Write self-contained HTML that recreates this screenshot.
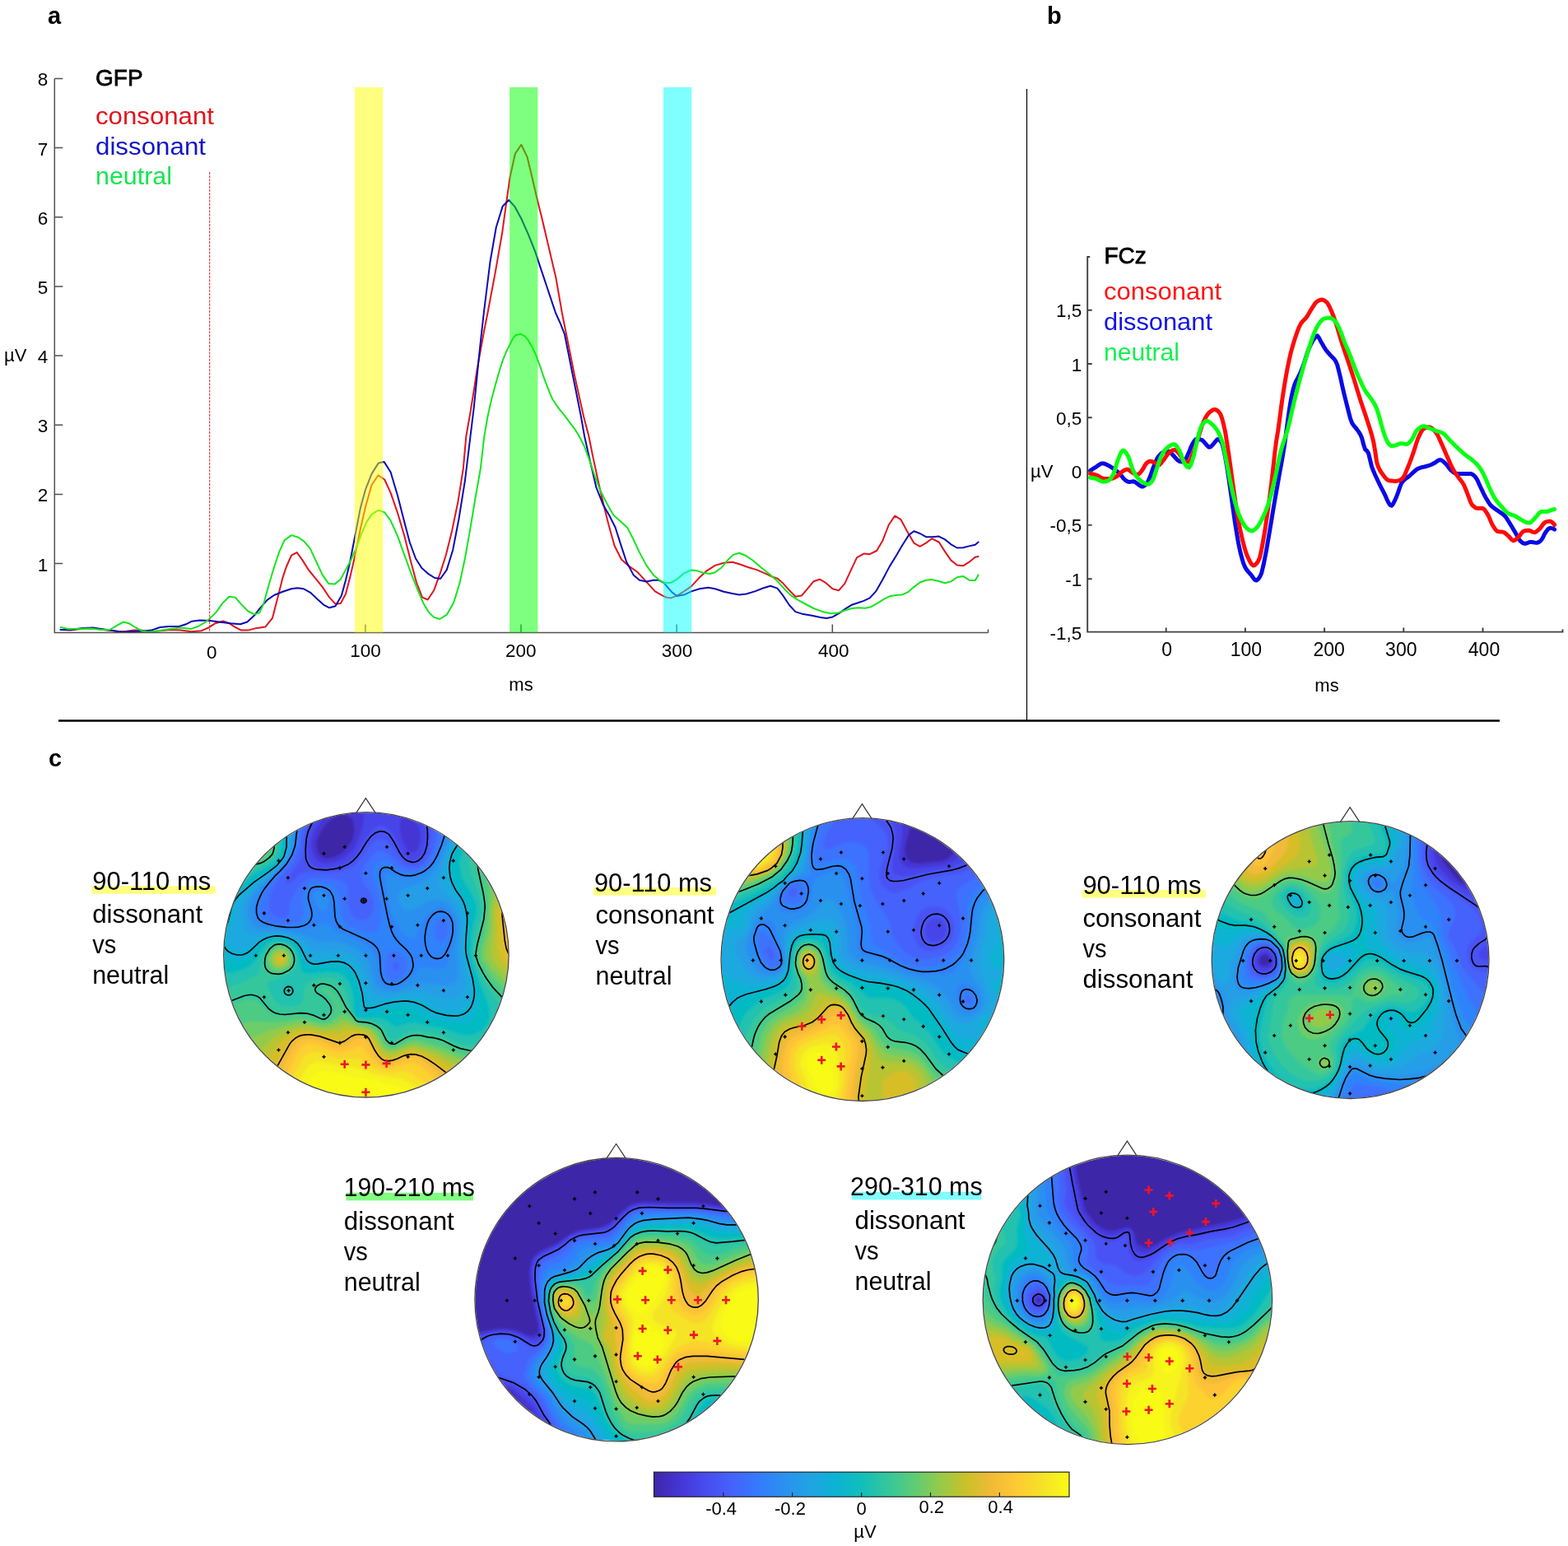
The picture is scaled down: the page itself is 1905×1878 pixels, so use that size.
<!DOCTYPE html>
<html lang="en"><head><meta charset="utf-8"><title>GFP, FCz and topographic difference maps</title>
<style>
html,body{margin:0;padding:0;background:#fff;width:1905px;height:1878px;overflow:hidden}
svg{display:block}
text{font-family:'Liberation Sans', sans-serif}
.ax{stroke:#505050;stroke-width:1.5;fill:none}
.tk{font-size:22px}
.ln{fill:none;stroke-linejoin:round;stroke-linecap:round}
</style></head><body>
<svg width="1905" height="1878" viewBox="0 0 1905 1878" role="img" aria-label="GFP and FCz waveforms with topographic difference maps">
<rect width="1905" height="1878" fill="#fff"/>
<text x="58" y="29" font-size="29" font-weight="bold">a</text>
<text x="1272" y="29" font-size="29" font-weight="bold">b</text>
<text x="59" y="931" font-size="29" font-weight="bold">c</text>
<g id="chart-a">
<path class="ln" stroke="#e0141c" stroke-width="2" d="M73.6,765.0 L85.2,765.6 L102.0,763.5 L114.6,763.5 L129.3,765.6 L144.0,767.1 L152.4,767.1 L162.9,765.6 L171.3,765.6 L181.8,767.7 L194.4,766.2 L207.0,765.0 L219.6,765.6 L232.2,767.3 L244.8,766.2 L253.2,762.5 L261.6,757.2 L271.0,754.5 L278.4,757.2 L285.7,761.8 L293.1,765.6 L301.5,765.6 L312.0,762.9 L322.5,761.4 L330.9,750.9 L337.2,726.8 L343.5,701.6 L347.7,689.0 L354.0,674.7 L360.7,671.1 L367.6,680.6 L375.0,692.5 L383.4,702.6 L391.8,713.1 L400.2,725.7 L407.5,733.7 L413.8,733.1 L420.0,721.5 L425.2,701.6 L431.5,674.3 L437.8,642.8 L444.1,615.5 L451.5,589.2 L459.5,577.3 L467.2,582.5 L474.6,598.7 L483.0,622.8 L491.4,651.2 L498.7,680.6 L506.1,707.9 L513.0,725.7 L519.7,728.5 L527.1,717.3 L534.4,697.4 L541.8,674.3 L549.1,644.9 L556.5,609.2 L562.8,569.3 L566.3,530.0 L571.5,500.7 L575.7,474.5 L579.9,447.2 L584.1,424.1 L588.3,401.0 L592.5,380.0 L601.8,330.6 L610.2,282.3 L615.4,244.5 L619.6,215.1 L625.9,186.7 L633.3,175.8 L640.6,190.9 L645.9,213.0 L652.2,240.3 L658.5,265.5 L666.9,301.2 L675.3,336.9 L682.8,380.0 L687.0,401.0 L692.3,427.2 L697.5,453.5 L702.8,477.6 L709.1,506.0 L715.4,530.0 L720.3,554.6 L726.6,584.0 L732.9,611.3 L739.2,636.5 L746.5,662.7 L754.9,679.5 L764.4,687.9 L774.9,695.3 L785.4,706.8 L795.9,718.4 L806.4,724.3 L810.0,725.7 L815.2,726.4 L822.6,723.6 L831.0,718.4 L840.0,712.1 L848.8,702.6 L858.3,693.6 L868.8,686.9 L879.3,683.7 L889.8,682.7 L898.2,685.2 L908.7,689.0 L919.2,692.1 L929.7,696.7 L938.1,700.5 L944.4,702.6 L950.7,707.9 L959.1,717.3 L966.4,724.7 L973.8,723.6 L981.1,715.2 L988.5,706.2 L995.8,703.7 L1003.2,707.9 L1011.6,715.2 L1018.9,717.3 L1026.3,708.9 L1033.6,693.2 L1041.0,677.4 L1049.4,672.6 L1056.7,673.2 L1065.1,669.0 L1072.5,656.4 L1079.8,637.5 L1087.2,626.6 L1094.5,631.2 L1101.9,644.9 L1110.3,659.6 L1117.6,663.8 L1125.0,659.6 L1132.3,654.3 L1140.7,658.5 L1148.1,670.1 L1155.4,680.6 L1162.8,686.5 L1170.1,687.3 L1177.5,682.7 L1184.8,676.8 L1188.6,676.0"/>
<path class="ln" stroke="#0a0ab4" stroke-width="2" d="M73.6,765.0 L87.3,765.0 L99.9,762.9 L112.5,762.5 L123.0,764.1 L133.5,765.6 L148.2,767.7 L160.8,767.1 L173.4,766.7 L183.9,765.6 L194.4,762.0 L204.9,761.0 L217.5,761.0 L225.9,758.3 L233.2,754.7 L242.7,753.6 L255.3,754.1 L267.9,755.7 L280.5,757.2 L292.0,758.3 L300.4,755.5 L308.8,747.8 L316.2,738.3 L324.6,728.9 L333.0,723.0 L343.5,718.8 L354.0,715.2 L361.3,714.2 L368.7,715.2 L377.1,719.8 L385.5,727.8 L393.9,735.2 L400.2,738.3 L407.5,736.2 L414.9,723.6 L420.0,704.7 L425.2,682.7 L431.5,650.1 L437.8,617.6 L444.1,594.5 L451.5,575.6 L459.9,562.4 L466.6,560.9 L474.6,573.5 L483.0,601.8 L490.3,630.2 L497.7,658.5 L505.0,678.5 L512.4,690.0 L520.8,697.4 L528.1,702.0 L535.1,703.0 L542.8,692.1 L550.2,668.0 L557.5,630.2 L564.9,584.0 L571.5,530.0 L575.7,495.5 L578.9,464.0 L582.0,432.5 L585.2,403.1 L587.8,380.0 L595.5,318.0 L602.8,276.0 L610.6,250.8 L618.2,243.0 L625.3,250.8 L633.3,265.5 L641.7,284.4 L650.1,305.4 L658.5,330.6 L664.8,349.5 L671.1,368.4 L675.0,380.0 L680.7,392.6 L686.0,406.2 L690.2,427.2 L695.4,453.5 L700.7,479.7 L705.9,506.0 L710.1,530.0 L716.1,556.7 L724.5,592.4 L732.9,613.4 L740.2,626.0 L747.6,640.7 L753.9,660.6 L761.2,682.7 L769.6,698.4 L777.0,704.7 L785.4,706.4 L793.8,704.7 L800.1,704.7 L806.4,707.9 L810.0,712.1 L816.3,719.4 L822.6,724.0 L831.0,722.6 L840.0,718.4 L849.9,715.2 L860.4,713.8 L868.8,715.2 L879.3,718.8 L889.8,721.1 L898.2,722.6 L906.6,721.5 L917.1,718.4 L927.6,714.2 L936.0,711.7 L944.4,714.6 L950.7,722.6 L959.1,735.2 L966.4,743.1 L975.9,746.1 L986.4,747.8 L996.9,749.9 L1004.2,750.9 L1011.6,749.4 L1020.0,744.6 L1027.3,739.4 L1034.7,734.8 L1043.1,732.0 L1049.4,729.9 L1056.7,726.4 L1064.1,718.4 L1072.5,703.7 L1080.9,687.9 L1089.3,674.3 L1096.6,661.7 L1104.0,650.1 L1110.3,645.3 L1117.6,648.0 L1125.0,652.2 L1133.4,652.2 L1140.7,651.6 L1148.1,655.4 L1155.4,661.3 L1162.8,665.5 L1170.1,665.2 L1177.5,663.4 L1184.8,661.7 L1188.6,658.5"/>
<path class="ln" stroke="#14e61e" stroke-width="2" d="M73.6,762.0 L83.1,764.1 L97.8,763.7 L110.4,763.5 L123.0,765.0 L133.5,765.0 L142.9,759.3 L149.9,755.5 L156.6,757.2 L165.0,762.5 L173.4,766.7 L181.8,767.7 L192.3,766.2 L207.0,764.1 L219.6,762.5 L232.2,763.9 L240.6,761.0 L249.0,756.2 L255.3,750.9 L262.6,743.6 L270.0,733.1 L278.4,724.7 L285.7,725.7 L293.1,734.1 L301.5,742.5 L308.8,746.1 L315.1,744.6 L320.4,733.1 L326.7,710.0 L333.0,689.0 L339.3,670.1 L345.6,656.4 L354.0,650.1 L362.4,652.7 L369.7,657.9 L377.1,666.9 L384.4,682.7 L391.8,698.4 L399.1,708.9 L406.5,709.6 L413.8,703.7 L420.0,692.1 L426.3,680.6 L432.6,665.9 L438.9,649.1 L445.2,634.4 L451.5,624.9 L459.9,619.7 L467.2,622.4 L474.6,632.3 L483.0,651.2 L491.4,674.3 L499.8,697.4 L508.2,718.4 L514.5,733.1 L520.8,743.6 L527.1,749.9 L534.4,752.0 L542.8,746.7 L551.2,732.0 L558.6,707.9 L564.9,678.5 L571.2,642.8 L577.5,605.0 L583.8,569.3 L588.3,530.0 L592.5,506.0 L596.7,487.1 L602.0,467.1 L606.2,452.4 L610.4,438.8 L614.6,428.3 L618.8,419.9 L623.0,411.5 L626.1,407.3 L632.4,405.7 L637.7,408.3 L641.9,413.6 L646.1,420.9 L650.3,429.3 L653.4,437.7 L656.6,446.1 L659.7,455.6 L663.9,467.1 L668.1,477.6 L671.3,485.0 L675.5,491.3 L679.7,497.1 L686.0,504.9 L692.3,513.3 L698.6,521.7 L703.8,530.0 L709.8,542.0 L716.1,558.8 L722.4,577.7 L728.7,594.5 L737.1,611.3 L745.5,626.0 L753.9,633.3 L762.3,641.1 L768.6,653.3 L777.0,671.1 L785.4,686.9 L793.8,698.4 L802.2,705.4 L808.5,708.5 L810.0,707.9 L815.2,707.9 L822.6,703.7 L831.0,696.3 L840.0,692.5 L847.8,693.6 L856.2,696.3 L862.5,697.0 L868.8,695.3 L877.2,689.0 L883.5,681.0 L890.8,673.9 L898.2,671.8 L905.5,674.7 L915.0,681.0 L925.5,690.0 L936.0,698.4 L944.4,705.8 L952.8,715.2 L961.2,723.6 L969.6,728.9 L978.0,733.5 L988.5,739.0 L999.0,742.9 L1009.5,745.2 L1017.9,744.6 L1026.3,741.5 L1034.7,739.0 L1043.1,738.3 L1051.5,738.7 L1057.8,737.3 L1066.2,732.7 L1074.6,727.4 L1080.9,724.3 L1088.2,723.0 L1095.6,722.6 L1102.9,719.4 L1110.3,713.1 L1117.6,707.5 L1125.0,704.7 L1132.3,704.1 L1139.7,705.8 L1148.1,708.3 L1155.4,706.4 L1162.8,701.2 L1170.1,699.9 L1177.5,704.7 L1184.8,705.1 L1188.6,698.4"/>
<path d="M254.7,209V768" stroke="#e0141c" stroke-width="1" stroke-dasharray="3 1.2" fill="none"/>
<path class="ax" d="M66.3,95.5V768.4H1200.5M66.3,684.6h10M66.3,600.4h10M66.3,516.2h10M66.3,432.1h10M66.3,348.0h10M66.3,263.8h10M66.3,179.6h10M66.3,95.5h10M443.9,768.4v-10M633.0,768.4v-10M822.1,768.4v-10M1011.3,768.4v-10M1200.5,768.4v-4"/>
<rect x="431.0" y="106" width="34.3" height="662.4" fill="#ffff00" fill-opacity="0.5"/>
<rect x="619.1" y="106" width="34.3" height="662.4" fill="#00ff00" fill-opacity="0.5"/>
<rect x="805.9" y="106" width="34.3" height="662.4" fill="#00ffff" fill-opacity="0.5"/>
<text x="58.3" y="693.5" font-size="22.5" text-anchor="end">1</text>
<text x="58.3" y="609.3" font-size="22.5" text-anchor="end">2</text>
<text x="58.3" y="525.1" font-size="22.5" text-anchor="end">3</text>
<text x="58.3" y="441.0" font-size="22.5" text-anchor="end">4</text>
<text x="58.3" y="356.9" font-size="22.5" text-anchor="end">5</text>
<text x="58.3" y="272.7" font-size="22.5" text-anchor="end">6</text>
<text x="58.3" y="188.5" font-size="22.5" text-anchor="end">7</text>
<text x="58.3" y="104.4" font-size="22.5" text-anchor="end">8</text>
<text x="257.2" y="800.3" font-size="22.5" text-anchor="middle">0</text>
<text x="443.9" y="797.8" font-size="22.5" text-anchor="middle">100</text>
<text x="632.7" y="797.8" font-size="22.5" text-anchor="middle">200</text>
<text x="822.6" y="797.8" font-size="22.5" text-anchor="middle">300</text>
<text x="1012.8" y="797.8" font-size="22.5" text-anchor="middle">400</text>
<text x="5" y="439" font-size="22">µV</text>
<text x="633" y="839" font-size="22" text-anchor="middle">ms</text>
<text x="116" y="104" font-size="28" stroke="#000" stroke-width="0.8">GFP</text>
<text x="116" y="150.5" font-size="30" fill="#e0141c" textLength="144" lengthAdjust="spacingAndGlyphs">consonant</text>
<text x="116" y="187.5" font-size="30" fill="#1414c8" textLength="134" lengthAdjust="spacingAndGlyphs">dissonant</text>
<text x="116" y="224" font-size="30" fill="#14e650" textLength="93" lengthAdjust="spacingAndGlyphs">neutral</text>
</g>
<path d="M1247.5,108V875" stroke="#000" stroke-width="1.2" fill="none"/>
<path d="M71,875.5H1822" stroke="#000" stroke-width="2.6" fill="none"/>
<g id="chart-b">
<path class="ln" stroke="#0a0ae6" stroke-width="5" d="M1324.6,571.6 L1326.6,570.3 L1328.6,569.0 L1330.6,567.8 L1332.6,566.6 L1334.6,565.1 L1336.6,563.7 L1338.6,562.9 L1340.6,562.9 L1342.6,563.6 L1344.6,564.4 L1346.6,565.4 L1348.6,566.5 L1350.6,567.8 L1352.6,569.3 L1354.6,570.7 L1356.6,572.2 L1358.6,573.8 L1360.6,575.7 L1362.6,578.1 L1364.6,580.7 L1366.6,582.7 L1368.6,584.2 L1370.6,585.2 L1372.6,585.4 L1374.6,585.1 L1376.6,584.8 L1378.6,585.3 L1380.6,586.7 L1382.6,588.1 L1384.6,589.7 L1386.6,590.9 L1388.6,591.0 L1390.6,589.9 L1392.6,588.2 L1394.6,585.2 L1396.6,580.6 L1398.6,575.4 L1400.6,569.4 L1402.6,564.2 L1404.6,559.6 L1406.6,555.7 L1408.6,553.1 L1410.6,551.0 L1412.6,549.6 L1414.6,549.0 L1416.6,548.7 L1418.6,548.5 L1420.6,548.6 L1422.6,549.9 L1424.6,552.3 L1426.6,554.5 L1428.6,556.7 L1430.6,558.9 L1432.6,560.2 L1434.6,560.7 L1436.6,561.0 L1438.6,560.9 L1440.6,558.0 L1442.6,553.6 L1444.6,549.1 L1446.6,543.8 L1448.6,539.5 L1450.6,536.2 L1452.6,533.8 L1454.6,533.4 L1456.6,533.6 L1458.6,534.0 L1460.6,534.7 L1462.6,536.6 L1464.6,539.0 L1466.6,541.2 L1468.6,543.2 L1470.6,543.1 L1472.6,541.1 L1474.6,538.8 L1476.6,536.4 L1478.6,534.0 L1480.6,533.5 L1482.6,535.3 L1484.6,538.4 L1486.6,545.7 L1488.6,555.5 L1490.6,566.9 L1492.6,579.7 L1494.6,593.4 L1496.6,607.7 L1498.6,622.1 L1500.6,636.0 L1502.6,648.4 L1504.6,660.0 L1506.6,669.3 L1508.6,677.3 L1510.6,684.1 L1512.6,688.9 L1514.6,692.1 L1516.6,694.6 L1518.6,696.8 L1520.6,699.1 L1522.6,702.0 L1524.6,704.4 L1526.6,705.1 L1528.6,703.6 L1530.6,700.7 L1532.6,696.3 L1534.6,688.2 L1536.6,678.6 L1538.6,668.3 L1540.6,656.7 L1542.6,644.9 L1544.6,632.9 L1546.6,620.7 L1548.6,608.9 L1550.6,597.5 L1552.6,586.2 L1554.6,574.9 L1556.6,564.0 L1558.6,552.9 L1560.6,540.6 L1562.6,525.6 L1564.6,510.4 L1566.6,496.4 L1568.6,484.3 L1570.6,475.0 L1572.6,467.8 L1574.6,463.0 L1576.6,459.4 L1578.6,455.4 L1580.6,450.9 L1582.6,445.9 L1584.6,440.4 L1586.6,434.0 L1588.6,427.8 L1590.6,422.8 L1592.6,418.3 L1594.6,414.5 L1596.6,411.4 L1598.6,408.7 L1600.6,407.8 L1602.6,410.7 L1604.6,414.7 L1606.6,418.1 L1608.6,421.6 L1610.6,424.7 L1612.6,427.3 L1614.6,429.5 L1616.6,431.8 L1618.6,433.9 L1620.6,435.8 L1622.6,438.4 L1624.6,442.9 L1626.6,450.6 L1628.6,458.9 L1630.6,468.2 L1632.6,476.9 L1634.6,485.0 L1636.6,492.8 L1638.6,500.8 L1640.6,508.6 L1642.6,513.8 L1644.6,516.8 L1646.6,519.1 L1648.6,521.6 L1650.6,524.4 L1652.6,527.6 L1654.6,532.2 L1656.6,539.9 L1658.6,546.1 L1660.6,547.6 L1662.6,550.7 L1664.6,558.9 L1666.6,566.9 L1668.6,572.1 L1670.6,576.7 L1672.6,581.0 L1674.6,585.2 L1676.6,589.3 L1678.6,593.3 L1680.6,597.1 L1682.6,601.1 L1684.6,605.7 L1686.6,610.0 L1688.6,613.2 L1690.6,614.2 L1692.6,612.0 L1694.6,607.9 L1696.6,603.5 L1698.6,598.1 L1700.6,592.1 L1702.6,587.1 L1704.6,584.4 L1706.6,582.5 L1708.6,580.9 L1710.6,579.5 L1712.6,577.8 L1714.6,576.0 L1716.6,574.1 L1718.6,572.3 L1720.6,570.7 L1722.6,569.4 L1724.6,568.6 L1726.6,567.9 L1728.6,567.4 L1730.6,567.0 L1732.6,566.5 L1734.6,565.9 L1736.6,565.3 L1738.6,564.5 L1740.6,563.6 L1742.6,562.6 L1744.6,561.2 L1746.6,559.7 L1748.6,558.7 L1750.6,558.8 L1752.6,559.9 L1754.6,561.6 L1756.6,563.5 L1758.6,565.9 L1760.6,568.7 L1762.6,571.0 L1764.6,572.7 L1766.6,574.3 L1768.6,575.3 L1770.6,575.4 L1772.6,575.4 L1774.6,575.4 L1776.6,575.4 L1778.6,575.4 L1780.6,575.4 L1782.6,575.4 L1784.6,575.4 L1786.6,575.4 L1788.6,576.1 L1790.6,577.6 L1792.6,579.6 L1794.6,582.6 L1796.6,587.0 L1798.6,591.5 L1800.6,595.6 L1802.6,599.8 L1804.6,603.7 L1806.6,607.1 L1808.6,610.4 L1810.6,613.2 L1812.6,615.3 L1814.6,616.9 L1816.6,618.2 L1818.6,619.6 L1820.6,621.0 L1822.6,622.4 L1824.6,623.7 L1826.6,625.2 L1828.6,627.1 L1830.6,629.8 L1832.6,633.0 L1834.6,636.3 L1836.6,639.5 L1838.6,642.9 L1840.6,646.2 L1842.6,649.8 L1844.6,653.6 L1846.6,656.6 L1848.6,658.5 L1850.6,659.9 L1852.6,660.4 L1854.6,660.0 L1856.6,659.2 L1858.6,658.5 L1860.6,658.4 L1862.6,658.7 L1864.6,659.1 L1866.6,659.4 L1868.6,659.0 L1870.6,657.8 L1872.6,656.0 L1874.6,652.7 L1876.6,648.5 L1878.6,645.5 L1880.6,642.9 L1882.6,641.6 L1884.6,641.6 L1886.6,641.9 L1888.6,643.1"/>
<path class="ln" stroke="#ff0a0a" stroke-width="5" d="M1324.6,575.4 L1326.6,575.7 L1328.6,576.1 L1330.6,576.7 L1332.6,577.3 L1334.6,578.4 L1336.6,579.7 L1338.6,580.8 L1340.6,581.3 L1342.6,581.4 L1344.6,581.6 L1346.6,581.6 L1348.6,581.7 L1350.6,581.5 L1352.6,580.8 L1354.6,579.9 L1356.6,578.8 L1358.6,577.4 L1360.6,575.4 L1362.6,573.5 L1364.6,572.2 L1366.6,571.0 L1368.6,570.3 L1370.6,570.3 L1372.6,571.6 L1374.6,573.4 L1376.6,574.6 L1378.6,575.5 L1380.6,576.2 L1382.6,576.4 L1384.6,575.0 L1386.6,572.5 L1388.6,569.7 L1390.6,566.0 L1392.6,563.0 L1394.6,561.3 L1396.6,560.3 L1398.6,560.5 L1400.6,561.1 L1402.6,561.9 L1404.6,563.3 L1406.6,564.7 L1408.6,564.6 L1410.6,562.7 L1412.6,560.1 L1414.6,557.6 L1416.6,554.7 L1418.6,551.8 L1420.6,549.8 L1422.6,548.1 L1424.6,546.9 L1426.6,546.4 L1428.6,547.2 L1430.6,549.0 L1432.6,551.1 L1434.6,554.1 L1436.6,558.0 L1438.6,560.5 L1440.6,560.9 L1442.6,561.1 L1444.6,561.0 L1446.6,558.0 L1448.6,552.6 L1450.6,547.4 L1452.6,541.4 L1454.6,535.1 L1456.6,528.9 L1458.6,522.4 L1460.6,516.2 L1462.6,511.4 L1464.6,507.4 L1466.6,504.1 L1468.6,501.7 L1470.6,499.9 L1472.6,498.4 L1474.6,497.4 L1476.6,497.4 L1478.6,498.4 L1480.6,500.2 L1482.6,502.7 L1484.6,508.0 L1486.6,515.7 L1488.6,524.8 L1490.6,537.0 L1492.6,550.3 L1494.6,564.3 L1496.6,579.1 L1498.6,593.4 L1500.6,607.6 L1502.6,620.8 L1504.6,632.3 L1506.6,642.7 L1508.6,651.9 L1510.6,660.0 L1512.6,667.4 L1514.6,673.6 L1516.6,678.1 L1518.6,682.2 L1520.6,685.4 L1522.6,687.0 L1524.6,686.6 L1526.6,684.6 L1528.6,681.6 L1530.6,676.9 L1532.6,667.8 L1534.6,657.1 L1536.6,645.5 L1538.6,632.2 L1540.6,618.2 L1542.6,603.4 L1544.6,587.6 L1546.6,570.3 L1548.6,551.6 L1550.6,535.7 L1552.6,523.9 L1554.6,509.6 L1556.6,494.1 L1558.6,480.2 L1560.6,467.3 L1562.6,455.7 L1564.6,444.9 L1566.6,435.5 L1568.6,427.2 L1570.6,419.9 L1572.6,413.3 L1574.6,407.2 L1576.6,401.5 L1578.6,396.6 L1580.6,392.9 L1582.6,390.4 L1584.6,388.3 L1586.6,386.3 L1588.6,383.5 L1590.6,380.1 L1592.6,376.6 L1594.6,373.4 L1596.6,370.3 L1598.6,367.5 L1600.6,365.9 L1602.6,364.9 L1604.6,364.2 L1606.6,364.0 L1608.6,364.8 L1610.6,366.2 L1612.6,368.0 L1614.6,371.4 L1616.6,375.7 L1618.6,380.3 L1620.6,385.5 L1622.6,391.3 L1624.6,397.4 L1626.6,404.2 L1628.6,411.1 L1630.6,417.5 L1632.6,423.5 L1634.6,429.4 L1636.6,435.3 L1638.6,441.3 L1640.6,447.2 L1642.6,453.2 L1644.6,459.4 L1646.6,465.8 L1648.6,472.4 L1650.6,479.0 L1652.6,485.4 L1654.6,491.5 L1656.6,497.4 L1658.6,503.2 L1660.6,509.3 L1662.6,515.6 L1664.6,521.8 L1666.6,528.4 L1668.6,536.3 L1670.6,547.4 L1672.6,561.4 L1674.6,567.4 L1676.6,571.5 L1678.6,574.5 L1680.6,577.2 L1682.6,579.9 L1684.6,582.1 L1686.6,583.5 L1688.6,583.9 L1690.6,584.1 L1692.6,584.3 L1694.6,584.4 L1696.6,584.4 L1698.6,584.0 L1700.6,583.2 L1702.6,582.2 L1704.6,580.5 L1706.6,576.9 L1708.6,572.2 L1710.6,567.3 L1712.6,562.4 L1714.6,557.0 L1716.6,551.4 L1718.6,545.4 L1720.6,538.8 L1722.6,533.0 L1724.6,528.6 L1726.6,524.6 L1728.6,521.6 L1730.6,520.3 L1732.6,519.4 L1734.6,518.8 L1736.6,518.7 L1738.6,519.6 L1740.6,521.1 L1742.6,523.1 L1744.6,525.3 L1746.6,528.5 L1748.6,532.7 L1750.6,537.3 L1752.6,541.7 L1754.6,546.3 L1756.6,550.9 L1758.6,555.5 L1760.6,560.1 L1762.6,564.6 L1764.6,568.8 L1766.6,572.3 L1768.6,575.3 L1770.6,578.1 L1772.6,580.9 L1774.6,583.3 L1776.6,585.9 L1778.6,589.3 L1780.6,594.0 L1782.6,599.2 L1784.6,604.4 L1786.6,609.9 L1788.6,613.4 L1790.6,615.3 L1792.6,616.8 L1794.6,617.4 L1796.6,617.4 L1798.6,617.4 L1800.6,617.4 L1802.6,618.1 L1804.6,620.5 L1806.6,623.6 L1808.6,627.1 L1810.6,631.9 L1812.6,636.5 L1814.6,639.9 L1816.6,642.9 L1818.6,645.1 L1820.6,645.8 L1822.6,646.0 L1824.6,646.1 L1826.6,646.4 L1828.6,647.5 L1830.6,649.3 L1832.6,651.0 L1834.6,653.2 L1836.6,655.6 L1838.6,656.8 L1840.6,656.2 L1842.6,654.5 L1844.6,652.5 L1846.6,650.3 L1848.6,647.6 L1850.6,645.5 L1852.6,644.8 L1854.6,644.5 L1856.6,644.3 L1858.6,644.4 L1860.6,645.4 L1862.6,646.4 L1864.6,646.7 L1866.6,645.7 L1868.6,644.1 L1870.6,642.3 L1872.6,639.9 L1874.6,637.0 L1876.6,634.8 L1878.6,633.9 L1880.6,633.4 L1882.6,633.1 L1884.6,633.6 L1886.6,635.2 L1888.6,637.5"/>
<path class="ln" stroke="#0aff14" stroke-width="5" d="M1324.6,580.2 L1326.6,580.5 L1328.6,580.9 L1330.6,581.3 L1332.6,581.9 L1334.6,582.9 L1336.6,584.0 L1338.6,584.9 L1340.6,585.2 L1342.6,585.0 L1344.6,584.5 L1346.6,583.8 L1348.6,582.3 L1350.6,579.6 L1352.6,576.0 L1354.6,570.8 L1356.6,563.5 L1358.6,557.6 L1360.6,552.7 L1362.6,548.6 L1364.6,547.0 L1366.6,548.2 L1368.6,550.7 L1370.6,554.1 L1372.6,559.1 L1374.6,566.1 L1376.6,571.3 L1378.6,575.2 L1380.6,578.4 L1382.6,580.9 L1384.6,582.9 L1386.6,584.6 L1388.6,585.9 L1390.6,587.0 L1392.6,587.9 L1394.6,588.4 L1396.6,587.8 L1398.6,585.8 L1400.6,583.1 L1402.6,578.1 L1404.6,571.6 L1406.6,565.7 L1408.6,559.6 L1410.6,554.6 L1412.6,550.9 L1414.6,547.7 L1416.6,545.2 L1418.6,543.5 L1420.6,542.0 L1422.6,540.8 L1424.6,540.0 L1426.6,539.7 L1428.6,540.9 L1430.6,543.6 L1432.6,546.8 L1434.6,551.3 L1436.6,557.2 L1438.6,562.1 L1440.6,565.0 L1442.6,567.3 L1444.6,568.0 L1446.6,564.9 L1448.6,559.3 L1450.6,552.7 L1452.6,543.3 L1454.6,534.1 L1456.6,526.4 L1458.6,519.6 L1460.6,515.8 L1462.6,513.5 L1464.6,511.8 L1466.6,511.4 L1468.6,512.1 L1470.6,513.7 L1472.6,515.5 L1474.6,517.4 L1476.6,519.6 L1478.6,522.4 L1480.6,525.8 L1482.6,530.2 L1484.6,535.6 L1486.6,542.9 L1488.6,552.9 L1490.6,563.4 L1492.6,574.0 L1494.6,584.6 L1496.6,594.0 L1498.6,602.6 L1500.6,610.4 L1502.6,617.1 L1504.6,623.1 L1506.6,628.3 L1508.6,632.6 L1510.6,636.2 L1512.6,639.3 L1514.6,641.5 L1516.6,643.1 L1518.6,644.4 L1520.6,645.1 L1522.6,644.6 L1524.6,643.1 L1526.6,641.1 L1528.6,638.8 L1530.6,635.7 L1532.6,631.9 L1534.6,627.8 L1536.6,623.4 L1538.6,618.5 L1540.6,613.0 L1542.6,606.8 L1544.6,599.4 L1546.6,591.1 L1548.6,582.5 L1550.6,573.6 L1552.6,564.0 L1554.6,554.4 L1556.6,546.1 L1558.6,539.4 L1560.6,533.6 L1562.6,527.8 L1564.6,521.2 L1566.6,513.0 L1568.6,504.0 L1570.6,495.1 L1572.6,486.8 L1574.6,478.8 L1576.6,471.0 L1578.6,463.4 L1580.6,456.0 L1582.6,448.8 L1584.6,441.8 L1586.6,435.0 L1588.6,428.5 L1590.6,422.1 L1592.6,415.7 L1594.6,409.7 L1596.6,404.6 L1598.6,400.0 L1600.6,396.1 L1602.6,393.0 L1604.6,390.4 L1606.6,388.3 L1608.6,387.1 L1610.6,386.6 L1612.6,386.2 L1614.6,386.0 L1616.6,386.3 L1618.6,387.3 L1620.6,388.7 L1622.6,390.6 L1624.6,393.9 L1626.6,397.8 L1628.6,402.2 L1630.6,407.6 L1632.6,413.3 L1634.6,418.4 L1636.6,423.0 L1638.6,427.6 L1640.6,432.4 L1642.6,437.8 L1644.6,443.2 L1646.6,448.4 L1648.6,453.3 L1650.6,458.0 L1652.6,462.4 L1654.6,466.8 L1656.6,470.9 L1658.6,474.6 L1660.6,477.6 L1662.6,480.1 L1664.6,482.7 L1666.6,485.6 L1668.6,488.6 L1670.6,492.1 L1672.6,496.6 L1674.6,502.6 L1676.6,509.5 L1678.6,517.1 L1680.6,523.9 L1682.6,529.9 L1684.6,534.9 L1686.6,538.1 L1688.6,540.6 L1690.6,541.8 L1692.6,541.6 L1694.6,541.1 L1696.6,540.6 L1698.6,539.7 L1700.6,538.9 L1702.6,538.6 L1704.6,538.9 L1706.6,539.4 L1708.6,539.7 L1710.6,539.0 L1712.6,537.1 L1714.6,534.8 L1716.6,531.7 L1718.6,527.4 L1720.6,523.6 L1722.6,521.6 L1724.6,519.9 L1726.6,518.5 L1728.6,517.7 L1730.6,517.7 L1732.6,518.3 L1734.6,519.2 L1736.6,520.2 L1738.6,521.0 L1740.6,521.8 L1742.6,522.5 L1744.6,523.3 L1746.6,524.0 L1748.6,524.6 L1750.6,525.2 L1752.6,526.0 L1754.6,527.3 L1756.6,529.3 L1758.6,531.6 L1760.6,533.9 L1762.6,535.9 L1764.6,538.0 L1766.6,540.0 L1768.6,542.0 L1770.6,543.9 L1772.6,545.8 L1774.6,547.6 L1776.6,549.4 L1778.6,551.1 L1780.6,552.7 L1782.6,554.2 L1784.6,555.7 L1786.6,557.1 L1788.6,558.7 L1790.6,560.5 L1792.6,562.3 L1794.6,564.4 L1796.6,566.7 L1798.6,569.5 L1800.6,572.8 L1802.6,576.5 L1804.6,580.7 L1806.6,585.5 L1808.6,590.3 L1810.6,594.7 L1812.6,599.0 L1814.6,602.9 L1816.6,606.1 L1818.6,608.9 L1820.6,611.3 L1822.6,613.6 L1824.6,615.8 L1826.6,618.1 L1828.6,620.4 L1830.6,622.3 L1832.6,623.7 L1834.6,624.6 L1836.6,625.3 L1838.6,625.9 L1840.6,626.7 L1842.6,627.8 L1844.6,629.1 L1846.6,630.5 L1848.6,631.7 L1850.6,632.7 L1852.6,633.7 L1854.6,634.6 L1856.6,635.1 L1858.6,635.1 L1860.6,633.8 L1862.6,631.8 L1864.6,629.5 L1866.6,627.4 L1868.6,624.8 L1870.6,622.5 L1872.6,621.6 L1874.6,621.6 L1876.6,621.6 L1878.6,621.6 L1880.6,621.2 L1882.6,620.4 L1884.6,619.6 L1886.6,619.0 L1888.6,618.6"/>
<path class="ax" style="stroke:#404040;stroke-width:1.9" d="M1324.2,312H1321.2V767.6H1898.5v-3M1321.2,376.7h5.5M1321.2,442.0h5.5M1321.2,507.3h5.5M1321.2,572.6h5.5M1321.2,637.9h5.5M1321.2,703.2h5.5M1416.7,767.6v-5M1512.9,767.6v-5M1609.1,767.6v-5M1705.3,767.6v-5M1801.5,767.6v-5"/>
<text x="1314.3" y="385.2" font-size="22.5" text-anchor="end">1,5</text>
<text x="1314.3" y="450.5" font-size="22.5" text-anchor="end">1</text>
<text x="1314.3" y="515.8" font-size="22.5" text-anchor="end">0,5</text>
<text x="1314.3" y="581.1" font-size="22.5" text-anchor="end">0</text>
<text x="1314.3" y="646.4" font-size="22.5" text-anchor="end">-0,5</text>
<text x="1314.3" y="711.7" font-size="22.5" text-anchor="end">-1</text>
<text x="1314.3" y="777.0" font-size="22.5" text-anchor="end">-1,5</text>
<text x="1417.7" y="797" font-size="23" text-anchor="middle">0</text>
<text x="1513.9" y="797" font-size="23" text-anchor="middle">100</text>
<text x="1614.6" y="797" font-size="23" text-anchor="middle">200</text>
<text x="1702.3" y="797" font-size="23" text-anchor="middle">300</text>
<text x="1803.0" y="797" font-size="23" text-anchor="middle">400</text>
<text x="1252" y="580" font-size="22">µV</text>
<text x="1612" y="840" font-size="22" text-anchor="middle">ms</text>
<text x="1341.5" y="320" font-size="28" stroke="#000" stroke-width="0.8">FCz</text>
<text x="1341" y="364" font-size="30" fill="#ff1414" textLength="143" lengthAdjust="spacingAndGlyphs">consonant</text>
<text x="1341" y="401" font-size="30" fill="#1414e6" textLength="132" lengthAdjust="spacingAndGlyphs">dissonant</text>
<text x="1341" y="438" font-size="30" fill="#14f050" textLength="92" lengthAdjust="spacingAndGlyphs">neutral</text>
</g>
<defs><filter id="bl" x="-5%" y="-5%" width="110%" height="110%"><feGaussianBlur stdDeviation="1.6"/></filter></defs>
<g id="map1">
<clipPath id="cp0"><circle cx="444.9" cy="1159.8" r="172.6"/></clipPath>
<path d="M432.4,987.8L444.4,969.6L456.4,987.8" fill="#fff" stroke="#333" stroke-width="1.2"/>
<g clip-path="url(#cp0)"><g filter="url(#bl)">
<circle cx="444.9" cy="1159.8" r="175.2" fill="#3e26a8"/>
<path fill="#4536d5" fill-rule="evenodd" d="M258,973 632,973 632,1347 258,1347ZM413,990 406,993 398,999 391,1008 387,1016 384,1023 385,1031 387,1037 390,1040 393,1042 396,1043 402,1042 407,1041 413,1038 418,1034 421,1031 425,1025 428,1020 430,1014 431,1008 430,1003 429,997 426,993 422,991 419,989Z"/>
<path fill="#4744e9" fill-rule="evenodd" d="M258,973 632,973 632,1347 258,1347ZM422,974 417,976 411,978 406,981 400,985 394,991 391,996 382,1010 380,1016 379,1021 378,1027 379,1033 381,1038 383,1042 385,1045 389,1047 394,1049 400,1048 407,1047 415,1044 421,1040 427,1034 431,1029 435,1021 438,1012 441,1003 442,991 442,988 442,984 439,980 435,976 430,975ZM490,992 487,995 486,1001 486,1010 488,1020 492,1027 495,1033 499,1035 503,1035 505,1035 507,1033 508,1030 510,1025 511,1016 510,1008 507,1001 505,999 501,995 495,992 492,992Z"/>
<path fill="#4853f5" fill-rule="evenodd" d="M258,973 401,973 393,982 383,997 378,1006 376,1012 374,1023 373,1031 374,1038 375,1042 378,1048 379,1050 383,1053 389,1054 394,1054 402,1054 411,1052 419,1049 424,1046 429,1042 434,1036 445,1017 451,1010 456,1005 462,1003 465,1003 469,1005 475,1010 479,1016 487,1033 490,1038 494,1042 497,1044 501,1045 505,1044 508,1042 512,1038 515,1031 517,1021 517,1010 515,999 512,990 508,982 502,973 632,973 632,1347 258,1347Z"/>
<path fill="#4562fc" fill-rule="evenodd" d="M258,973 391,973 381,988 373,1006 370,1015 368,1034 366,1042 362,1049 348,1068 347,1072 348,1074 350,1074 353,1072 364,1062 370,1060 374,1059 391,1060 404,1060 417,1058 424,1055 430,1052 434,1048 451,1025 456,1021 462,1019 467,1020 471,1022 475,1027 486,1042 492,1048 495,1049 501,1051 507,1050 510,1048 515,1044 519,1038 521,1031 523,1021 524,1010 522,993 520,982 517,973 632,973 632,1347 258,1347ZM439,1094 439,1094 439,1096 439,1097 441,1096 442,1094 441,1094Z"/>
<path fill="#3c72ff" fill-rule="evenodd" d="M258,973 383,973 376,987 368,1005 366,1012 364,1029 360,1040 353,1051 338,1068 335,1074 331,1081 329,1087 327,1095 327,1102 327,1106 330,1109 335,1113 338,1114 342,1115 348,1114 351,1111 352,1109 352,1106 352,1098 353,1094 362,1079 368,1072 374,1068 379,1067 389,1066 402,1067 413,1069 417,1071 421,1074 422,1076 423,1079 423,1098 425,1107 428,1112 431,1115 436,1117 439,1118 445,1117 449,1114 452,1109 454,1102 454,1094 451,1087 449,1082 441,1072 439,1066 439,1063 440,1059 442,1053 445,1048 451,1041 454,1037 458,1034 464,1034 467,1035 471,1037 486,1050 490,1053 494,1054 499,1055 505,1055 510,1053 516,1049 520,1044 525,1036 527,1029 530,1020 531,1008 531,995 530,984 528,973 632,973 632,1347 258,1347ZM480,1169 479,1170 477,1171 477,1175 477,1177 478,1179 480,1179 482,1179 484,1177 485,1175 486,1173 484,1170 482,1169Z"/>
<path fill="#2f82fa" fill-rule="evenodd" d="M258,973 376,973 370,987 365,1003 363,1010 361,1027 357,1038 350,1049 335,1066 329,1074 323,1083 319,1091 317,1100 316,1106 317,1111 320,1115 323,1117 330,1121 336,1122 346,1123 351,1123 357,1122 362,1121 366,1117 369,1111 369,1107 368,1096 368,1091 369,1085 371,1079 375,1076 379,1073 385,1072 393,1073 398,1074 403,1076 406,1078 409,1082 412,1089 414,1107 415,1113 418,1119 421,1122 426,1126 434,1129 443,1132 451,1133 456,1132 460,1128 462,1122 463,1115 463,1104 462,1092 460,1085 453,1064 453,1059 455,1053 458,1049 460,1048 464,1046 467,1046 473,1048 484,1056 488,1058 494,1060 499,1060 505,1059 510,1058 515,1055 520,1051 525,1046 529,1038 533,1027 536,1016 538,1006 538,995 539,984 538,973 632,973 632,1347 258,1347ZM473,1156 471,1157 470,1160 468,1165 467,1173 467,1181 469,1186 472,1190 475,1191 480,1191 484,1190 487,1188 492,1182 495,1177 495,1173 495,1169 492,1163 486,1158 482,1156 479,1155 475,1155ZM533,1117 531,1119 529,1122 527,1128 527,1132 528,1137 530,1141 533,1144 535,1145 538,1144 542,1140 545,1134 545,1126 544,1121 541,1117 538,1115 537,1115Z"/>
<path fill="#2c90f0" fill-rule="evenodd" d="M258,973 370,973 364,988 361,1001 359,1008 358,1025 354,1038 347,1049 326,1072 319,1079 316,1085 311,1094 309,1102 309,1109 310,1115 312,1118 314,1120 320,1123 332,1126 350,1128 363,1129 374,1128 381,1126 391,1121 394,1121 396,1122 405,1128 412,1132 437,1143 445,1148 450,1152 454,1157 456,1162 458,1167 460,1184 463,1192 465,1195 467,1197 471,1198 475,1199 480,1198 484,1197 492,1193 499,1188 508,1178 512,1175 518,1175 533,1177 537,1176 540,1175 542,1173 544,1170 546,1163 552,1137 553,1126 552,1121 551,1117 548,1111 546,1108 542,1105 538,1104 535,1103 531,1103 525,1106 519,1111 515,1117 507,1132 503,1138 501,1139 499,1140 497,1139 494,1137 488,1132 482,1124 479,1118 475,1109 471,1094 469,1081 468,1070 469,1064 471,1062 473,1062 484,1065 490,1067 495,1067 501,1066 508,1064 514,1062 520,1058 525,1053 529,1047 533,1040 539,1025 543,1014 544,1005 546,993 547,973 632,973 632,1347 258,1347ZM383,1083 387,1082 391,1082 395,1085 397,1089 399,1094 398,1100 396,1105 394,1107 393,1107 391,1107 389,1105 385,1100 382,1094 381,1091 381,1087 381,1085Z"/>
<path fill="#259de7" fill-rule="evenodd" d="M258,973 364,973 360,986 357,999 356,1008 355,1027 351,1038 348,1044 344,1049 338,1056 325,1068 316,1077 310,1085 305,1092 302,1100 301,1106 302,1113 305,1120 308,1125 310,1126 314,1128 320,1129 340,1130 355,1133 366,1135 383,1143 389,1144 402,1143 409,1144 419,1146 428,1150 434,1153 439,1157 443,1161 446,1165 449,1173 454,1191 458,1198 461,1201 464,1202 467,1204 473,1204 479,1204 485,1203 505,1196 512,1194 520,1194 538,1197 546,1196 549,1195 552,1194 554,1192 556,1188 556,1184 557,1179 555,1154 557,1134 557,1124 557,1119 555,1113 553,1109 550,1104 546,1099 540,1095 535,1093 529,1093 523,1094 518,1096 503,1105 499,1106 495,1106 492,1105 488,1101 485,1096 484,1091 485,1085 488,1081 492,1079 508,1074 516,1070 523,1064 530,1055 535,1046 546,1020 549,1012 553,993 555,973 632,973 632,1347 258,1347Z"/>
<path fill="#1da9e0" fill-rule="evenodd" d="M258,973 359,973 355,988 354,999 352,1029 350,1036 347,1042 344,1047 338,1053 317,1072 309,1079 299,1091 295,1098 294,1104 294,1111 299,1130 301,1134 303,1135 307,1135 331,1133 338,1133 348,1134 357,1137 364,1141 370,1145 378,1154 379,1155 383,1157 389,1157 402,1155 409,1154 417,1156 424,1158 432,1163 437,1169 442,1179 448,1195 451,1201 454,1206 460,1209 465,1210 473,1209 482,1208 499,1205 508,1205 518,1206 538,1212 546,1213 553,1212 559,1209 563,1204 565,1197 566,1192 565,1184 561,1160 560,1154 561,1128 561,1121 560,1111 558,1106 555,1100 550,1093 535,1079 533,1076 533,1070 536,1059 542,1038 552,1018 557,1006 561,990 563,973 632,973 632,1347 258,1347Z"/>
<path fill="#0cb3d3" fill-rule="evenodd" d="M258,973 354,973 351,986 350,999 349,1029 346,1040 344,1044 338,1051 309,1074 293,1089 288,1094 287,1098 285,1104 283,1121 278,1132 277,1137 277,1141 278,1145 280,1149 281,1150 284,1152 288,1154 292,1155 295,1154 301,1152 316,1141 325,1137 331,1136 338,1136 350,1138 357,1141 363,1145 367,1150 374,1163 376,1165 379,1167 385,1168 402,1165 411,1164 419,1166 422,1168 426,1170 431,1175 435,1180 438,1188 446,1212 448,1216 451,1218 456,1218 482,1214 492,1213 501,1213 507,1214 512,1216 527,1223 533,1226 540,1228 548,1228 553,1228 559,1227 563,1225 566,1222 569,1218 572,1212 573,1207 573,1203 572,1190 564,1156 564,1147 566,1122 565,1111 561,1098 558,1092 549,1079 545,1072 544,1066 543,1061 543,1053 544,1048 546,1040 548,1034 558,1018 563,1006 568,991 571,973 632,973 632,1347 258,1347Z"/>
<path fill="#03bbc2" fill-rule="evenodd" d="M258,973 349,973 346,999 346,1029 343,1040 338,1047 335,1051 325,1058 309,1068 290,1083 284,1089 279,1094 276,1102 265,1126 261,1137 261,1145 262,1151 264,1156 268,1162 274,1165 280,1167 288,1168 295,1166 301,1164 305,1161 318,1147 325,1141 331,1139 336,1139 340,1139 346,1140 354,1143 357,1145 361,1149 364,1154 370,1169 372,1172 376,1174 379,1175 383,1176 400,1173 409,1173 417,1175 421,1177 424,1180 427,1184 430,1190 433,1195 435,1203 436,1212 435,1227 435,1231 436,1233 437,1234 441,1233 447,1231 462,1228 479,1223 486,1222 492,1222 497,1223 503,1225 520,1234 525,1237 548,1242 559,1243 565,1243 568,1242 572,1240 576,1236 578,1233 580,1227 581,1222 582,1214 581,1207 577,1190 572,1171 568,1156 569,1134 571,1115 570,1104 569,1098 567,1092 557,1077 552,1066 551,1059 550,1053 550,1048 551,1042 554,1036 564,1020 570,1008 575,991 580,973 632,973 632,1347 258,1347Z"/>
<path fill="#22c1b0" fill-rule="evenodd" d="M258,973 344,973 342,997 342,1029 341,1036 340,1040 335,1046 331,1049 323,1054 314,1059 308,1062 287,1077 280,1083 274,1089 270,1094 258,1112ZM588,973 632,973 632,1347 258,1347 258,1177 262,1179 267,1181 277,1182 286,1181 297,1177 304,1173 308,1169 312,1164 318,1154 322,1149 327,1145 333,1142 338,1142 346,1143 351,1145 357,1150 360,1154 362,1160 366,1178 368,1181 370,1182 374,1183 378,1183 394,1181 404,1181 412,1182 415,1184 419,1187 424,1193 427,1201 429,1210 430,1227 432,1233 434,1236 437,1237 451,1236 462,1237 470,1240 479,1247 480,1247 484,1247 495,1243 501,1242 507,1243 520,1246 537,1249 557,1256 566,1258 574,1257 580,1255 585,1252 589,1248 593,1242 595,1236 595,1231 594,1223 591,1214 583,1195 580,1186 574,1169 572,1158 572,1152 573,1134 578,1113 579,1107 579,1102 577,1094 574,1088 562,1068 560,1059 558,1049 559,1044 560,1040 572,1020 579,1005 584,990Z"/>
<path fill="#34c79c" fill-rule="evenodd" d="M258,973 339,973 338,991 338,1023 337,1034 334,1040 331,1044 323,1049 310,1055 279,1076 268,1085 258,1095ZM597,973 632,973 632,1347 258,1347 258,1199 263,1200 269,1200 280,1198 295,1193 312,1185 314,1182 315,1180 319,1164 322,1156 324,1152 328,1149 331,1147 335,1145 338,1145 342,1145 348,1147 351,1149 355,1152 358,1156 360,1162 360,1165 360,1171 359,1175 357,1179 355,1181 346,1186 329,1191 327,1192 325,1193 325,1195 325,1199 331,1210 336,1218 342,1222 346,1223 351,1223 359,1222 365,1220 367,1218 368,1216 369,1203 370,1199 373,1195 378,1192 385,1189 393,1188 400,1188 406,1189 409,1191 413,1194 417,1199 421,1207 426,1225 432,1237 434,1239 436,1239 445,1240 450,1240 456,1242 461,1244 466,1248 468,1251 473,1261 475,1263 477,1263 480,1263 492,1256 497,1253 503,1252 508,1252 533,1256 540,1259 553,1265 561,1268 566,1269 574,1269 581,1268 589,1265 595,1262 600,1257 604,1251 607,1244 609,1236 608,1229 607,1223 605,1218 593,1201 587,1191 579,1173 576,1162 575,1154 578,1138 579,1132 584,1115 585,1102 584,1094 581,1085 572,1061 571,1055 570,1049 571,1044 572,1038 588,1003 593,988Z"/>
<path fill="#4bcb84" fill-rule="evenodd" d="M258,973 333,973 334,1012 334,1021 332,1033 330,1036 328,1040 320,1046 310,1049 306,1051 278,1069 268,1076 258,1084ZM605,975 606,973 632,973 632,1347 258,1347 258,1224 265,1224 275,1222 282,1220 297,1215 303,1214 306,1214 312,1216 325,1228 329,1231 334,1233 344,1234 363,1232 372,1233 379,1234 391,1239 394,1239 397,1238 399,1236 403,1233 405,1229 406,1223 405,1218 401,1212 396,1207 390,1203 390,1201 391,1200 393,1199 394,1199 400,1201 406,1206 418,1223 430,1236 432,1239 436,1242 449,1243 452,1245 458,1248 461,1250 464,1253 469,1265 471,1267 475,1269 479,1269 480,1269 492,1262 497,1260 503,1259 508,1259 535,1264 552,1272 561,1276 570,1277 578,1278 587,1277 596,1274 604,1270 610,1265 613,1261 616,1255 619,1246 620,1240 620,1235 618,1223 616,1218 613,1212 600,1199 589,1183 582,1171 580,1164 579,1160 580,1150 588,1119 590,1102 588,1085 583,1055 582,1048 583,1042 586,1031 598,997ZM334,1149 336,1148 340,1147 344,1148 348,1150 351,1152 353,1155 355,1158 357,1162 357,1165 357,1169 354,1175 350,1179 342,1182 335,1182 329,1181 325,1178 323,1173 323,1165 324,1160 329,1152Z"/>
<path fill="#6dcd67" fill-rule="evenodd" d="M258,973 328,973 330,1012 329,1021 327,1033 325,1036 321,1040 316,1044 306,1047 301,1049 273,1065 258,1074ZM615,975 615,973 632,973 632,1347 258,1347 258,1250 273,1248 295,1243 303,1241 310,1241 336,1242 364,1238 374,1239 389,1243 394,1244 400,1242 404,1240 411,1234 415,1232 417,1232 421,1233 424,1235 428,1238 432,1242 434,1243 447,1246 455,1250 458,1252 460,1255 465,1265 467,1268 471,1271 475,1273 479,1273 482,1272 492,1267 497,1265 503,1264 507,1264 512,1265 520,1268 529,1270 535,1271 553,1279 565,1283 576,1285 585,1286 595,1285 604,1282 613,1278 619,1272 623,1268 626,1263 628,1257 630,1251 631,1246 631,1238 630,1231 628,1225 625,1216 620,1208 615,1203 602,1191 591,1177 585,1167 584,1160 585,1152 591,1129 592,1119 594,1092 592,1053 593,1040 597,1025ZM339,1150 344,1151 350,1154 351,1157 353,1160 354,1165 353,1171 350,1175 344,1178 338,1179 333,1178 329,1175 327,1171 326,1165 327,1160 331,1155 335,1152Z"/>
<path fill="#94ca4a" fill-rule="evenodd" d="M258,973 322,973 325,1012 325,1021 323,1031 320,1036 318,1039 314,1041 303,1044 294,1048 273,1058 258,1066ZM624,975 625,973 632,973 632,1212 628,1207 623,1201 605,1184 596,1175 592,1167 590,1164 590,1160 590,1152 594,1137 596,1128 596,1121 596,1107 599,1087 601,1053 602,1040 607,1021ZM336,1154 340,1153 344,1154 346,1155 349,1158 351,1162 351,1165 350,1169 348,1173 344,1175 340,1176 335,1175 332,1173 330,1169 329,1165 331,1160 333,1157ZM414,1240 419,1239 422,1239 432,1245 436,1246 445,1248 451,1250 454,1253 457,1257 462,1266 465,1271 469,1274 472,1276 475,1276 479,1276 482,1275 497,1269 503,1268 507,1269 533,1276 552,1284 568,1290 581,1293 589,1294 596,1294 604,1293 611,1291 617,1288 623,1284 628,1280 632,1275 632,1347 258,1347 258,1275 271,1273 284,1270 295,1266 325,1253 335,1250 353,1245 363,1243 370,1243 378,1244 391,1247 396,1247 404,1245Z"/>
<path fill="#b8c431" fill-rule="evenodd" d="M258,973 316,973 319,1003 320,1016 320,1023 319,1029 318,1033 316,1035 312,1037 299,1040 289,1044 258,1057ZM631,982 632,981 632,1200 626,1193 610,1179 604,1173 600,1168 598,1164 597,1160 597,1156 600,1128 599,1107 604,1085 610,1046 613,1034 616,1023ZM336,1158 338,1157 342,1156 345,1158 347,1160 348,1162 349,1165 348,1168 345,1171 342,1173 338,1173 335,1171 333,1169 332,1167 332,1164 334,1160ZM417,1246 421,1245 424,1246 432,1248 443,1250 449,1253 452,1255 454,1258 461,1270 464,1274 467,1278 471,1279 475,1280 479,1279 497,1273 503,1272 507,1273 512,1274 529,1280 548,1289 572,1299 581,1301 591,1303 602,1303 613,1301 623,1297 632,1292 632,1347 258,1347 258,1297 269,1295 280,1293 292,1289 300,1285 307,1281 314,1277 335,1259 344,1254 355,1250 363,1248 370,1247 378,1248 393,1251 400,1251 406,1250Z"/>
<path fill="#d7be28" fill-rule="evenodd" d="M258,973 310,973 313,1001 314,1014 313,1025 312,1029 311,1031 306,1033 280,1041 258,1049ZM632,1006 632,1006 632,1189 613,1171 609,1165 606,1160 605,1152 605,1128 603,1109 604,1105 610,1083 619,1042 624,1026ZM339,1160 342,1160 344,1161 346,1164 346,1165 345,1167 342,1170 340,1170 338,1169 336,1167 336,1165 337,1162ZM360,1253 366,1252 374,1252 396,1256 406,1256 411,1256 424,1252 432,1252 441,1253 447,1255 450,1257 453,1261 458,1272 462,1277 465,1281 469,1283 473,1284 479,1283 492,1278 497,1276 503,1276 508,1277 516,1279 525,1283 546,1295 566,1305 580,1309 591,1312 602,1313 613,1312 623,1309 632,1306 632,1347 258,1347 258,1317 273,1314 288,1309 303,1303 314,1296 320,1292 325,1287 339,1268 344,1263 352,1257Z"/>
<path fill="#f1ba37" fill-rule="evenodd" d="M258,973 302,973 306,997 307,1010 307,1016 306,1020 304,1023 302,1025 299,1027 294,1029 258,1041ZM632,1033 632,1031 632,1178 620,1165 616,1160 614,1154 612,1145 609,1111 609,1107 610,1102 626,1049ZM364,1257 372,1256 379,1256 391,1259 411,1265 413,1265 417,1264 426,1258 430,1256 436,1256 441,1256 445,1257 447,1259 450,1263 455,1274 460,1281 464,1285 467,1287 471,1288 475,1288 480,1286 488,1283 494,1281 499,1280 505,1280 512,1282 522,1287 542,1301 550,1306 566,1314 580,1319 593,1322 606,1323 619,1322 632,1318 632,1347 258,1347 258,1335 278,1329 297,1321 314,1312 327,1303 335,1294 350,1268 353,1265 357,1261Z"/>
<path fill="#fec239" fill-rule="evenodd" d="M258,973 294,973 296,991 297,1003 297,1008 295,1013 293,1016 290,1019 282,1023 258,1031ZM631,1059 632,1057 632,1165 625,1156 621,1146 617,1130 615,1113 616,1107 617,1100ZM436,1261 441,1261 445,1264 456,1283 460,1288 464,1291 469,1292 475,1292 480,1291 490,1286 494,1285 501,1284 507,1285 511,1287 517,1291 537,1307 544,1312 561,1321 576,1327 591,1331 604,1333 619,1333 632,1331 632,1347 273,1347 290,1340 305,1332 320,1322 331,1313 336,1307 342,1300 358,1270 361,1266 366,1263 374,1261 383,1262 392,1265 406,1271 409,1272 413,1272 417,1271 421,1270 431,1263Z"/>
<path fill="#fbd22f" fill-rule="evenodd" d="M258,973 283,973 285,990 285,995 284,1001 282,1005 280,1008 277,1011 272,1014 258,1020ZM632,1081 632,1081 632,1148 628,1139 626,1132 624,1122 623,1113 624,1107 625,1100ZM374,1268 379,1268 385,1269 404,1277 409,1278 413,1278 417,1278 422,1277 436,1271 439,1271 443,1275 450,1285 453,1289 457,1293 462,1295 467,1297 475,1297 482,1295 494,1292 499,1291 503,1292 507,1293 512,1296 529,1311 539,1319 553,1327 568,1334 585,1340 600,1344 617,1345 632,1343 632,1347 303,1347 314,1340 323,1333 331,1326 338,1319 344,1312 349,1304 360,1281 363,1276 368,1271Z"/>
<path fill="#f5e327" fill-rule="evenodd" d="M258,973 270,973 270,976 269,986 267,993 263,999 258,1004ZM374,1280 378,1278 383,1278 389,1279 404,1284 413,1286 434,1285 439,1287 449,1294 454,1298 464,1301 473,1303 492,1301 497,1302 501,1304 508,1310 540,1331 557,1340 572,1347 323,1347 336,1335 348,1321 355,1309 368,1285 370,1282Z"/>
<path fill="#f7f31d" fill-rule="evenodd" d="M381,1291 385,1290 391,1290 411,1294 430,1296 437,1298 452,1304 460,1306 469,1308 484,1310 490,1311 497,1315 533,1338 548,1347 339,1347 348,1337 355,1327 372,1298 376,1294Z"/>
<path fill="#f9fb15" fill-rule="evenodd" d="M391,1302 398,1302 406,1303 462,1314 480,1319 486,1321 494,1325 527,1347 353,1347 361,1336 374,1317 379,1309 385,1304Z"/>
</g>
<path d="M396.6,972.7 388.8,982.7 381.3,995.4 374.2,1010.2 372.1,1019.5 371.2,1032.6 371.5,1042.0 372.4,1045.7 375.3,1051.3 377.2,1053.2 380.5,1055.0 385.0,1056.2 396.3,1056.8 405.6,1055.7 415.0,1053.6 423.9,1049.4 428.9,1045.7 434.2,1040.1 438.3,1034.5 444.9,1023.5 450.5,1016.2 456.1,1011.6 461.7,1009.7 467.3,1010.4 471.1,1012.4 473.0,1014.2 478.6,1022.6 485.9,1036.3 488.6,1040.1 492.1,1043.8 495.4,1045.9 501.0,1047.4 504.8,1047.0 508.5,1045.2 512.3,1042.0 516.0,1036.3 518.7,1027.0 519.5,1017.6 519.3,1008.3 516.8,991.4 513.7,982.1 509.1,972.7M372.3,972.7 366.7,987.7 362.6,1000.8 360.7,1009.5 358.6,1027.0 354.9,1038.2 348.2,1049.4 340.1,1058.4 334.5,1063.6 327.4,1071.9 321.5,1079.4 317.9,1085.0 313.7,1094.3 311.6,1101.8 311.6,1109.3 313.4,1114.9 315.8,1117.9 320.0,1120.5 324.9,1122.4 334.5,1124.8 347.6,1126.4 357.0,1126.5 362.6,1126.1 369.5,1124.3 373.0,1122.4 375.7,1120.0 377.8,1116.8 378.8,1113.0 378.9,1109.3 378.4,1105.6 375.0,1094.3 374.4,1090.6 374.9,1085.0 376.4,1081.2 377.8,1079.4 379.4,1078.3 385.0,1076.9 390.7,1077.1 396.3,1079.1 399.6,1081.2 401.5,1083.1 404.5,1088.7 406.0,1096.2 406.9,1113.0 408.3,1118.6 410.1,1122.4 413.2,1126.1 416.8,1128.7 444.0,1141.1 452.4,1146.0 456.1,1149.2 458.6,1152.3 460.9,1157.9 461.5,1161.7 462.5,1180.4 463.7,1186.0 465.1,1189.7 467.3,1193.0 469.2,1194.6 473.0,1196.0 476.7,1196.3 482.3,1195.5 486.1,1193.8 489.8,1191.3 495.9,1186.0 498.8,1182.2 500.7,1178.5 501.8,1174.8 502.0,1171.0 500.6,1163.5 498.7,1159.8 493.5,1153.3 486.2,1146.7 481.2,1141.1 478.6,1137.3 475.9,1131.7 473.5,1124.3 471.1,1114.3 463.0,1073.8 461.4,1064.4 461.7,1058.8 463.6,1055.5 465.5,1054.2 467.3,1053.6 471.1,1053.6 474.5,1055.0 480.4,1059.2 486.1,1062.1 491.7,1063.7 499.1,1063.9 504.8,1062.8 512.2,1060.1 516.0,1057.9 521.9,1053.2 526.5,1047.6 530.9,1039.9 536.3,1027.0 539.9,1015.8 541.7,1006.4 542.9,995.2 543.4,984.0 543.1,972.7M532.8,1107.3 529.1,1108.8 525.8,1111.2 521.4,1116.8 519.7,1120.5 517.6,1128.0 516.2,1137.4 516.3,1143.0 517.1,1148.6 518.6,1154.2 520.4,1157.9 523.5,1161.7 525.3,1162.9 527.2,1163.8 530.9,1164.7 534.7,1164.2 536.6,1163.3 540.3,1159.5 542.2,1156.4 545.9,1148.4 547.8,1143.0 549.7,1135.5 550.3,1129.9 549.8,1120.5 547.8,1115.4 545.9,1112.5 544.0,1110.4 540.3,1108.1 536.6,1107.2 532.8,1107.3M351.7,972.7 349.5,986.3 348.2,998.9 348.1,1028.9 345.1,1040.1 342.7,1043.8 336.4,1051.3 327.1,1058.6 308.3,1071.9 290.9,1086.8 286.0,1092.5 283.9,1096.2 281.6,1101.8 277.3,1118.6 272.6,1129.9 270.9,1135.5 270.3,1141.1 270.6,1144.8 271.8,1148.6 273.9,1152.3 277.7,1156.1 282.2,1158.5 287.8,1160.0 293.4,1160.0 297.1,1159.1 300.9,1157.2 304.6,1154.4 314.6,1144.8 319.6,1141.5 324.3,1139.2 330.8,1137.5 336.4,1136.9 342.0,1137.3 349.5,1139.0 357.0,1142.5 362.1,1146.7 365.9,1152.3 372.2,1165.4 373.8,1167.5 377.6,1170.1 381.3,1171.1 385.0,1171.2 401.9,1168.2 411.2,1167.9 418.7,1169.7 422.5,1171.7 426.2,1174.7 429.5,1178.5 431.8,1182.0 436.0,1191.6 440.1,1206.6 442.1,1221.5 443.0,1223.8 444.9,1224.6 450.5,1224.4 456.1,1223.3 467.0,1219.7 478.6,1217.2 489.8,1216.0 495.4,1216.2 502.9,1217.4 509.6,1219.7 514.1,1221.8 523.5,1227.5 530.9,1230.7 542.2,1233.3 551.5,1234.2 557.1,1233.8 560.9,1232.8 564.6,1231.2 568.4,1228.3 572.1,1223.4 573.8,1219.7 575.4,1214.0 576.3,1208.4 576.3,1202.8 574.4,1189.7 566.9,1161.7 565.9,1156.1 565.7,1150.4 566.3,1137.4 567.6,1120.5 567.6,1114.9 566.9,1109.3 564.7,1099.9 562.7,1094.8 560.3,1090.6 553.6,1081.2 549.0,1071.9 546.8,1064.4 545.9,1055.0 546.4,1047.6 548.8,1038.2 550.7,1034.5 560.1,1019.5 563.7,1012.0 567.4,1002.7 571.7,987.7 574.7,972.7M334.5,972.7 334.8,1017.6 332.6,1032.6 331.5,1036.3 330.5,1038.2 327.1,1041.8 321.4,1046.2 317.7,1048.1 312.1,1049.6 308.0,1051.3 275.7,1071.9 267.2,1078.0 257.8,1085.8M332.5,1148.6 334.5,1147.6 338.3,1146.9 342.0,1147.1 345.8,1148.3 349.5,1150.3 352.0,1152.3 354.9,1156.1 356.6,1159.8 357.5,1163.5 357.6,1167.3 356.8,1171.0 355.1,1174.7 351.4,1178.4 343.9,1182.3 338.3,1183.3 330.8,1182.7 327.1,1181.0 325.2,1179.4 323.3,1177.0 322.3,1174.8 321.6,1171.0 321.7,1167.3 322.2,1163.5 323.3,1159.8 328.0,1152.3 332.5,1148.6M257.8,1218.8 265.3,1218.8 274.7,1217.5 282.2,1215.3 297.1,1209.5 302.7,1208.5 306.5,1208.5 312.1,1210.0 315.7,1212.2 326.3,1225.3 331.2,1229.0 335.4,1230.9 340.1,1232.0 345.8,1232.5 364.5,1230.7 373.8,1231.2 381.3,1233.4 390.7,1237.7 392.5,1238.2 394.4,1238.0 398.1,1235.7 401.7,1230.9 402.5,1227.1 402.1,1223.4 400.0,1219.4 395.8,1214.0 391.6,1210.3 385.4,1206.6 383.7,1204.7 382.8,1202.8 382.8,1201.0 385.0,1197.8 388.8,1195.5 390.7,1195.1 394.4,1195.2 401.9,1197.4 405.6,1199.9 409.4,1203.5 413.1,1209.1 420.3,1223.4 429.9,1235.8 431.8,1238.8 433.7,1240.3 435.5,1241.1 444.9,1241.8 450.5,1243.1 458.0,1246.6 461.7,1249.5 463.6,1251.8 469.2,1263.3 472.2,1266.4 474.8,1267.9 478.6,1268.5 480.4,1268.0 491.7,1261.3 495.4,1259.5 501.0,1257.9 506.6,1257.5 512.2,1258.1 519.7,1259.9 527.2,1260.7 532.8,1262.1 538.4,1264.0 550.8,1270.2 559.0,1273.6 570.2,1276.0 577.7,1276.3 587.1,1275.0 595.9,1272.0 602.3,1268.3 606.8,1264.6 610.1,1260.8 613.3,1256.0 615.4,1251.5 617.1,1245.8 617.9,1240.2 617.9,1234.6 616.9,1227.1 614.6,1219.7 610.7,1212.2 598.3,1198.8 590.8,1188.3 587.1,1182.1 581.3,1171.0 578.3,1161.7 578.1,1157.9 580.0,1146.7 587.8,1116.8 589.2,1101.8 588.8,1096.2 587.1,1084.7 580.9,1056.9 580.1,1049.4 580.5,1042.0 582.9,1032.6 596.5,997.1 604.1,972.7M300.9,972.7 304.1,995.2 305.0,1006.4 304.5,1015.8 302.3,1021.4 299.0,1024.5 293.9,1027.0 257.8,1038.8M632.0,1175.4 625.6,1169.2 620.9,1163.5 617.5,1157.9 615.2,1152.3 613.3,1142.9 610.0,1111.2 610.3,1107.4 611.4,1101.8 627.0,1051.3 632.0,1036.6M257.8,1338.4 274.7,1333.2 291.5,1326.6 308.3,1318.1 321.4,1309.7 330.8,1302.1 336.2,1296.4 351.9,1268.3 354.8,1264.6 358.9,1261.1 362.6,1258.9 366.3,1257.6 371.9,1256.8 377.6,1256.9 388.4,1258.9 411.2,1266.6 415.0,1266.1 418.7,1264.6 426.9,1258.9 431.1,1257.1 435.5,1256.5 441.6,1257.1 445.7,1258.9 448.6,1262.4 455.3,1275.8 459.9,1282.7 463.6,1286.4 467.3,1288.3 471.1,1288.8 476.7,1288.1 482.3,1286.2 489.8,1282.7 493.5,1281.6 499.1,1280.6 504.8,1280.9 512.2,1283.0 519.8,1287.0 528.3,1292.6 542.2,1303.1 549.7,1307.4 566.5,1315.6 579.6,1320.5 592.7,1323.6 605.8,1324.8 618.9,1324.0 626.3,1322.6 632.0,1320.9M445.2,1094.0 444.8,1095.2 444.0,1096.1 442.8,1096.7 441.6,1096.8 440.3,1096.5 439.3,1095.7 438.7,1094.6 438.7,1093.4 439.3,1092.3 440.3,1091.5 441.6,1091.2 442.8,1091.3 444.0,1091.9 444.8,1092.8 445.2,1094.0ZM355.9,1203.7 355.4,1205.8 354.2,1207.6 352.2,1208.7 350.1,1208.9 348.0,1208.3 346.3,1206.8 345.4,1204.8 345.4,1202.6 346.3,1200.6 348.0,1199.1 350.1,1198.4 352.2,1198.6 354.2,1199.7 355.4,1201.5 355.9,1203.7Z" fill="none" stroke="#000" stroke-width="1.7" stroke-linejoin="round"/>
</g>
<circle cx="444.9" cy="1159.8" r="173.2" fill="none" stroke="#444" stroke-width="1.3"/>
<path d="M417.2,1028.7h3M418.7,1027.2v3M468.6,1028.7h3M470.1,1027.2v3M392.0,1036.8h3M393.5,1035.3v3M494.1,1036.8h3M495.6,1035.3v3M337.0,1045.6h3M338.5,1044.1v3M549.3,1045.6h3M550.8,1044.1v3M411.4,1054.4h3M412.9,1052.9v3M474.4,1054.4h3M475.9,1052.9v3M442.9,1060.7h3M444.4,1059.2v3M348.4,1066.3h3M349.9,1064.8v3M537.4,1066.3h3M538.9,1064.8v3M368.5,1079.1h3M370.0,1077.6v3M517.8,1079.1h3M519.3,1077.6v3M392.0,1087.7h3M393.5,1086.2v3M494.1,1087.7h3M495.6,1086.2v3M417.2,1091.7h3M418.7,1090.2v3M468.1,1091.7h3M469.6,1090.2v3M440.4,1094.0h3M441.9,1092.5v3M319.4,1109.4h3M320.9,1107.9v3M566.4,1109.4h3M567.9,1107.9v3M348.4,1118.2h3M349.9,1116.7v3M537.4,1118.2h3M538.9,1116.7v3M379.9,1123.7h3M381.4,1122.2v3M505.9,1123.7h3M507.4,1122.2v3M411.4,1125.8h3M412.9,1124.3v3M474.4,1125.8h3M475.9,1124.3v3M309.3,1160.8h3M310.8,1159.3v3M343.3,1160.8h3M344.8,1159.3v3M375.6,1160.8h3M377.1,1159.3v3M409.4,1160.8h3M410.9,1159.3v3M442.9,1160.8h3M444.4,1159.3v3M476.9,1160.8h3M478.4,1159.3v3M510.2,1160.8h3M511.7,1159.3v3M542.5,1160.8h3M544.0,1159.3v3M576.5,1160.8h3M578.0,1159.3v3M411.4,1195.1h3M412.9,1193.6v3M474.4,1195.1h3M475.9,1193.6v3M442.9,1194.3h3M444.4,1192.8v3M379.9,1196.9h3M381.4,1195.4v3M505.9,1196.9h3M507.4,1195.4v3M349.1,1203.2h3M350.6,1201.7v3M537.4,1203.2h3M538.9,1201.7v3M319.4,1211.2h3M320.9,1209.7v3M566.4,1211.2h3M567.9,1209.7v3M442.9,1227.1h3M444.4,1225.6v3M417.2,1228.9h3M418.7,1227.4v3M468.6,1228.9h3M470.1,1227.4v3M392.0,1232.9h3M393.5,1231.4v3M494.1,1232.9h3M495.6,1231.4v3M368.5,1241.7h3M370.0,1240.2v3M517.8,1241.7h3M519.3,1240.2v3M348.4,1254.3h3M349.9,1252.8v3M537.4,1254.3h3M538.9,1252.8v3M442.9,1259.9h3M444.4,1258.4v3M411.4,1266.9h3M412.9,1265.4v3M474.4,1266.9h3M475.9,1265.4v3M337.0,1275.5h3M338.5,1274.0v3M549.3,1275.5h3M550.8,1274.0v3M392.0,1283.8h3M393.5,1282.3v3M494.1,1283.8h3M495.6,1282.3v3" stroke="#000" stroke-width="1.6" stroke-linecap="round" fill="none"/>
<path d="M413.7,1292.7h10M418.7,1287.7v10M439.4,1293.4h10M444.4,1288.4v10M464.6,1291.9h10M469.6,1286.9v10M439.4,1326.7h10M444.4,1321.7v10" stroke="#f01428" stroke-width="2.6" fill="none"/>
</g>
<g id="map2">
<clipPath id="cp1"><circle cx="1047.9" cy="1165.6" r="171.3"/></clipPath>
<path d="M1035.4,994.9L1047.4,976.7L1059.4,994.9" fill="#fff" stroke="#333" stroke-width="1.2"/>
<g clip-path="url(#cp1)"><g filter="url(#bl)">
<circle cx="1047.9" cy="1165.6" r="173.9" fill="#3e26a8"/>
<path fill="#4536d5" fill-rule="evenodd" d="M862,980 1111,980 1106,1004 1100,1026 1099,1036 1101,1041 1104,1045 1106,1047 1109,1048 1115,1049 1144,1046 1150,1044 1154,1041 1167,1028 1177,1017 1188,1000 1198,980 1234,980 1234,1351 862,1351Z"/>
<path fill="#4744e9" fill-rule="evenodd" d="M862,980 1095,980 1096,1006 1096,1015 1093,1034 1093,1043 1096,1049 1099,1052 1104,1054 1111,1055 1144,1051 1150,1049 1156,1047 1173,1036 1186,1025 1203,1006 1224,980 1234,980 1234,1351 862,1351Z"/>
<path fill="#4853f5" fill-rule="evenodd" d="M862,980 1077,980 1080,989 1086,1002 1088,1012 1088,1021 1085,1047 1084,1056 1086,1060 1088,1062 1092,1063 1096,1064 1107,1063 1150,1055 1159,1053 1172,1047 1183,1041 1195,1032 1234,997 1234,1351 862,1351ZM1135,1115 1131,1117 1127,1121 1124,1127 1124,1132 1125,1138 1127,1141 1131,1144 1135,1144 1141,1143 1144,1141 1146,1139 1149,1134 1150,1128 1149,1125 1148,1122 1144,1117 1141,1116Z"/>
<path fill="#4562fc" fill-rule="evenodd" d="M862,980 1054,980 1054,986 1057,991 1062,997 1073,1008 1076,1012 1077,1015 1078,1023 1078,1030 1076,1036 1069,1054 1068,1060 1068,1065 1070,1073 1074,1078 1079,1082 1085,1084 1091,1084 1098,1082 1115,1073 1130,1067 1139,1065 1161,1062 1169,1060 1176,1057 1183,1053 1193,1047 1234,1017 1234,1351 862,1351ZM1128,1102 1124,1103 1120,1106 1117,1110 1114,1114 1111,1123 1110,1128 1109,1134 1110,1140 1112,1143 1114,1147 1117,1150 1120,1153 1124,1154 1131,1155 1137,1154 1143,1152 1148,1149 1152,1145 1156,1141 1158,1136 1159,1130 1159,1125 1158,1119 1156,1113 1152,1108 1148,1104 1144,1102 1139,1101 1133,1101Z"/>
<path fill="#3c72ff" fill-rule="evenodd" d="M862,980 1027,980 1011,1002 1005,1011 1001,1023 1000,1026 1001,1030 1003,1031 1007,1031 1026,1024 1035,1023 1044,1024 1048,1026 1052,1029 1054,1032 1055,1038 1055,1060 1056,1071 1058,1080 1061,1088 1066,1098 1078,1114 1080,1119 1084,1136 1087,1141 1091,1147 1097,1154 1104,1160 1111,1163 1118,1165 1124,1165 1130,1165 1141,1162 1146,1160 1152,1157 1159,1151 1161,1147 1164,1141 1166,1136 1167,1128 1167,1115 1162,1089 1162,1086 1163,1082 1166,1078 1171,1075 1187,1064 1217,1043 1234,1033 1234,1351 862,1351ZM931,1150 930,1153 930,1154 931,1158 933,1162 937,1166 938,1166 940,1166 941,1162 940,1158 938,1154 937,1152 935,1150 933,1150ZM964,1078 963,1079 961,1080 958,1084 958,1086 959,1088 961,1090 963,1090 966,1089 968,1087 969,1084 969,1082 968,1080 966,1078Z"/>
<path fill="#2f82fa" fill-rule="evenodd" d="M862,980 1012,980 1001,995 998,1002 996,1008 990,1028 989,1038 990,1041 991,1045 992,1046 994,1048 998,1048 1016,1044 1024,1043 1030,1045 1035,1049 1039,1054 1041,1060 1046,1091 1049,1101 1056,1123 1057,1128 1058,1141 1059,1145 1063,1149 1078,1157 1096,1169 1105,1173 1113,1174 1118,1175 1126,1175 1133,1174 1141,1172 1146,1170 1154,1166 1159,1162 1163,1159 1167,1154 1169,1151 1173,1140 1175,1127 1176,1108 1176,1101 1178,1093 1181,1088 1189,1078 1201,1067 1217,1056 1234,1047 1234,1351 862,1351ZM925,1132 924,1132 922,1135 921,1140 922,1153 924,1160 928,1167 933,1173 937,1175 940,1175 942,1175 946,1172 947,1169 947,1164 946,1156 942,1149 937,1141 929,1133 927,1132ZM964,1073 961,1074 959,1076 953,1082 951,1088 952,1091 953,1095 957,1098 963,1099 968,1098 973,1095 975,1093 976,1089 977,1084 977,1078 974,1075 972,1073 970,1072ZM1176,1208 1174,1209 1172,1211 1172,1214 1172,1216 1172,1218 1174,1220 1178,1221 1180,1221 1181,1219 1182,1218 1183,1214 1182,1211 1180,1209 1178,1208Z"/>
<path fill="#2c90f0" fill-rule="evenodd" d="M862,980 1002,980 996,991 992,1000 987,1023 984,1039 985,1060 984,1063 981,1065 968,1068 961,1071 958,1073 951,1080 948,1086 946,1093 945,1099 947,1104 948,1106 951,1108 959,1109 968,1108 975,1104 980,1101 984,1095 986,1086 988,1073 988,1071 990,1068 999,1063 1007,1060 1013,1059 1018,1060 1021,1062 1024,1065 1026,1068 1027,1073 1033,1097 1041,1125 1041,1132 1041,1149 1041,1153 1044,1156 1046,1159 1050,1161 1072,1166 1096,1177 1105,1180 1115,1183 1131,1184 1146,1184 1154,1183 1157,1182 1159,1180 1163,1176 1170,1165 1174,1158 1177,1151 1179,1143 1181,1134 1185,1106 1187,1099 1190,1093 1198,1084 1208,1075 1219,1068 1234,1060 1234,1351 862,1351ZM925,1119 922,1121 920,1123 918,1126 914,1140 913,1143 914,1147 918,1160 921,1167 924,1173 928,1177 931,1179 937,1180 940,1180 946,1177 950,1173 951,1167 950,1156 943,1138 940,1124 939,1121 937,1119 935,1118 929,1118ZM1167,1195 1165,1196 1163,1199 1162,1205 1163,1216 1165,1221 1169,1225 1171,1227 1174,1228 1180,1228 1183,1227 1187,1223 1189,1218 1189,1212 1187,1207 1183,1202 1178,1198 1172,1195 1169,1195Z"/>
<path fill="#259de7" fill-rule="evenodd" d="M862,980 995,980 990,991 987,1002 983,1024 979,1049 978,1054 976,1058 972,1062 959,1070 950,1078 946,1084 938,1096 935,1101 920,1114 916,1120 913,1130 907,1141 906,1147 906,1153 908,1160 912,1167 915,1173 919,1179 924,1182 929,1184 937,1185 942,1184 948,1180 952,1175 953,1171 953,1164 953,1156 951,1145 951,1140 952,1134 955,1128 961,1123 964,1121 979,1114 985,1110 990,1106 1001,1095 1005,1093 1009,1093 1013,1095 1016,1099 1022,1108 1026,1117 1028,1125 1029,1130 1030,1149 1030,1154 1033,1160 1036,1164 1040,1166 1046,1169 1074,1175 1099,1184 1124,1192 1131,1195 1141,1201 1146,1206 1150,1211 1158,1225 1163,1231 1167,1233 1170,1235 1174,1235 1180,1234 1185,1231 1190,1227 1193,1223 1195,1218 1195,1212 1194,1206 1190,1199 1181,1184 1179,1179 1179,1175 1180,1166 1188,1138 1191,1115 1193,1108 1195,1102 1198,1097 1202,1093 1207,1088 1219,1080 1234,1073 1234,1351 862,1351Z"/>
<path fill="#1da9e0" fill-rule="evenodd" d="M862,980 989,980 986,989 983,999 978,1038 975,1048 973,1054 969,1060 959,1067 947,1078 933,1094 920,1104 916,1108 913,1112 912,1115 911,1127 910,1128 907,1132 897,1141 895,1143 893,1147 893,1153 894,1158 898,1166 903,1175 908,1180 912,1184 916,1187 922,1189 931,1190 938,1189 942,1188 946,1186 950,1183 951,1180 954,1175 955,1169 955,1147 956,1141 959,1136 963,1131 968,1128 974,1125 998,1117 1001,1116 1005,1116 1009,1118 1013,1120 1016,1124 1018,1128 1020,1132 1021,1138 1021,1154 1022,1160 1025,1166 1029,1169 1036,1173 1044,1176 1070,1181 1081,1184 1103,1192 1118,1198 1130,1205 1138,1212 1143,1218 1153,1232 1159,1239 1163,1241 1167,1243 1172,1244 1176,1243 1182,1240 1196,1229 1199,1225 1202,1219 1202,1216 1201,1210 1191,1179 1189,1169 1190,1160 1196,1140 1199,1117 1201,1110 1203,1106 1206,1102 1213,1095 1222,1090 1234,1086 1234,1351 862,1351Z"/>
<path fill="#0cb3d3" fill-rule="evenodd" d="M862,980 984,980 981,990 979,1000 977,1025 975,1038 971,1049 967,1056 965,1060 957,1066 953,1071 948,1075 935,1086 929,1090 913,1101 907,1106 904,1112 903,1115 904,1123 903,1125 899,1127 888,1127 883,1130 877,1135 872,1143 870,1151 870,1160 871,1167 874,1175 878,1180 883,1185 891,1190 899,1193 911,1196 924,1197 931,1196 937,1195 942,1193 946,1191 951,1186 955,1179 957,1167 958,1154 959,1147 961,1141 964,1137 970,1133 975,1132 998,1128 1003,1129 1007,1130 1009,1132 1012,1136 1014,1143 1014,1156 1015,1164 1018,1170 1024,1175 1031,1179 1042,1183 1052,1185 1070,1188 1079,1190 1092,1194 1105,1199 1118,1206 1130,1216 1136,1223 1147,1238 1154,1247 1159,1253 1165,1258 1170,1261 1176,1262 1182,1262 1194,1260 1196,1258 1195,1258 1193,1257 1192,1255 1191,1253 1190,1249 1191,1244 1192,1240 1195,1238 1206,1234 1209,1232 1212,1229 1215,1223 1215,1218 1214,1214 1213,1210 1208,1203 1206,1199 1207,1195 1208,1192 1209,1189 1211,1187 1213,1186 1217,1187 1219,1187 1223,1184 1230,1174 1232,1171 1233,1167 1233,1164 1232,1160 1229,1156 1226,1154 1224,1155 1222,1156 1220,1160 1219,1162 1220,1169 1219,1173 1218,1175 1215,1178 1213,1178 1211,1178 1209,1176 1206,1173 1202,1166 1201,1164 1202,1160 1211,1147 1212,1143 1213,1141 1212,1138 1210,1121 1211,1114 1211,1112 1213,1110 1219,1106 1226,1104 1234,1104 1234,1351 862,1351ZM1206,1248 1204,1250 1200,1256 1198,1258 1202,1260 1206,1260 1209,1259 1212,1257 1213,1253 1211,1249 1208,1248ZM1219,1138 1218,1140 1219,1141 1220,1140Z"/>
<path fill="#03bbc2" fill-rule="evenodd" d="M862,980 979,980 975,999 974,1025 972,1036 967,1049 962,1058 957,1063 951,1069 931,1083 918,1091 893,1102 883,1108 873,1117 862,1129ZM972,1138 977,1136 988,1136 1000,1137 1003,1139 1005,1142 1007,1145 1009,1161 1012,1171 1016,1177 1020,1180 1026,1183 1037,1188 1052,1194 1057,1195 1078,1197 1091,1201 1100,1204 1106,1208 1118,1218 1127,1227 1141,1247 1153,1268 1158,1273 1162,1277 1170,1281 1200,1293 1215,1298 1234,1304 1234,1351 862,1351 862,1261 872,1251 892,1222 899,1216 905,1212 911,1210 935,1202 942,1199 948,1196 953,1192 955,1188 958,1180 961,1158 963,1149 966,1142 969,1140Z"/>
<path fill="#22c1b0" fill-rule="evenodd" d="M862,980 975,980 972,997 970,1025 968,1036 962,1049 958,1056 951,1064 949,1067 940,1073 924,1082 909,1089 889,1097 879,1102 872,1106 862,1114ZM975,1141 981,1140 987,1141 994,1143 998,1145 1000,1147 1002,1151 1008,1171 1010,1177 1013,1180 1016,1184 1020,1187 1035,1195 1040,1199 1053,1211 1055,1212 1059,1213 1076,1212 1081,1213 1089,1215 1094,1218 1100,1223 1111,1238 1120,1245 1128,1253 1133,1260 1143,1275 1148,1281 1153,1284 1163,1290 1183,1304 1234,1337 1234,1351 862,1351 862,1297 875,1285 885,1273 890,1263 901,1240 905,1232 911,1226 916,1221 923,1216 929,1213 950,1204 955,1200 959,1196 960,1193 961,1190 962,1180 962,1171 963,1160 964,1154 966,1149 968,1146 971,1143Z"/>
<path fill="#34c79c" fill-rule="evenodd" d="M862,980 970,980 968,999 966,1025 965,1034 963,1039 959,1047 950,1060 940,1068 922,1078 905,1085 879,1095 871,1099 862,1104ZM976,1145 981,1144 987,1144 992,1147 996,1150 998,1153 1000,1156 1006,1177 1009,1183 1014,1189 1030,1199 1036,1205 1040,1210 1046,1223 1050,1228 1055,1232 1068,1234 1075,1236 1080,1240 1089,1248 1092,1251 1109,1257 1118,1262 1126,1269 1137,1286 1142,1292 1159,1303 1171,1312 1191,1331 1212,1351 862,1351 862,1326 883,1301 898,1281 903,1270 910,1249 916,1238 922,1231 929,1224 935,1221 957,1209 963,1205 967,1201 968,1197 968,1193 964,1173 965,1162 966,1156 969,1151 972,1148Z"/>
<path fill="#4bcb84" fill-rule="evenodd" d="M862,980 966,980 963,1015 963,1025 962,1034 957,1045 949,1056 938,1065 922,1074 903,1081 877,1090 862,1097ZM975,1149 979,1147 985,1147 990,1150 994,1153 997,1156 999,1162 1003,1180 1005,1186 1008,1190 1012,1193 1026,1202 1032,1208 1036,1214 1043,1229 1048,1234 1053,1238 1063,1242 1068,1245 1072,1250 1078,1259 1081,1262 1089,1265 1100,1266 1107,1268 1113,1271 1118,1275 1124,1281 1137,1298 1156,1316 1167,1327 1176,1338 1186,1351 867,1351 892,1312 909,1283 913,1273 916,1260 918,1255 921,1247 924,1242 929,1236 935,1231 961,1216 970,1208 973,1205 974,1201 974,1193 967,1175 967,1169 967,1162 969,1156 972,1152Z"/>
<path fill="#6dcd67" fill-rule="evenodd" d="M862,980 962,980 960,1025 959,1032 958,1038 955,1043 948,1054 937,1063 922,1070 901,1078 875,1086 862,1091ZM978,1151 981,1150 985,1150 988,1152 992,1155 995,1158 997,1164 998,1169 1000,1184 1001,1188 1003,1192 1009,1197 1024,1207 1029,1211 1034,1218 1041,1231 1044,1236 1050,1241 1061,1249 1064,1253 1070,1263 1074,1268 1078,1271 1083,1273 1100,1276 1107,1278 1115,1282 1122,1289 1128,1296 1150,1325 1158,1338 1165,1351 887,1351 917,1284 921,1275 925,1258 927,1253 930,1247 935,1241 940,1236 946,1232 963,1223 968,1219 974,1214 977,1208 978,1203 978,1193 977,1190 971,1179 969,1173 969,1169 969,1164 971,1158 974,1154Z"/>
<path fill="#94ca4a" fill-rule="evenodd" d="M862,980 958,980 958,1025 957,1032 954,1041 947,1052 944,1055 937,1061 922,1068 862,1085ZM977,1154 981,1153 985,1153 988,1155 992,1158 994,1162 995,1167 996,1173 995,1186 996,1190 998,1193 1000,1197 1005,1201 1022,1210 1028,1216 1033,1222 1042,1238 1046,1243 1057,1253 1059,1257 1065,1267 1071,1275 1075,1279 1080,1281 1085,1282 1100,1284 1107,1286 1111,1288 1117,1292 1124,1299 1128,1305 1139,1327 1143,1338 1148,1351 903,1351 914,1316 926,1283 931,1260 935,1253 940,1245 946,1240 953,1236 968,1229 973,1225 978,1219 981,1214 982,1206 983,1195 982,1192 980,1188 973,1179 971,1173 971,1169 971,1164 972,1160 975,1156Z"/>
<path fill="#b8c431" fill-rule="evenodd" d="M862,980 955,980 955,1023 955,1030 953,1039 950,1045 946,1051 942,1054 935,1060 924,1064 916,1067 862,1080ZM978,1156 981,1155 983,1155 987,1156 990,1160 992,1164 993,1169 992,1177 990,1181 988,1184 987,1185 983,1184 979,1182 975,1178 973,1173 972,1169 973,1164 975,1159ZM994,1206 998,1207 1016,1212 1022,1215 1027,1220 1031,1225 1041,1242 1044,1246 1052,1255 1055,1258 1065,1280 1067,1284 1070,1288 1074,1290 1078,1291 1094,1291 1102,1292 1110,1296 1117,1301 1120,1305 1122,1309 1126,1322 1129,1336 1130,1351 917,1351 925,1309 933,1283 937,1264 941,1255 946,1248 951,1243 959,1240 974,1234 977,1232 981,1229 986,1223 992,1208Z"/>
<path fill="#d7be28" fill-rule="evenodd" d="M862,980 951,980 953,1023 952,1030 952,1036 950,1039 947,1047 944,1050 935,1058 922,1063 862,1075ZM980,1158 983,1158 987,1159 989,1162 991,1166 991,1171 989,1175 987,1178 985,1179 983,1180 979,1178 976,1175 975,1171 974,1167 975,1164 977,1160ZM1004,1218 1011,1216 1016,1217 1022,1220 1026,1223 1031,1230 1039,1245 1043,1251 1050,1258 1052,1262 1056,1273 1057,1283 1056,1294 1052,1323 1051,1331 1053,1336 1055,1342 1059,1346 1065,1350 1068,1351 1070,1351 1072,1350 1074,1348 1074,1344 1074,1338 1072,1322 1072,1318 1072,1314 1074,1312 1077,1309 1083,1305 1091,1302 1094,1301 1098,1301 1104,1303 1109,1308 1112,1312 1113,1320 1113,1329 1111,1337 1107,1345 1103,1351 930,1351 932,1325 934,1305 940,1283 943,1266 946,1257 951,1251 957,1247 963,1245 976,1242 985,1238 991,1232 1000,1221Z"/>
<path fill="#f1ba37" fill-rule="evenodd" d="M862,980 947,980 950,1023 950,1030 949,1038 946,1044 943,1049 933,1057 920,1061 862,1070ZM979,1162 981,1160 983,1160 985,1161 988,1164 989,1167 988,1170 987,1173 985,1175 983,1176 981,1176 979,1175 977,1172 976,1167 977,1164ZM1013,1223 1016,1223 1020,1224 1022,1225 1026,1229 1029,1234 1033,1242 1037,1249 1040,1255 1047,1262 1049,1268 1050,1273 1050,1279 1044,1302 1040,1331 1040,1338 1041,1351 943,1351 942,1336 943,1303 949,1268 952,1260 955,1256 961,1252 979,1248 989,1244 996,1238 1007,1226 1011,1224Z"/>
<path fill="#fec239" fill-rule="evenodd" d="M862,980 942,980 947,1028 946,1038 944,1043 941,1047 937,1050 932,1054 927,1056 920,1059 862,1065ZM981,1164 983,1163 985,1164 986,1167 986,1169 985,1171 983,1172 981,1172 980,1171 979,1169 979,1166ZM1013,1232 1016,1232 1018,1232 1022,1234 1024,1235 1032,1251 1041,1264 1043,1270 1043,1277 1038,1301 1031,1351 956,1351 954,1338 951,1299 953,1279 955,1271 957,1266 960,1262 965,1258 985,1252 994,1247 1000,1244 1009,1235Z"/>
<path fill="#fbd22f" fill-rule="evenodd" d="M862,980 938,980 944,1021 944,1028 944,1034 943,1038 939,1045 935,1049 930,1052 924,1056 918,1057 862,1061ZM1012,1245 1016,1245 1019,1245 1022,1248 1032,1262 1035,1268 1035,1271 1036,1279 1032,1297 1029,1323 1027,1336 1023,1348 1021,1351 969,1351 966,1340 963,1318 960,1305 959,1297 958,1292 959,1284 960,1279 962,1273 966,1268 970,1264 975,1261 994,1254Z"/>
<path fill="#f5e327" fill-rule="evenodd" d="M862,980 934,980 940,1017 941,1026 941,1032 940,1036 938,1039 936,1043 930,1049 924,1052 918,1055 881,1055 862,1056ZM1003,1258 1011,1257 1014,1258 1017,1258 1020,1261 1023,1264 1026,1271 1027,1277 1027,1283 1025,1316 1024,1323 1022,1332 1018,1340 1014,1346 1009,1351 986,1351 983,1349 979,1344 975,1335 972,1314 967,1303 966,1297 965,1290 966,1284 967,1279 969,1275 972,1271 975,1269 985,1264Z"/>
<path fill="#f7f31d" fill-rule="evenodd" d="M862,980 929,980 936,1017 937,1028 936,1034 934,1038 924,1049 920,1052 916,1052 885,1051 862,1051ZM991,1270 998,1268 1003,1268 1007,1268 1010,1270 1013,1271 1016,1275 1018,1283 1020,1314 1020,1320 1018,1325 1015,1333 1011,1337 1007,1340 1001,1342 996,1342 992,1340 988,1337 986,1333 983,1327 979,1312 974,1299 972,1294 973,1286 974,1283 976,1279 979,1275 982,1273Z"/>
<path fill="#f9fb15" fill-rule="evenodd" d="M862,980 924,980 931,1013 932,1021 932,1026 931,1031 929,1035 920,1047 916,1049 912,1049 883,1046 862,1045ZM991,1279 998,1279 1003,1281 1006,1284 1009,1290 1013,1312 1013,1320 1012,1323 1011,1326 1009,1328 1005,1330 1001,1330 1000,1330 996,1328 994,1325 991,1320 987,1310 981,1296 980,1290 981,1286 982,1284 985,1281Z"/>
</g>
<path d="M1068.6,979.9 1070.3,985.5 1073.0,991.1 1080.6,1002.2 1082.6,1005.9 1084.6,1013.4 1085.1,1018.9 1084.0,1030.1 1077.8,1054.2 1076.8,1061.6 1077.3,1065.3 1078.2,1067.2 1081.3,1069.6 1085.0,1070.5 1090.6,1070.5 1098.0,1069.5 1127.7,1062.0 1155.6,1057.2 1164.9,1054.6 1174.1,1051.1 1183.4,1045.9 1194.6,1037.9 1233.6,1005.5M1131.4,1111.2 1127.7,1113.4 1125.9,1115.0 1122.5,1119.2 1120.3,1124.8 1119.2,1130.3 1119.1,1134.0 1119.8,1137.8 1121.2,1141.5 1123.9,1145.2 1127.7,1147.7 1133.3,1148.6 1137.0,1148.1 1140.7,1147.0 1144.4,1145.2 1148.2,1142.3 1150.4,1139.6 1152.4,1135.9 1153.4,1132.2 1153.7,1128.5 1152.9,1122.9 1151.5,1119.2 1148.9,1115.5 1146.3,1113.0 1142.6,1111.0 1138.9,1110.2 1135.2,1110.3 1131.4,1111.2M1005.4,979.9 997.8,993.3 994.1,1001.4 988.3,1022.6 987.2,1028.2 985.9,1039.4 986.6,1049.3 987.6,1052.4 988.5,1054.1 990.3,1055.7 992.2,1056.4 999.6,1055.7 1010.8,1052.5 1018.2,1051.7 1021.9,1052.3 1023.8,1053.2 1027.6,1056.1 1031.2,1061.4 1033.3,1067.2 1037.9,1095.1 1046.9,1126.6 1047.3,1132.2 1046.1,1147.0 1046.7,1150.7 1047.4,1152.6 1048.9,1154.5 1052.0,1156.3 1072.0,1161.6 1077.6,1164.1 1094.1,1173.0 1103.6,1176.9 1112.9,1179.2 1120.3,1180.3 1127.7,1180.4 1137.0,1179.7 1144.4,1178.1 1150.0,1176.1 1157.4,1172.0 1161.1,1169.0 1166.7,1163.2 1170.3,1158.2 1175.2,1147.0 1177.3,1139.6 1178.7,1132.2 1180.8,1109.9 1181.7,1104.3 1184.1,1096.9 1186.9,1091.3 1194.1,1082.1 1205.7,1071.6 1218.7,1062.8 1233.6,1054.9M964.4,1070.6 960.6,1072.1 958.8,1073.4 951.4,1081.7 949.4,1085.8 948.1,1091.3 948.2,1095.1 948.7,1096.9 949.7,1098.8 951.4,1100.5 956.9,1103.1 960.6,1104.1 964.4,1104.1 969.9,1102.9 973.6,1101.2 976.7,1098.8 978.3,1096.9 980.3,1093.2 982.2,1083.9 982.2,1080.2 981.4,1076.5 979.8,1072.8 978.1,1070.9 975.5,1069.8 971.8,1069.4 964.4,1070.6M921.7,1124.4 919.8,1126.8 916.0,1137.8 915.8,1139.6 916.4,1145.2 920.5,1160.0 924.6,1169.3 929.4,1174.9 932.8,1177.1 936.5,1178.3 940.2,1178.2 942.1,1177.7 945.8,1175.6 947.6,1173.8 949.2,1171.2 949.6,1169.3 949.5,1163.7 948.6,1158.2 947.6,1154.5 935.9,1130.3 933.3,1126.6 929.1,1123.6 927.2,1123.0 923.5,1123.3 921.7,1124.4M1170.4,1202.6 1168.5,1204.6 1167.0,1208.3 1166.4,1213.9 1166.9,1217.6 1167.6,1219.4 1170.4,1223.0 1174.1,1225.2 1177.9,1225.7 1181.6,1225.0 1183.4,1223.9 1185.3,1221.8 1186.9,1217.6 1187.0,1213.9 1185.3,1208.7 1181.6,1204.3 1177.9,1202.3 1174.1,1201.6 1170.4,1202.6M980.0,979.9 977.5,991.1 976.0,1000.4 974.3,1024.5 972.7,1035.6 968.1,1048.6 962.6,1057.9 956.9,1063.5 951.4,1070.0 945.8,1073.7 940.2,1078.4 930.9,1084.6 884.2,1109.9 871.5,1122.1 862.2,1133.8M862.2,1250.4 869.7,1242.5 889.8,1217.6 895.7,1212.6 900.4,1210.2 906.8,1207.8 930.9,1201.5 940.2,1198.4 945.8,1195.8 951.4,1191.5 953.2,1189.4 955.1,1186.3 957.8,1178.6 960.0,1158.2 961.9,1148.9 964.4,1143.3 968.1,1139.0 971.8,1136.9 977.4,1135.5 986.6,1134.9 999.6,1135.4 1003.3,1136.6 1006.1,1139.6 1008.1,1145.2 1009.8,1160.0 1012.4,1169.3 1016.1,1174.9 1020.4,1178.6 1025.6,1181.8 1031.2,1184.5 1047.9,1190.8 1055.3,1192.7 1070.2,1194.4 1083.2,1196.8 1091.2,1199.0 1101.7,1203.5 1109.2,1208.3 1116.5,1213.9 1122.2,1218.8 1128.1,1225.0 1142.3,1245.4 1155.6,1266.2 1159.7,1271.4 1163.8,1275.1 1172.4,1278.8 1202.0,1289.1 1216.8,1293.0 1233.6,1296.2M966.4,979.9 963.4,1015.2 963.1,1024.5 961.6,1033.8 960.4,1037.5 956.8,1044.9 949.0,1056.1 938.4,1064.9 921.7,1073.7 903.1,1081.3 877.1,1090.2 862.2,1097.0M867.2,1351.3 892.0,1311.5 908.7,1283.1 913.1,1273.3 915.9,1260.3 917.7,1254.7 921.0,1247.3 924.5,1241.7 929.2,1236.1 934.7,1231.4 960.8,1215.7 969.9,1208.4 972.9,1204.6 974.2,1200.9 974.0,1195.3 972.8,1189.7 969.5,1182.3 966.8,1173.0 966.5,1169.3 967.3,1161.9 969.1,1156.3 973.0,1150.7 977.4,1148.0 982.9,1147.2 986.6,1147.8 990.3,1149.7 993.9,1152.6 995.4,1154.5 997.4,1158.2 999.4,1163.7 1003.1,1180.5 1005.3,1186.0 1008.1,1189.7 1012.0,1193.4 1025.6,1202.4 1032.2,1208.3 1036.1,1213.9 1043.4,1228.7 1046.0,1232.2 1051.6,1237.0 1062.8,1241.9 1068.2,1245.4 1072.0,1249.5 1077.6,1259.1 1081.3,1262.4 1085.0,1264.2 1088.7,1265.2 1099.9,1266.3 1107.3,1268.2 1112.9,1270.7 1118.4,1274.8 1124.0,1280.8 1137.0,1298.5 1156.2,1316.0 1166.7,1327.1 1175.8,1338.3 1185.6,1351.3M948.2,979.9 951.0,1022.6 950.9,1030.1 949.5,1038.2 943.9,1048.7 937.6,1054.2 932.8,1057.4 919.8,1061.9 862.2,1072.0M979.7,1160.0 982.9,1159.1 984.8,1159.6 987.5,1161.9 989.3,1165.6 989.5,1169.3 988.5,1173.0 986.6,1175.5 984.8,1176.7 982.9,1177.3 980.3,1176.7 977.9,1174.9 976.7,1173.0 975.6,1169.3 975.9,1165.6 976.6,1163.7 977.7,1161.9 979.7,1160.0M937.6,1351.3 938.4,1317.8 939.4,1303.0 943.9,1282.7 946.7,1265.9 949.5,1258.3 953.2,1253.5 958.8,1250.2 964.4,1248.3 977.4,1245.5 986.7,1241.7 994.1,1236.1 1005.7,1223.2 1008.9,1221.2 1012.6,1220.3 1016.3,1220.6 1020.1,1221.6 1022.8,1223.2 1025.6,1225.9 1030.2,1232.4 1034.3,1241.7 1038.6,1249.1 1049.6,1262.1 1051.5,1267.7 1052.6,1275.1 1052.2,1280.7 1046.2,1308.6 1042.9,1332.7 1043.8,1340.1 1046.6,1351.3" fill="none" stroke="#000" stroke-width="1.7" stroke-linejoin="round"/>
</g>
<circle cx="1047.9" cy="1165.6" r="171.9" fill="none" stroke="#444" stroke-width="1.3"/>
<path d="M1020.4,1035.5h3M1021.9,1034.0v3M1071.4,1035.5h3M1072.9,1034.0v3M995.4,1043.5h3M996.9,1042.0v3M1096.7,1043.5h3M1098.2,1042.0v3M940.8,1052.3h3M942.3,1050.8v3M1151.5,1052.3h3M1153.0,1050.8v3M1014.6,1061.0h3M1016.1,1059.5v3M1077.2,1061.0h3M1078.7,1059.5v3M1045.9,1067.3h3M1047.4,1065.8v3M952.1,1072.8h3M953.6,1071.3v3M1139.7,1072.8h3M1141.2,1071.3v3M972.1,1085.5h3M973.6,1084.0v3M1120.2,1085.5h3M1121.7,1084.0v3M995.4,1094.0h3M996.9,1092.5v3M1096.7,1094.0h3M1098.2,1092.5v3M1020.4,1098.0h3M1021.9,1096.5v3M1070.9,1098.0h3M1072.4,1096.5v3M1043.4,1100.3h3M1044.9,1098.8v3M923.3,1115.6h3M924.8,1114.1v3M1168.5,1115.6h3M1170.0,1114.1v3M952.1,1124.3h3M953.6,1122.8v3M1139.7,1124.3h3M1141.2,1122.8v3M983.3,1129.8h3M984.8,1128.3v3M1108.5,1129.8h3M1110.0,1128.3v3M1014.6,1131.8h3M1016.1,1130.3v3M1077.2,1131.8h3M1078.7,1130.3v3M913.3,1166.6h3M914.8,1165.1v3M947.1,1166.6h3M948.6,1165.1v3M979.1,1166.6h3M980.6,1165.1v3M1012.6,1166.6h3M1014.1,1165.1v3M1045.9,1166.6h3M1047.4,1165.1v3M1079.7,1166.6h3M1081.2,1165.1v3M1112.7,1166.6h3M1114.2,1165.1v3M1144.7,1166.6h3M1146.2,1165.1v3M1178.5,1166.6h3M1180.0,1165.1v3M1014.6,1200.6h3M1016.1,1199.1v3M1077.2,1200.6h3M1078.7,1199.1v3M1045.9,1199.9h3M1047.4,1198.4v3M983.3,1202.4h3M984.8,1200.9v3M1108.5,1202.4h3M1110.0,1200.9v3M952.8,1208.6h3M954.3,1207.1v3M1139.7,1208.6h3M1141.2,1207.1v3M923.3,1216.6h3M924.8,1215.1v3M1168.5,1216.6h3M1170.0,1215.1v3M1045.9,1232.4h3M1047.4,1230.9v3M1071.4,1234.2h3M1072.9,1232.7v3M1096.7,1238.2h3M1098.2,1236.7v3M1120.2,1246.9h3M1121.7,1245.4v3M952.1,1259.4h3M953.6,1257.9v3M1139.7,1259.4h3M1141.2,1257.9v3M1045.9,1264.9h3M1047.4,1263.4v3M1077.2,1271.9h3M1078.7,1270.4v3M940.8,1280.5h3M942.3,1279.0v3M1151.5,1280.5h3M1153.0,1279.0v3M1096.7,1288.7h3M1098.2,1287.2v3M1045.9,1298.2h3M1047.4,1296.7v3M1070.9,1296.7h3M1072.4,1295.2v3M1045.9,1331.2h3M1047.4,1329.7v3" stroke="#000" stroke-width="1.6" stroke-linecap="round" fill="none"/>
<path d="M969.3,1246.8h10M974.3,1241.8v10M993.2,1238.4h10M998.2,1233.4v10M1016.7,1233.4h10M1021.7,1228.4v10M1010.9,1271.5h10M1015.9,1266.5v10M993.2,1287.8h10M998.2,1282.8v10M1016.7,1295.4h10M1021.7,1290.4v10" stroke="#f01428" stroke-width="2.6" fill="none"/>
</g>
<g id="map3">
<clipPath id="cp2"><circle cx="1640.6" cy="1166.1" r="167.8"/></clipPath>
<path d="M1628.1,998.9L1640.1,980.7L1652.1,998.9" fill="#fff" stroke="#333" stroke-width="1.2"/>
<g clip-path="url(#cp2)"><g filter="url(#bl)">
<circle cx="1640.6" cy="1166.1" r="170.4" fill="#3e26a8"/>
<path fill="#4536d5" fill-rule="evenodd" d="M1459,984 1758,984 1752,1017 1750,1030 1750,1039 1752,1043 1754,1048 1765,1062 1770,1068 1773,1071 1779,1073 1806,1082 1815,1086 1822,1090 1822,1348 1459,1348ZM1535,1160 1533,1161 1531,1163 1530,1166 1530,1168 1532,1172 1535,1173 1537,1173 1539,1173 1541,1172 1542,1170 1543,1166 1542,1164 1541,1161 1539,1160Z"/>
<path fill="#4744e9" fill-rule="evenodd" d="M1459,984 1750,984 1743,1024 1742,1033 1743,1042 1746,1050 1750,1055 1756,1062 1764,1070 1770,1074 1777,1078 1796,1086 1806,1091 1816,1097 1822,1103 1822,1348 1459,1348ZM1533,1157 1530,1159 1528,1162 1527,1166 1527,1170 1529,1173 1531,1176 1535,1177 1539,1177 1543,1175 1546,1172 1546,1168 1546,1164 1544,1160 1541,1157 1537,1156Z"/>
<path fill="#4853f5" fill-rule="evenodd" d="M1459,984 1743,984 1736,1035 1737,1044 1739,1052 1743,1057 1747,1062 1761,1074 1773,1082 1797,1095 1804,1101 1810,1106 1815,1113 1819,1121 1820,1126 1821,1132 1820,1135 1819,1139 1817,1142 1813,1146 1802,1151 1799,1153 1797,1157 1796,1161 1797,1162 1798,1164 1801,1166 1815,1167 1822,1169 1822,1348 1459,1348ZM1533,1153 1530,1155 1528,1157 1525,1161 1524,1166 1524,1172 1526,1176 1530,1179 1533,1181 1539,1181 1544,1178 1548,1174 1549,1170 1549,1164 1547,1159 1542,1154 1539,1153Z"/>
<path fill="#4562fc" fill-rule="evenodd" d="M1459,984 1736,984 1734,1006 1731,1035 1731,1044 1733,1052 1739,1062 1746,1070 1752,1075 1768,1086 1782,1097 1790,1104 1795,1110 1798,1115 1800,1121 1800,1126 1800,1130 1799,1133 1797,1135 1788,1143 1784,1148 1783,1152 1782,1157 1783,1162 1784,1168 1787,1173 1790,1176 1795,1179 1804,1181 1808,1182 1815,1187 1822,1194 1822,1341 1811,1348 1685,1348 1675,1346 1670,1347 1666,1348 1474,1348 1470,1337 1466,1324 1459,1292ZM1535,1150 1529,1152 1527,1153 1524,1156 1521,1162 1520,1170 1521,1175 1525,1181 1530,1184 1535,1185 1541,1184 1544,1182 1546,1181 1551,1175 1552,1170 1551,1162 1550,1159 1548,1156 1542,1151 1539,1150Z"/>
<path fill="#3c72ff" fill-rule="evenodd" d="M1459,984 1729,984 1728,1008 1726,1037 1727,1046 1728,1053 1734,1066 1739,1073 1744,1079 1757,1090 1762,1095 1766,1101 1768,1106 1769,1110 1768,1115 1760,1132 1759,1135 1760,1139 1768,1152 1775,1172 1779,1179 1808,1212 1817,1222 1822,1230 1822,1313 1819,1317 1813,1323 1807,1328 1801,1332 1793,1336 1785,1339 1777,1341 1768,1343 1759,1345 1741,1345 1722,1343 1706,1340 1679,1331 1673,1330 1666,1330 1659,1331 1655,1332 1653,1333 1648,1339 1643,1348 1489,1348 1483,1335 1479,1323 1476,1310 1469,1273 1462,1248 1459,1237ZM1531,1148 1526,1150 1522,1153 1521,1156 1518,1164 1517,1173 1519,1180 1522,1185 1528,1188 1535,1188 1541,1187 1544,1186 1547,1184 1550,1182 1551,1179 1553,1175 1553,1164 1552,1159 1550,1155 1544,1149 1542,1148 1539,1147 1535,1147Z"/>
<path fill="#2f82fa" fill-rule="evenodd" d="M1459,984 1722,984 1722,1008 1722,1035 1722,1046 1723,1055 1728,1072 1733,1082 1745,1099 1748,1106 1750,1112 1751,1117 1752,1139 1761,1157 1770,1182 1774,1192 1781,1206 1784,1213 1790,1221 1803,1237 1808,1244 1812,1252 1815,1261 1816,1266 1816,1273 1814,1284 1812,1290 1810,1295 1806,1301 1802,1306 1797,1311 1791,1315 1784,1319 1777,1323 1770,1325 1761,1328 1742,1330 1728,1331 1713,1329 1701,1327 1679,1321 1653,1317 1648,1316 1644,1318 1642,1321 1641,1325 1636,1339 1632,1348 1503,1348 1495,1333 1490,1317 1487,1304 1482,1275 1475,1248 1470,1228 1468,1222 1466,1219 1463,1215 1459,1212ZM1528,1146 1524,1147 1521,1150 1517,1156 1515,1161 1514,1168 1513,1173 1513,1179 1514,1182 1515,1186 1519,1190 1524,1192 1531,1192 1542,1190 1548,1187 1551,1184 1553,1181 1555,1175 1555,1165 1553,1158 1551,1154 1543,1146 1541,1145 1537,1144 1531,1145ZM1672,1071 1671,1073 1672,1075 1673,1076 1676,1075 1677,1073 1676,1072 1675,1070 1673,1070Z"/>
<path fill="#2c90f0" fill-rule="evenodd" d="M1459,984 1715,984 1717,1017 1717,1053 1715,1081 1716,1092 1721,1104 1724,1112 1728,1116 1739,1123 1742,1127 1744,1130 1747,1141 1755,1161 1766,1203 1772,1219 1779,1235 1782,1241 1790,1252 1794,1259 1795,1262 1796,1268 1795,1277 1791,1286 1785,1293 1781,1298 1774,1303 1768,1306 1761,1309 1752,1313 1742,1315 1724,1318 1715,1318 1702,1317 1677,1314 1664,1311 1648,1304 1644,1304 1641,1307 1637,1313 1634,1321 1630,1335 1626,1342 1622,1348 1518,1348 1512,1341 1508,1333 1504,1324 1500,1315 1497,1301 1493,1272 1491,1264 1483,1244 1482,1237 1481,1224 1479,1217 1476,1212 1473,1208 1459,1198ZM1530,1142 1524,1144 1519,1147 1515,1152 1512,1159 1508,1175 1507,1181 1507,1186 1508,1190 1510,1192 1511,1194 1515,1196 1521,1197 1528,1196 1535,1195 1544,1192 1550,1189 1553,1186 1557,1177 1557,1173 1556,1162 1553,1154 1552,1152 1544,1144 1542,1143 1537,1142ZM1670,1066 1667,1068 1666,1070 1666,1073 1668,1077 1670,1079 1673,1081 1677,1080 1679,1079 1680,1077 1681,1075 1681,1073 1680,1070 1679,1068 1675,1066 1672,1065Z"/>
<path fill="#259de7" fill-rule="evenodd" d="M1459,984 1707,984 1711,1012 1711,1026 1709,1035 1706,1050 1704,1055 1699,1066 1695,1071 1693,1073 1692,1073 1690,1072 1685,1066 1681,1063 1675,1061 1670,1060 1666,1062 1662,1064 1660,1068 1660,1072 1661,1075 1665,1081 1668,1083 1672,1085 1675,1086 1679,1085 1690,1082 1692,1083 1696,1093 1699,1106 1699,1113 1697,1126 1697,1132 1699,1137 1702,1141 1708,1144 1712,1145 1715,1145 1721,1143 1732,1139 1735,1138 1737,1139 1739,1140 1741,1143 1744,1151 1755,1188 1758,1201 1767,1244 1773,1262 1773,1268 1772,1272 1769,1277 1765,1282 1761,1286 1755,1290 1741,1297 1719,1304 1701,1308 1688,1308 1673,1306 1663,1303 1650,1295 1646,1295 1644,1295 1641,1297 1635,1306 1629,1319 1625,1330 1622,1335 1617,1343 1612,1348 1534,1348 1530,1344 1523,1337 1517,1328 1513,1319 1509,1310 1506,1295 1503,1272 1502,1266 1500,1261 1492,1244 1489,1237 1488,1232 1488,1215 1486,1208 1483,1202 1470,1193 1459,1183ZM1522,1141 1519,1142 1516,1144 1511,1150 1509,1155 1502,1175 1500,1186 1501,1195 1502,1199 1504,1201 1508,1203 1515,1203 1522,1202 1533,1199 1546,1193 1551,1190 1554,1188 1555,1186 1558,1177 1558,1173 1557,1162 1555,1155 1553,1151 1544,1143 1541,1141 1531,1140 1526,1140Z"/>
<path fill="#1da9e0" fill-rule="evenodd" d="M1459,984 1699,984 1704,1010 1704,1021 1703,1026 1701,1030 1693,1037 1693,1039 1692,1046 1691,1050 1688,1053 1684,1055 1670,1055 1664,1057 1661,1058 1658,1061 1655,1064 1654,1068 1654,1072 1655,1075 1657,1079 1662,1086 1668,1090 1681,1096 1682,1098 1684,1101 1686,1108 1685,1124 1685,1132 1687,1139 1692,1146 1699,1152 1706,1156 1713,1157 1728,1158 1733,1160 1739,1166 1746,1180 1750,1190 1753,1199 1754,1210 1755,1221 1754,1244 1753,1255 1752,1261 1750,1264 1746,1270 1739,1275 1721,1283 1710,1292 1704,1295 1699,1297 1692,1299 1682,1300 1673,1299 1664,1296 1652,1287 1648,1286 1644,1287 1641,1290 1637,1295 1622,1324 1617,1333 1613,1337 1608,1341 1602,1345 1597,1348 1555,1348 1545,1343 1536,1335 1531,1330 1526,1323 1522,1315 1518,1306 1515,1297 1513,1288 1511,1264 1508,1256 1496,1235 1494,1230 1494,1224 1497,1218 1501,1214 1504,1213 1515,1211 1522,1208 1546,1196 1553,1191 1555,1189 1557,1186 1559,1177 1558,1162 1556,1155 1555,1152 1546,1142 1544,1141 1539,1138 1530,1137 1522,1137 1517,1138 1511,1141 1508,1145 1496,1166 1495,1170 1494,1173 1494,1186 1493,1190 1491,1193 1490,1194 1488,1194 1486,1194 1482,1192 1478,1188 1474,1182 1466,1170 1459,1161Z"/>
<path fill="#0cb3d3" fill-rule="evenodd" d="M1459,984 1691,984 1697,1013 1697,1021 1696,1026 1690,1036 1687,1044 1684,1047 1679,1049 1664,1051 1659,1053 1655,1055 1650,1059 1648,1062 1647,1066 1647,1072 1649,1077 1653,1085 1659,1092 1669,1102 1671,1106 1673,1113 1673,1128 1674,1135 1676,1142 1680,1148 1690,1157 1695,1161 1701,1165 1710,1168 1724,1171 1732,1174 1735,1177 1739,1181 1745,1190 1747,1197 1749,1202 1749,1210 1748,1219 1746,1229 1742,1242 1739,1250 1735,1256 1729,1261 1713,1268 1710,1272 1701,1282 1697,1286 1692,1290 1686,1292 1679,1292 1672,1291 1664,1288 1655,1281 1652,1279 1646,1278 1642,1280 1639,1282 1637,1286 1626,1310 1621,1319 1617,1324 1612,1330 1606,1334 1601,1337 1595,1340 1590,1341 1582,1342 1575,1342 1568,1341 1561,1339 1555,1336 1548,1332 1542,1327 1537,1321 1532,1313 1528,1306 1524,1297 1521,1290 1520,1282 1518,1264 1517,1260 1513,1248 1506,1233 1505,1230 1506,1228 1506,1226 1508,1224 1519,1218 1534,1206 1550,1197 1553,1194 1557,1190 1558,1186 1560,1177 1560,1164 1559,1161 1556,1152 1548,1142 1541,1137 1530,1134 1521,1133 1515,1133 1511,1134 1504,1139 1495,1147 1491,1149 1488,1150 1482,1149 1475,1147 1468,1143 1459,1137ZM1571,1091 1570,1093 1571,1095 1573,1097 1575,1097 1576,1095 1576,1093 1575,1092 1573,1091ZM1624,1159 1619,1160 1615,1162 1613,1164 1612,1168 1611,1170 1612,1173 1613,1176 1617,1178 1621,1179 1626,1177 1632,1173 1634,1170 1635,1166 1635,1164 1633,1161 1630,1159Z"/>
<path fill="#03bbc2" fill-rule="evenodd" d="M1459,984 1681,984 1691,1021 1691,1026 1686,1039 1684,1041 1681,1043 1672,1044 1664,1045 1655,1048 1650,1051 1646,1054 1644,1057 1642,1061 1641,1066 1641,1072 1642,1077 1655,1101 1658,1106 1659,1112 1660,1117 1660,1124 1657,1146 1657,1148 1660,1150 1675,1157 1693,1170 1699,1173 1706,1176 1726,1182 1733,1186 1737,1189 1741,1194 1743,1199 1744,1204 1743,1210 1742,1215 1739,1224 1728,1242 1724,1246 1721,1248 1713,1250 1710,1250 1706,1250 1702,1247 1698,1237 1695,1233 1692,1232 1690,1232 1686,1233 1683,1235 1682,1239 1681,1241 1682,1244 1685,1248 1693,1255 1694,1257 1695,1261 1694,1266 1693,1272 1690,1277 1687,1281 1682,1283 1679,1284 1675,1285 1672,1284 1668,1283 1662,1279 1650,1268 1646,1267 1642,1268 1639,1271 1635,1276 1628,1299 1624,1307 1619,1315 1613,1321 1606,1326 1599,1330 1591,1332 1584,1333 1577,1332 1570,1331 1564,1329 1557,1325 1552,1321 1546,1315 1541,1310 1537,1303 1532,1295 1529,1288 1527,1281 1524,1268 1522,1253 1522,1239 1523,1233 1525,1228 1529,1221 1535,1212 1539,1207 1553,1197 1558,1192 1560,1188 1561,1175 1560,1162 1559,1155 1557,1151 1548,1141 1541,1135 1531,1131 1524,1128 1517,1127 1511,1127 1497,1129 1488,1129 1479,1125 1459,1115ZM1568,1088 1566,1090 1566,1092 1567,1093 1570,1098 1571,1100 1575,1101 1577,1101 1579,1100 1580,1097 1580,1095 1579,1092 1577,1089 1575,1088 1571,1087ZM1637,1150 1628,1151 1621,1153 1615,1156 1610,1161 1607,1166 1607,1172 1608,1179 1610,1182 1612,1184 1615,1186 1619,1186 1626,1185 1631,1182 1635,1179 1642,1172 1648,1161 1650,1157 1650,1153 1650,1152 1646,1150Z"/>
<path fill="#22c1b0" fill-rule="evenodd" d="M1459,984 1670,984 1678,1006 1684,1022 1685,1026 1683,1033 1682,1035 1679,1037 1668,1038 1657,1040 1652,1042 1648,1044 1644,1047 1642,1050 1639,1053 1636,1062 1636,1066 1636,1072 1638,1081 1645,1097 1647,1104 1649,1115 1647,1124 1644,1132 1639,1137 1633,1141 1615,1150 1612,1153 1608,1157 1606,1161 1604,1166 1604,1179 1605,1186 1607,1190 1609,1192 1612,1193 1619,1194 1626,1192 1630,1191 1635,1187 1652,1172 1657,1168 1662,1166 1666,1165 1670,1166 1673,1166 1679,1169 1693,1178 1701,1182 1723,1190 1730,1193 1732,1195 1735,1199 1737,1202 1737,1208 1735,1213 1730,1221 1724,1226 1719,1229 1713,1229 1697,1224 1690,1223 1684,1224 1681,1225 1675,1228 1670,1232 1665,1237 1659,1246 1657,1249 1653,1252 1641,1257 1637,1260 1634,1264 1631,1268 1629,1273 1627,1292 1625,1297 1623,1303 1619,1309 1615,1313 1610,1317 1604,1320 1595,1323 1586,1323 1581,1322 1575,1321 1566,1317 1557,1310 1549,1303 1541,1291 1535,1281 1532,1272 1531,1264 1530,1257 1531,1250 1537,1222 1540,1213 1543,1210 1555,1199 1560,1193 1562,1190 1562,1186 1563,1175 1561,1162 1559,1153 1558,1150 1550,1140 1541,1132 1530,1125 1521,1121 1504,1118 1497,1115 1459,1097ZM1570,1082 1566,1083 1564,1084 1562,1086 1561,1090 1562,1093 1567,1101 1570,1103 1575,1106 1579,1106 1581,1106 1583,1104 1585,1101 1585,1097 1584,1093 1581,1088 1579,1086 1575,1083Z"/>
<path fill="#34c79c" fill-rule="evenodd" d="M1459,984 1656,984 1668,1013 1670,1019 1670,1022 1670,1024 1667,1026 1652,1031 1644,1034 1641,1037 1637,1044 1635,1050 1633,1056 1632,1064 1632,1072 1633,1084 1639,1106 1639,1113 1638,1119 1636,1124 1632,1131 1627,1135 1612,1146 1608,1150 1606,1154 1602,1164 1601,1177 1598,1190 1598,1193 1598,1195 1599,1197 1602,1199 1608,1201 1619,1201 1628,1200 1633,1198 1637,1195 1650,1182 1655,1178 1662,1175 1670,1174 1675,1175 1681,1177 1697,1187 1717,1197 1721,1200 1723,1202 1724,1204 1724,1208 1722,1212 1721,1213 1719,1215 1715,1217 1708,1218 1693,1217 1686,1217 1661,1226 1655,1230 1645,1242 1632,1257 1626,1264 1624,1270 1623,1273 1624,1288 1623,1295 1621,1300 1617,1305 1613,1308 1610,1310 1602,1313 1593,1313 1584,1312 1575,1308 1567,1303 1559,1295 1550,1284 1545,1275 1542,1268 1541,1259 1542,1252 1545,1235 1547,1219 1548,1215 1550,1212 1559,1202 1562,1197 1564,1193 1565,1190 1562,1162 1560,1152 1559,1148 1551,1139 1541,1127 1530,1118 1522,1114 1502,1105 1477,1090 1459,1081ZM1564,1079 1559,1082 1556,1086 1555,1092 1557,1097 1564,1106 1573,1113 1577,1115 1581,1115 1586,1114 1588,1113 1591,1110 1593,1104 1593,1099 1592,1095 1590,1092 1584,1084 1579,1081 1571,1078 1568,1078Z"/>
<path fill="#4bcb84" fill-rule="evenodd" d="M1459,984 1637,984 1642,1001 1642,1006 1642,1010 1641,1012 1632,1018 1629,1021 1628,1024 1630,1041 1629,1061 1626,1088 1626,1097 1628,1110 1628,1113 1626,1119 1621,1127 1617,1132 1610,1137 1607,1141 1605,1146 1602,1155 1599,1173 1598,1179 1593,1187 1588,1192 1582,1195 1577,1195 1573,1194 1570,1189 1566,1181 1564,1170 1562,1152 1561,1148 1555,1139 1547,1128 1539,1113 1536,1110 1531,1106 1515,1100 1508,1097 1502,1093 1491,1084 1486,1081 1459,1068ZM1561,1075 1557,1077 1553,1081 1550,1084 1547,1090 1546,1093 1545,1097 1546,1101 1548,1104 1561,1114 1571,1126 1575,1128 1579,1129 1586,1128 1593,1126 1597,1124 1601,1121 1603,1117 1604,1113 1605,1108 1604,1101 1602,1097 1599,1092 1594,1086 1590,1082 1584,1078 1579,1075 1573,1074 1570,1073 1564,1074ZM1667,1181 1672,1181 1675,1181 1679,1183 1684,1186 1704,1202 1705,1204 1705,1206 1704,1208 1702,1209 1695,1208 1690,1209 1673,1216 1666,1217 1660,1217 1657,1216 1652,1213 1644,1212 1643,1213 1643,1215 1642,1228 1639,1237 1633,1246 1620,1261 1617,1264 1616,1268 1615,1272 1615,1275 1619,1283 1620,1288 1620,1293 1618,1297 1617,1299 1613,1302 1610,1304 1606,1305 1602,1305 1599,1304 1592,1301 1578,1290 1570,1282 1563,1273 1561,1269 1559,1264 1557,1257 1558,1248 1560,1239 1565,1226 1566,1217 1567,1213 1569,1212 1571,1210 1577,1208 1624,1209 1641,1210 1642,1209 1646,1199 1648,1193 1651,1190 1655,1186 1659,1183 1662,1182Z"/>
<path fill="#6dcd67" fill-rule="evenodd" d="M1459,984 1615,984 1614,997 1615,1004 1618,1024 1623,1044 1624,1059 1624,1064 1622,1072 1621,1077 1619,1081 1615,1084 1613,1085 1610,1085 1604,1083 1593,1077 1582,1071 1573,1069 1566,1069 1561,1070 1555,1073 1546,1079 1537,1087 1533,1089 1530,1091 1526,1091 1521,1091 1515,1090 1510,1087 1505,1084 1495,1075 1459,1056ZM1577,1137 1584,1136 1590,1136 1593,1137 1596,1139 1598,1141 1599,1144 1600,1148 1600,1155 1598,1168 1596,1177 1593,1182 1590,1186 1586,1188 1581,1189 1577,1189 1573,1187 1568,1182 1566,1177 1565,1172 1564,1159 1563,1142 1564,1139 1566,1138 1573,1138ZM1663,1188 1668,1187 1673,1187 1678,1190 1682,1193 1683,1197 1683,1201 1681,1204 1677,1208 1672,1211 1666,1212 1661,1210 1656,1206 1654,1202 1654,1197 1658,1192ZM1606,1217 1619,1217 1624,1219 1628,1221 1631,1224 1632,1228 1632,1232 1630,1237 1627,1242 1622,1248 1617,1253 1608,1259 1602,1261 1597,1263 1591,1262 1588,1261 1582,1257 1580,1253 1578,1250 1577,1242 1578,1237 1579,1233 1582,1227 1588,1222 1596,1219ZM1604,1284 1606,1283 1610,1283 1613,1285 1615,1286 1617,1290 1617,1292 1615,1295 1613,1297 1610,1298 1608,1299 1604,1297 1602,1295 1601,1293 1601,1290 1601,1288Z"/>
<path fill="#94ca4a" fill-rule="evenodd" d="M1459,984 1599,984 1600,997 1601,1006 1614,1042 1617,1055 1617,1062 1615,1068 1613,1070 1612,1071 1608,1072 1604,1071 1581,1064 1573,1063 1566,1063 1562,1064 1557,1066 1537,1078 1530,1082 1524,1083 1521,1083 1515,1082 1511,1080 1495,1067 1459,1043ZM1578,1141 1584,1140 1588,1140 1591,1142 1593,1143 1595,1146 1597,1150 1597,1153 1596,1168 1595,1173 1594,1177 1591,1181 1588,1184 1584,1185 1581,1186 1575,1185 1569,1181 1568,1178 1567,1175 1565,1166 1565,1153 1567,1146 1570,1143ZM1665,1193 1668,1193 1670,1193 1672,1193 1674,1195 1675,1197 1675,1201 1674,1202 1672,1205 1668,1206 1666,1206 1663,1204 1661,1202 1661,1201 1661,1197 1663,1195ZM1603,1226 1610,1225 1615,1226 1619,1228 1621,1232 1621,1233 1620,1237 1617,1242 1612,1246 1606,1248 1601,1248 1596,1246 1593,1242 1592,1239 1592,1235 1594,1232 1598,1228ZM1609,1288 1612,1289 1613,1290 1613,1292 1612,1293 1610,1294 1608,1294 1606,1292 1606,1290 1608,1288Z"/>
<path fill="#b8c431" fill-rule="evenodd" d="M1459,984 1586,984 1588,997 1590,1008 1599,1041 1600,1046 1599,1050 1599,1052 1597,1053 1593,1054 1573,1055 1562,1058 1555,1061 1539,1071 1530,1075 1524,1076 1521,1076 1517,1075 1513,1074 1508,1070 1491,1055 1459,1028ZM1574,1144 1581,1143 1584,1143 1588,1144 1591,1146 1592,1148 1595,1153 1595,1159 1595,1164 1593,1173 1591,1177 1588,1181 1586,1182 1582,1183 1577,1183 1571,1181 1569,1177 1567,1172 1566,1164 1567,1153 1568,1150 1570,1147Z"/>
<path fill="#d7be28" fill-rule="evenodd" d="M1459,984 1572,984 1579,1021 1580,1030 1578,1035 1575,1041 1571,1044 1539,1065 1531,1068 1526,1069 1521,1069 1515,1068 1512,1066 1508,1062 1459,1010ZM1576,1146 1579,1145 1582,1145 1585,1146 1588,1148 1590,1150 1591,1152 1593,1159 1593,1168 1592,1172 1590,1175 1586,1180 1581,1182 1575,1181 1571,1179 1569,1175 1567,1168 1567,1161 1568,1153 1571,1149Z"/>
<path fill="#f1ba37" fill-rule="evenodd" d="M1463,984 1557,984 1562,1002 1565,1015 1565,1024 1564,1030 1562,1033 1559,1039 1554,1044 1545,1053 1539,1058 1533,1060 1528,1062 1522,1062 1519,1061 1513,1056 1507,1048 1485,1017ZM1577,1148 1582,1148 1586,1150 1590,1154 1591,1161 1591,1168 1589,1173 1586,1178 1584,1179 1581,1180 1575,1179 1571,1177 1570,1173 1568,1166 1568,1161 1570,1155 1571,1152 1573,1150Z"/>
<path fill="#fec239" fill-rule="evenodd" d="M1497,984 1531,984 1537,992 1541,999 1545,1008 1548,1015 1548,1022 1548,1028 1546,1035 1543,1041 1538,1048 1533,1052 1531,1052 1528,1052 1526,1052 1523,1050 1517,1041 1512,1033 1506,1021 1502,1008 1498,995ZM1575,1152 1579,1150 1581,1150 1584,1151 1587,1155 1589,1161 1590,1166 1588,1172 1584,1177 1581,1178 1577,1178 1573,1176 1571,1173 1570,1170 1569,1164 1570,1159 1571,1155Z"/>
<path fill="#fbd22f" fill-rule="evenodd" d="M1576,1153 1579,1153 1582,1154 1586,1157 1587,1162 1588,1166 1586,1172 1584,1174 1581,1176 1577,1176 1573,1174 1572,1172 1571,1168 1571,1164 1571,1160 1573,1156Z"/>
<path fill="#f5e327" fill-rule="evenodd" d="M1576,1157 1579,1156 1581,1157 1582,1158 1584,1161 1585,1164 1584,1170 1582,1172 1581,1173 1579,1174 1577,1174 1575,1173 1573,1170 1573,1168 1572,1164 1573,1161 1575,1158Z"/>
<path fill="#f7f31d" fill-rule="evenodd" d="M1577,1162 1579,1162 1581,1164 1581,1168 1579,1170 1577,1169 1576,1168 1575,1166Z"/>
</g>
<path d="M1738.4,984.2 1736.5,1004.2 1732.7,1035.2 1733.2,1044.2 1735.2,1051.5 1740.7,1060.6 1744.3,1064.8 1749.7,1070.0 1760.6,1078.2 1794.3,1100.6 1798.3,1104.3 1802.7,1109.7 1806.1,1115.7 1808.7,1122.5 1809.6,1127.9 1809.2,1133.4 1808.0,1137.0 1805.4,1140.6 1796.8,1146.1 1791.6,1150.9 1789.7,1153.3 1787.9,1158.8 1787.8,1162.5 1788.4,1166.1 1789.8,1169.7 1791.6,1172.0 1793.4,1173.3 1797.0,1174.0 1804.3,1173.5 1807.9,1174.3 1815.2,1177.8 1822.5,1182.9M1533.3,1151.2 1529.7,1152.8 1527.8,1154.1 1524.1,1158.8 1522.2,1164.3 1521.8,1167.9 1522.0,1171.6 1524.2,1177.0 1527.8,1180.8 1529.7,1181.8 1533.3,1182.9 1538.8,1182.8 1544.2,1180.6 1547.8,1177.2 1549.3,1175.2 1550.5,1171.6 1550.5,1164.3 1548.7,1158.8 1544.0,1153.4 1541.1,1151.6 1538.8,1150.8 1533.3,1151.2M1467.9,1348.0 1463.1,1335.2 1458.7,1320.4M1710.2,984.2 1713.5,1015.1 1712.9,1038.8 1711.5,1052.2 1704.0,1073.3 1701.4,1082.4 1701.3,1086.1 1701.8,1089.7 1705.3,1104.3 1706.0,1109.7 1705.5,1117.0 1702.9,1127.9 1703.2,1131.5 1704.3,1133.8 1706.1,1136.0 1707.9,1137.4 1711.5,1138.5 1717.0,1137.8 1727.9,1133.4 1733.4,1132.0 1737.0,1132.0 1738.8,1132.6 1740.6,1133.7 1741.9,1135.2 1746.5,1147.9 1751.9,1166.1 1766.1,1222.7 1769.2,1233.4 1775.2,1249.5 1780.7,1257.0 1782.5,1260.7 1783.2,1266.1 1782.5,1271.6 1779.5,1278.9 1775.8,1284.3 1770.4,1289.8 1764.3,1294.3 1757.0,1298.3 1747.9,1302.2 1736.2,1306.1 1724.3,1309.3 1713.3,1310.7 1700.6,1311.5 1682.4,1310.2 1671.5,1308.4 1664.2,1306.3 1647.9,1298.1 1644.2,1298.0 1642.4,1298.8 1638.8,1303.1 1635.1,1309.2 1631.1,1318.9 1627.7,1329.8 1625.4,1335.2 1620.7,1342.5 1616.1,1348.0M1671.5,1062.3 1667.9,1063.0 1665.6,1064.3 1663.9,1066.1 1662.5,1069.7 1662.8,1073.3 1665.6,1078.8 1667.9,1081.1 1669.7,1082.2 1673.3,1083.4 1675.2,1083.4 1678.8,1082.6 1682.1,1080.6 1683.6,1078.8 1684.9,1075.2 1684.3,1071.5 1682.6,1067.9 1680.6,1065.7 1675.2,1062.8 1671.5,1062.3M1531.5,1140.6 1524.2,1141.6 1518.3,1144.3 1516.2,1146.1 1513.3,1149.6 1510.6,1155.2 1504.4,1175.2 1503.1,1186.1 1503.6,1191.6 1504.8,1195.2 1506.0,1197.1 1507.8,1198.8 1509.7,1199.7 1513.3,1200.5 1518.7,1200.6 1526.0,1199.5 1533.3,1197.5 1542.4,1194.1 1549.7,1190.3 1553.3,1187.3 1555.1,1184.0 1557.4,1177.0 1557.7,1173.4 1556.9,1162.8 1553.9,1153.4 1552.7,1151.6 1544.2,1143.3 1538.8,1141.2 1531.5,1140.6M1527.0,1348.0 1520.6,1340.8 1515.1,1332.9 1510.5,1324.3 1506.2,1313.4 1504.1,1306.1 1502.3,1297.0 1499.1,1269.8 1496.8,1262.5 1489.9,1247.9 1487.3,1240.7 1485.9,1233.4 1485.8,1222.5 1484.2,1215.3 1481.6,1207.9 1480.6,1205.8 1478.7,1203.6 1466.1,1195.2 1458.7,1189.5M1676.9,984.2 1688.6,1022.4 1688.5,1026.1 1684.9,1037.0 1683.7,1038.8 1680.6,1040.6 1671.5,1041.3 1666.1,1042.5 1657.0,1044.9 1649.7,1048.0 1646.1,1050.5 1642.4,1054.6 1640.4,1058.8 1638.8,1064.3 1638.8,1070.4 1640.6,1078.3 1651.0,1098.8 1653.8,1107.9 1654.9,1115.2 1655.0,1120.6 1654.4,1126.1 1653.1,1131.5 1651.5,1135.2 1649.7,1137.8 1647.9,1139.7 1644.2,1142.2 1639.6,1144.3 1620.6,1150.7 1615.1,1153.6 1611.5,1156.6 1607.9,1161.1 1605.7,1166.1 1605.5,1173.4 1606.5,1180.6 1607.9,1183.9 1609.6,1186.1 1613.3,1188.3 1618.8,1189.1 1626.1,1187.8 1631.5,1185.0 1637.0,1180.8 1651.5,1164.9 1655.1,1161.7 1658.8,1159.6 1662.4,1158.7 1666.1,1158.7 1669.7,1159.4 1673.3,1160.7 1678.8,1163.5 1691.5,1172.1 1700.6,1177.1 1707.9,1179.9 1726.1,1185.5 1729.7,1187.1 1733.4,1189.4 1737.2,1193.4 1740.6,1199.7 1741.3,1204.3 1740.6,1211.1 1738.6,1217.0 1733.4,1225.7 1724.3,1236.9 1720.6,1240.4 1718.8,1241.5 1715.2,1242.3 1711.5,1241.7 1709.7,1240.5 1704.1,1233.4 1702.1,1231.6 1697.0,1228.6 1693.3,1227.3 1689.7,1227.2 1685.4,1227.9 1681.1,1229.8 1678.8,1231.6 1674.6,1237.0 1673.3,1240.7 1673.0,1244.3 1673.9,1247.9 1675.7,1251.6 1683.3,1260.7 1685.6,1264.3 1686.2,1266.1 1686.4,1269.8 1685.3,1273.4 1684.2,1275.3 1680.6,1278.9 1677.0,1280.3 1673.3,1280.7 1669.7,1280.0 1664.5,1277.0 1660.6,1274.0 1655.1,1266.6 1651.5,1263.0 1649.7,1262.1 1646.1,1261.5 1642.0,1262.5 1639.6,1264.3 1637.0,1267.2 1633.4,1273.4 1631.5,1279.5 1628.5,1293.4 1626.1,1300.1 1623.0,1306.1 1618.8,1312.4 1615.1,1316.5 1611.5,1319.5 1606.0,1323.0 1600.6,1325.8 1595.1,1327.7 1589.7,1328.7 1584.2,1329.0 1578.8,1328.5 1573.3,1327.3 1567.9,1325.4 1562.0,1322.5 1556.9,1319.2 1551.5,1314.6 1546.8,1309.8 1542.4,1304.3 1536.9,1296.1 1533.5,1289.8 1528.7,1277.0 1526.2,1266.1 1525.3,1251.6 1527.5,1237.0 1531.2,1224.3 1535.0,1215.2 1538.6,1209.7 1553.3,1198.3 1558.9,1191.6 1560.6,1187.9 1561.9,1177.0 1560.9,1164.3 1558.7,1153.4 1556.9,1150.0 1549.7,1141.3 1544.2,1136.5 1538.8,1132.7 1529.7,1128.1 1524.2,1126.0 1518.7,1124.8 1513.3,1124.2 1500.6,1124.2 1493.3,1122.9 1482.4,1118.8 1458.7,1107.1M1567.9,1085.4 1566.0,1086.3 1564.7,1087.9 1564.2,1089.7 1565.1,1093.4 1568.5,1098.8 1571.5,1101.4 1575.1,1102.5 1578.8,1102.2 1580.6,1101.0 1581.9,1098.8 1582.0,1095.2 1578.8,1088.9 1576.9,1087.0 1573.3,1085.3 1569.7,1085.0 1567.9,1085.4M1608.2,984.2 1607.7,997.0 1608.0,1002.4 1614.2,1026.1 1619.1,1042.4 1621.0,1051.5 1622.1,1060.6 1621.4,1066.1 1618.8,1074.0 1617.0,1076.7 1613.3,1079.3 1609.7,1079.8 1606.0,1079.1 1591.5,1072.4 1580.6,1068.3 1571.5,1066.5 1566.0,1066.4 1560.6,1067.7 1556.4,1069.7 1536.9,1082.9 1531.5,1085.9 1526.0,1087.5 1518.7,1087.3 1513.3,1085.7 1509.7,1083.9 1506.0,1081.2 1498.7,1074.3 1495.1,1071.8 1458.7,1050.9M1577.1,1138.8 1580.6,1137.9 1586.0,1137.7 1589.7,1138.3 1593.3,1139.7 1595.1,1141.2 1597.0,1143.7 1597.9,1146.1 1598.6,1149.7 1598.6,1155.2 1597.6,1166.1 1596.8,1171.6 1594.9,1177.0 1592.7,1180.6 1589.4,1184.3 1586.0,1186.3 1580.6,1187.5 1576.9,1187.3 1575.1,1186.6 1569.7,1182.6 1568.1,1180.6 1566.1,1175.2 1564.6,1166.1 1564.2,1155.2 1565.3,1144.3 1566.2,1142.5 1567.9,1141.1 1577.1,1138.8M1664.7,1189.7 1669.7,1189.0 1673.3,1189.7 1677.0,1191.9 1679.3,1195.2 1679.8,1198.8 1679.3,1200.7 1677.3,1204.3 1673.3,1207.6 1669.7,1209.1 1666.1,1209.4 1662.4,1208.5 1659.1,1206.1 1657.0,1202.5 1656.7,1198.8 1658.1,1195.2 1661.4,1191.6 1664.7,1189.7M1603.7,1220.7 1609.7,1220.0 1615.1,1220.3 1618.8,1220.9 1623.0,1222.5 1626.1,1225.1 1627.4,1227.9 1627.8,1231.6 1627.2,1235.2 1625.7,1238.8 1622.4,1243.8 1618.8,1247.6 1615.1,1250.2 1609.7,1253.0 1604.2,1254.9 1600.6,1255.5 1595.1,1255.0 1589.7,1252.5 1585.5,1247.9 1583.5,1242.5 1583.5,1237.0 1585.6,1231.6 1587.9,1228.6 1590.5,1226.1 1596.9,1222.5 1603.7,1220.7M1606.5,1286.1 1607.9,1285.5 1609.7,1285.4 1613.3,1287.0 1614.2,1288.0 1615.0,1289.8 1615.1,1291.6 1614.6,1293.4 1613.2,1295.2 1609.7,1296.7 1607.9,1296.7 1606.0,1295.8 1604.2,1293.7 1603.4,1291.6 1603.6,1289.8 1604.6,1288.0 1606.5,1286.1M1520.0,1004.2 1522.4,1003.3 1524.2,1003.4 1526.0,1004.0 1529.7,1006.3 1533.3,1010.2 1535.1,1012.9 1537.7,1018.8 1538.8,1024.2 1538.3,1031.5 1536.9,1036.0 1535.1,1039.4 1533.3,1041.6 1531.5,1042.9 1529.7,1043.0 1528.3,1042.4 1526.0,1040.3 1522.4,1034.5 1518.7,1025.6 1516.9,1017.2 1516.8,1011.5 1517.5,1007.9 1518.7,1005.4 1520.0,1004.2M1576.3,1151.6 1578.8,1150.8 1580.6,1151.0 1584.2,1152.9 1587.3,1157.0 1588.8,1162.5 1588.6,1167.9 1587.5,1171.6 1584.7,1175.2 1580.6,1177.3 1576.9,1177.2 1573.3,1175.5 1571.5,1173.4 1570.0,1167.9 1569.7,1163.9 1571.4,1157.0 1573.3,1153.9 1576.3,1151.6" fill="none" stroke="#000" stroke-width="1.7" stroke-linejoin="round"/>
</g>
<circle cx="1640.6" cy="1166.1" r="168.4" fill="none" stroke="#444" stroke-width="1.3"/>
<path d="M1613.6,1038.6h3M1615.1,1037.1v3M1663.6,1038.6h3M1665.1,1037.1v3M1589.1,1046.5h3M1590.6,1045.0v3M1688.4,1046.5h3M1689.9,1045.0v3M1535.7,1055.1h3M1537.2,1053.6v3M1742.1,1055.1h3M1743.6,1053.6v3M1608.0,1063.6h3M1609.5,1062.1v3M1669.3,1063.6h3M1670.8,1062.1v3M1638.6,1069.8h3M1640.1,1068.3v3M1546.7,1075.2h3M1548.2,1073.7v3M1730.5,1075.2h3M1732.0,1073.7v3M1566.3,1087.7h3M1567.8,1086.2v3M1711.4,1087.7h3M1712.9,1086.2v3M1589.1,1096.0h3M1590.6,1094.5v3M1688.4,1096.0h3M1689.9,1094.5v3M1613.6,1099.9h3M1615.1,1098.4v3M1663.1,1099.9h3M1664.6,1098.4v3M1636.2,1102.1h3M1637.7,1100.6v3M1518.5,1117.1h3M1520.0,1115.6v3M1758.7,1117.1h3M1760.2,1115.6v3M1546.7,1125.7h3M1548.2,1124.2v3M1730.5,1125.7h3M1732.0,1124.2v3M1577.3,1131.0h3M1578.8,1129.5v3M1699.9,1131.0h3M1701.4,1129.5v3M1608.0,1133.0h3M1609.5,1131.5v3M1669.3,1133.0h3M1670.8,1131.5v3M1508.7,1167.1h3M1510.2,1165.6v3M1541.8,1167.1h3M1543.3,1165.6v3M1573.2,1167.1h3M1574.7,1165.6v3M1606.0,1167.1h3M1607.5,1165.6v3M1638.6,1167.1h3M1640.1,1165.6v3M1671.7,1167.1h3M1673.2,1165.6v3M1704.1,1167.1h3M1705.6,1165.6v3M1735.4,1167.1h3M1736.9,1165.6v3M1768.5,1167.1h3M1770.0,1165.6v3M1608.0,1200.4h3M1609.5,1198.9v3M1669.3,1200.4h3M1670.8,1198.9v3M1638.6,1199.7h3M1640.1,1198.2v3M1577.3,1202.1h3M1578.8,1200.6v3M1699.9,1202.1h3M1701.4,1200.6v3M1547.4,1208.3h3M1548.9,1206.8v3M1730.5,1208.3h3M1732.0,1206.8v3M1518.5,1216.1h3M1520.0,1214.6v3M1758.7,1216.1h3M1760.2,1214.6v3M1638.6,1231.5h3M1640.1,1230.0v3M1663.6,1233.3h3M1665.1,1231.8v3M1688.4,1237.2h3M1689.9,1235.7v3M1566.3,1245.8h3M1567.8,1244.3v3M1711.4,1245.8h3M1712.9,1244.3v3M1546.7,1258.0h3M1548.2,1256.5v3M1730.5,1258.0h3M1732.0,1256.5v3M1638.6,1263.4h3M1640.1,1261.9v3M1608.0,1270.3h3M1609.5,1268.8v3M1669.3,1270.3h3M1670.8,1268.8v3M1535.7,1278.6h3M1537.2,1277.1v3M1742.1,1278.6h3M1743.6,1277.1v3M1589.1,1286.7h3M1590.6,1285.2v3M1688.4,1286.7h3M1689.9,1285.2v3M1613.6,1295.3h3M1615.1,1293.8v3M1638.6,1296.0h3M1640.1,1294.5v3M1663.1,1294.5h3M1664.6,1293.0v3M1638.6,1328.4h3M1640.1,1326.9v3" stroke="#000" stroke-width="1.6" stroke-linecap="round" fill="none"/>
<path d="M1585.7,1236.9h10M1590.7,1231.9v10M1610.9,1232.7h10M1615.9,1227.7v10" stroke="#f01428" stroke-width="2.6" fill="none"/>
</g>
<g id="map4">
<clipPath id="cp3"><circle cx="749.1" cy="1578.7" r="171.6"/></clipPath>
<path d="M736.6,1407.7L748.6,1389.5L760.6,1407.7" fill="#fff" stroke="#333" stroke-width="1.2"/>
<g clip-path="url(#cp3)"><g filter="url(#bl)">
<circle cx="749.1" cy="1578.7" r="174.2" fill="#3e26a8"/>
<path fill="#4536d5" fill-rule="evenodd" d="M930,1458 935,1457 935,1765 670,1765 656,1735 644,1714 641,1711 632,1704 623,1692 619,1689 615,1688 597,1687 584,1684 572,1679 563,1673 563,1625 569,1621 576,1619 606,1614 615,1614 623,1615 630,1617 641,1622 645,1623 649,1622 651,1621 653,1620 654,1616 654,1610 646,1573 644,1560 643,1545 644,1538 646,1530 650,1525 656,1520 675,1511 680,1508 690,1501 701,1495 706,1494 729,1491 737,1488 745,1482 755,1472 762,1466 768,1463 775,1461 784,1460 809,1461 846,1461 857,1462 876,1465 881,1465 900,1463Z"/>
<path fill="#4744e9" fill-rule="evenodd" d="M931,1462 935,1461 935,1765 677,1765 670,1752 661,1733 649,1712 645,1707 639,1701 627,1690 621,1686 615,1684 597,1681 587,1677 580,1674 570,1666 567,1662 563,1657 563,1636 567,1631 571,1627 576,1624 582,1622 600,1617 606,1616 615,1616 621,1617 628,1619 641,1625 647,1627 651,1627 654,1625 656,1622 657,1620 657,1614 656,1607 650,1581 647,1562 646,1545 646,1540 648,1534 650,1528 654,1525 660,1521 671,1516 678,1512 693,1501 704,1497 729,1493 736,1491 742,1488 745,1485 757,1474 764,1468 770,1465 777,1463 786,1463 810,1464 848,1464 883,1468 902,1466Z"/>
<path fill="#4853f5" fill-rule="evenodd" d="M779,1465 790,1465 812,1466 846,1466 855,1467 879,1470 887,1470 907,1469 935,1465 935,1765 685,1765 675,1748 665,1729 658,1719 649,1703 643,1697 634,1689 623,1682 604,1677 597,1674 589,1668 582,1662 577,1657 574,1652 572,1648 572,1642 573,1636 575,1633 578,1629 583,1625 595,1620 606,1619 619,1619 630,1623 643,1630 649,1632 652,1631 654,1630 658,1626 660,1620 660,1614 652,1581 648,1555 648,1543 649,1538 651,1532 654,1528 660,1524 678,1515 693,1504 701,1500 708,1498 732,1495 740,1493 745,1489 757,1476 764,1470 771,1467Z"/>
<path fill="#4562fc" fill-rule="evenodd" d="M773,1469 779,1468 786,1468 812,1468 844,1468 854,1469 881,1472 890,1473 911,1471 935,1469 935,1765 694,1765 677,1741 669,1727 661,1716 654,1701 650,1696 641,1688 634,1682 624,1677 612,1672 606,1668 603,1664 597,1653 593,1649 587,1644 585,1642 584,1638 584,1634 585,1631 587,1629 592,1625 596,1623 606,1622 617,1622 627,1625 631,1627 643,1636 647,1637 651,1637 652,1637 656,1634 659,1631 661,1627 662,1623 662,1618 662,1612 655,1584 652,1566 651,1555 651,1543 652,1537 655,1532 660,1528 673,1522 680,1518 693,1507 703,1503 714,1500 734,1499 742,1496 747,1491 758,1479 764,1474 768,1471Z"/>
<path fill="#3c72ff" fill-rule="evenodd" d="M778,1471 788,1470 812,1471 844,1471 855,1472 881,1475 890,1476 911,1475 935,1473 935,1765 702,1765 682,1740 677,1733 666,1714 660,1701 658,1698 642,1681 638,1675 636,1672 637,1668 642,1651 645,1648 654,1641 658,1637 662,1631 664,1625 664,1616 659,1597 656,1584 654,1568 654,1556 655,1545 656,1540 658,1536 662,1532 675,1527 680,1524 686,1520 695,1511 703,1506 708,1505 714,1504 734,1503 738,1502 742,1501 747,1496 759,1482 764,1477 770,1473ZM604,1627 608,1626 613,1627 617,1627 622,1629 625,1631 628,1634 629,1638 628,1640 626,1642 621,1644 615,1644 610,1642 602,1636 599,1633 598,1631 600,1629Z"/>
<path fill="#2f82fa" fill-rule="evenodd" d="M830,1473 850,1473 879,1478 889,1479 913,1478 935,1476 935,1765 712,1765 699,1750 686,1736 680,1729 670,1713 664,1698 648,1681 645,1675 643,1672 643,1668 644,1664 646,1657 650,1651 656,1645 662,1638 665,1631 667,1625 667,1620 666,1614 660,1595 657,1579 657,1568 657,1560 658,1552 660,1546 662,1542 665,1538 669,1537 678,1534 685,1530 689,1527 698,1515 701,1513 704,1511 710,1509 716,1508 736,1508 740,1507 744,1505 749,1500 762,1483 768,1478 771,1476 777,1474 784,1473Z"/>
<path fill="#2c90f0" fill-rule="evenodd" d="M786,1476 840,1475 853,1476 877,1481 887,1482 913,1482 935,1480 935,1765 721,1765 704,1744 690,1732 684,1726 675,1711 667,1696 655,1683 650,1675 649,1672 648,1668 649,1661 652,1655 660,1646 664,1640 667,1633 669,1627 669,1621 668,1616 662,1597 659,1581 659,1569 659,1562 661,1556 664,1550 665,1548 669,1545 686,1540 693,1536 697,1532 704,1521 706,1518 710,1516 719,1514 736,1513 740,1512 744,1510 749,1505 761,1489 768,1482 775,1478 781,1477Z"/>
<path fill="#259de7" fill-rule="evenodd" d="M820,1478 837,1478 846,1478 859,1480 877,1485 885,1486 913,1486 935,1484 935,1765 911,1755 902,1753 894,1752 887,1753 881,1755 876,1758 866,1765 732,1765 723,1755 714,1742 711,1739 706,1735 693,1726 686,1718 678,1708 670,1694 658,1679 653,1672 652,1666 654,1661 656,1657 662,1649 666,1642 669,1634 671,1629 671,1623 670,1616 663,1595 661,1581 660,1569 661,1564 663,1558 665,1554 671,1550 691,1543 699,1540 703,1537 710,1527 714,1524 717,1522 725,1519 738,1516 744,1514 750,1508 764,1490 768,1486 773,1483 779,1481 786,1480Z"/>
<path fill="#1da9e0" fill-rule="evenodd" d="M804,1482 835,1480 840,1481 853,1483 874,1488 883,1489 913,1489 935,1489 935,1749 916,1741 903,1736 892,1733 885,1733 879,1734 874,1738 854,1757 845,1765 744,1765 736,1758 729,1752 725,1746 719,1736 714,1730 710,1727 695,1716 684,1706 674,1692 663,1679 658,1672 657,1666 658,1662 660,1657 665,1649 670,1640 672,1634 673,1629 673,1623 671,1616 665,1595 662,1582 662,1568 664,1562 666,1558 669,1554 673,1552 691,1547 701,1543 706,1540 716,1531 722,1527 727,1524 738,1520 744,1517 751,1511 764,1494 768,1490 771,1488 777,1485 783,1484 792,1483Z"/>
<path fill="#0cb3d3" fill-rule="evenodd" d="M831,1484 838,1484 848,1485 857,1488 872,1492 881,1494 911,1494 935,1493 935,1735 913,1726 898,1720 885,1717 879,1716 876,1717 872,1718 868,1721 852,1742 844,1752 835,1759 826,1765 758,1765 747,1758 738,1750 732,1743 721,1726 714,1718 706,1712 691,1703 684,1697 671,1682 665,1672 663,1666 663,1662 666,1657 674,1640 676,1634 676,1631 675,1623 673,1614 669,1607 666,1595 664,1584 663,1581 663,1573 665,1566 667,1560 669,1557 673,1555 677,1553 699,1548 704,1545 710,1542 725,1530 744,1519 753,1511 762,1499 766,1495 773,1490 781,1488 788,1486Z"/>
<path fill="#03bbc2" fill-rule="evenodd" d="M791,1489 812,1489 831,1488 838,1488 850,1490 870,1497 881,1499 905,1498 935,1497 935,1724 915,1715 900,1711 876,1705 872,1705 868,1705 865,1707 861,1711 848,1731 842,1739 836,1746 829,1752 820,1757 810,1761 799,1764 788,1765 777,1763 768,1761 758,1756 748,1750 742,1744 736,1737 721,1711 716,1703 710,1700 695,1694 690,1691 680,1683 674,1675 670,1668 670,1662 672,1655 679,1638 680,1634 680,1631 678,1625 674,1612 671,1607 667,1595 664,1581 665,1571 666,1566 669,1560 673,1557 678,1555 703,1550 710,1546 716,1543 729,1532 742,1524 747,1519 755,1512 764,1500 770,1496 773,1494 779,1491Z"/>
<path fill="#22c1b0" fill-rule="evenodd" d="M788,1493 797,1493 810,1493 829,1492 837,1493 846,1495 864,1503 874,1505 890,1504 935,1501 935,1713 913,1706 897,1701 872,1699 866,1699 863,1699 858,1701 854,1705 851,1709 843,1724 838,1731 831,1739 822,1746 812,1751 801,1755 788,1756 777,1756 768,1753 757,1747 749,1742 744,1737 740,1731 735,1722 725,1696 722,1692 719,1689 714,1686 699,1684 691,1681 686,1677 681,1672 678,1666 677,1662 677,1659 679,1651 684,1640 684,1636 684,1633 683,1627 678,1619 672,1607 668,1594 666,1581 667,1569 669,1564 672,1560 677,1557 682,1556 704,1552 712,1550 716,1548 751,1519 757,1512 763,1504 768,1500 771,1498 777,1495Z"/>
<path fill="#34c79c" fill-rule="evenodd" d="M785,1497 796,1497 810,1498 825,1497 835,1499 844,1502 861,1512 868,1514 876,1513 916,1507 935,1506 935,1704 913,1697 898,1694 889,1693 868,1692 863,1693 859,1694 853,1696 848,1701 844,1705 838,1718 833,1726 826,1733 819,1739 810,1743 799,1747 786,1748 775,1748 768,1746 758,1742 754,1739 749,1733 744,1726 739,1716 731,1690 727,1683 723,1679 719,1676 716,1674 697,1671 693,1670 689,1666 686,1661 686,1655 686,1651 690,1640 690,1636 690,1633 688,1627 680,1618 674,1607 669,1594 667,1581 668,1571 670,1566 672,1562 675,1560 680,1558 695,1556 708,1556 712,1555 716,1554 719,1551 733,1538 753,1520 766,1504 770,1502 775,1499Z"/>
<path fill="#4bcb84" fill-rule="evenodd" d="M783,1501 797,1500 823,1502 831,1504 837,1506 842,1509 853,1520 857,1523 861,1525 864,1525 874,1524 894,1517 911,1513 922,1511 935,1510 935,1696 913,1690 898,1687 889,1686 868,1686 859,1687 850,1690 844,1695 839,1701 832,1714 827,1722 820,1729 810,1735 803,1737 796,1739 784,1740 773,1740 766,1739 761,1737 758,1735 755,1731 749,1722 744,1713 741,1703 734,1683 731,1675 727,1670 723,1666 719,1663 716,1662 703,1660 699,1657 697,1655 697,1651 698,1640 698,1634 696,1631 694,1627 683,1616 676,1605 671,1593 669,1585 668,1581 669,1573 670,1569 671,1566 675,1562 680,1559 691,1559 699,1559 706,1562 709,1566 712,1573 714,1574 716,1575 717,1574 719,1571 722,1560 724,1555 728,1549 733,1542 754,1521 768,1506 775,1502Z"/>
<path fill="#6dcd67" fill-rule="evenodd" d="M783,1504 792,1504 803,1505 820,1507 829,1509 835,1512 840,1517 848,1530 850,1533 853,1535 857,1536 863,1536 870,1534 894,1524 911,1518 922,1516 935,1515 935,1688 911,1682 896,1680 868,1680 857,1681 848,1685 840,1690 835,1696 827,1710 823,1716 818,1722 810,1727 805,1729 797,1730 771,1730 765,1729 760,1726 751,1712 746,1703 736,1672 726,1649 721,1636 718,1633 716,1631 703,1625 691,1617 686,1612 680,1606 678,1603 672,1590 670,1582 670,1575 671,1571 672,1568 675,1564 677,1563 682,1561 691,1561 699,1563 703,1565 706,1569 709,1577 714,1581 717,1583 719,1583 721,1582 723,1580 725,1576 727,1562 729,1555 732,1549 736,1543 769,1510 771,1508 775,1506Z"/>
<path fill="#94ca4a" fill-rule="evenodd" d="M783,1508 796,1508 807,1509 818,1511 825,1514 831,1517 835,1521 837,1525 840,1534 844,1540 848,1543 853,1545 859,1545 868,1542 894,1530 913,1522 922,1521 935,1520 935,1681 909,1675 894,1673 863,1674 855,1675 850,1677 840,1681 835,1686 830,1692 822,1707 816,1714 809,1720 801,1722 790,1722 775,1719 764,1715 757,1708 752,1701 748,1694 731,1636 726,1627 723,1619 721,1615 719,1613 717,1613 708,1615 704,1615 701,1614 693,1611 682,1602 680,1600 675,1592 673,1588 672,1581 672,1573 673,1569 675,1567 677,1565 680,1563 684,1562 688,1562 693,1564 697,1565 700,1568 702,1569 706,1578 717,1596 719,1598 721,1598 723,1597 727,1589 729,1581 731,1566 732,1558 735,1551 738,1545 743,1540 770,1514 775,1510Z"/>
<path fill="#b8c431" fill-rule="evenodd" d="M786,1512 797,1512 808,1514 816,1516 823,1519 828,1523 831,1527 837,1540 841,1547 846,1551 851,1552 855,1552 861,1550 892,1535 911,1528 922,1525 935,1525 935,1674 907,1669 894,1667 861,1668 853,1669 846,1670 838,1673 835,1676 832,1679 826,1687 818,1701 812,1709 807,1713 799,1715 790,1716 784,1715 779,1713 768,1707 762,1703 759,1700 755,1694 752,1687 743,1662 738,1640 730,1625 730,1618 732,1603 732,1582 734,1569 735,1560 738,1553 741,1547 745,1542 762,1525 771,1517 775,1514 779,1513ZM679,1566 684,1564 691,1565 697,1568 701,1572 706,1582 708,1590 707,1595 706,1599 704,1602 703,1603 699,1604 695,1604 686,1600 682,1598 675,1590 674,1584 673,1575 675,1569Z"/>
<path fill="#d7be28" fill-rule="evenodd" d="M778,1517 786,1516 797,1516 809,1518 818,1522 823,1526 827,1530 836,1549 839,1555 844,1558 850,1560 853,1560 857,1558 887,1542 903,1535 918,1531 926,1530 935,1530 935,1667 907,1663 894,1661 861,1661 844,1663 838,1664 835,1666 829,1670 825,1676 817,1692 813,1698 808,1703 805,1706 801,1708 797,1709 792,1710 788,1709 784,1709 781,1707 775,1703 766,1696 762,1692 758,1686 753,1676 749,1668 747,1661 743,1638 741,1634 735,1627 734,1625 734,1621 738,1612 739,1607 736,1586 736,1575 737,1568 739,1560 742,1553 745,1547 752,1540 765,1527 771,1521ZM680,1568 682,1567 686,1566 691,1568 695,1569 697,1571 700,1575 703,1582 703,1588 701,1594 700,1595 698,1597 695,1598 691,1599 686,1597 682,1595 677,1588 675,1582 675,1575 677,1571Z"/>
<path fill="#f1ba37" fill-rule="evenodd" d="M779,1521 788,1519 799,1520 810,1523 818,1528 822,1532 826,1538 837,1565 842,1571 844,1573 846,1573 850,1573 853,1570 867,1558 872,1555 883,1548 894,1543 903,1539 915,1537 924,1535 935,1535 935,1661 905,1657 881,1655 855,1654 838,1655 831,1658 825,1662 821,1668 814,1684 810,1691 805,1697 799,1700 792,1702 786,1701 781,1697 768,1686 762,1680 757,1673 753,1666 751,1660 749,1651 749,1633 747,1623 748,1616 747,1612 746,1607 741,1594 739,1586 739,1581 739,1573 740,1568 742,1560 745,1554 750,1547 760,1536 768,1528 773,1524ZM682,1569 686,1569 691,1570 695,1573 698,1577 700,1582 700,1586 699,1588 697,1591 693,1594 691,1595 688,1595 684,1594 680,1590 677,1586 677,1581 677,1575 679,1571Z"/>
<path fill="#fec239" fill-rule="evenodd" d="M780,1525 788,1523 794,1523 799,1524 809,1527 812,1529 816,1532 821,1538 824,1545 826,1553 829,1569 833,1580 836,1584 838,1586 840,1587 844,1588 848,1588 853,1585 857,1581 866,1568 870,1562 877,1556 890,1549 902,1544 909,1542 924,1541 935,1540 935,1654 859,1647 842,1647 833,1649 826,1651 821,1655 816,1663 810,1677 806,1685 801,1689 796,1691 792,1691 788,1690 779,1684 766,1676 762,1672 758,1667 756,1662 754,1657 754,1649 757,1627 756,1616 753,1607 746,1594 743,1586 742,1581 742,1571 744,1566 747,1558 751,1553 757,1545 770,1531 775,1527ZM682,1573 686,1572 690,1572 693,1574 695,1577 697,1581 697,1584 695,1588 691,1591 690,1592 686,1592 682,1590 679,1586 678,1582 679,1579 680,1575Z"/>
<path fill="#fbd22f" fill-rule="evenodd" d="M782,1528 790,1527 799,1528 805,1529 809,1531 814,1536 818,1542 821,1549 822,1556 823,1577 825,1584 828,1588 833,1592 838,1596 844,1597 848,1597 851,1596 857,1592 863,1585 870,1571 874,1566 880,1560 889,1555 900,1550 909,1547 922,1546 935,1546 935,1648 920,1647 896,1646 855,1639 848,1639 838,1640 833,1641 827,1643 823,1645 820,1648 814,1655 803,1675 801,1677 797,1680 792,1680 784,1679 775,1675 768,1670 764,1666 761,1662 759,1659 758,1653 758,1646 760,1627 761,1616 760,1610 757,1603 750,1592 747,1586 746,1581 745,1573 747,1568 749,1562 753,1556 760,1547 771,1535 777,1531ZM685,1575 688,1575 690,1575 692,1577 694,1581 693,1584 692,1586 690,1588 688,1589 686,1589 684,1588 682,1586 681,1584 681,1582 681,1579 682,1577Z"/>
<path fill="#f5e327" fill-rule="evenodd" d="M783,1532 790,1531 796,1531 799,1531 807,1534 812,1540 815,1543 816,1547 817,1555 817,1564 815,1582 814,1586 815,1590 818,1593 825,1597 835,1604 838,1606 844,1608 848,1608 851,1607 855,1605 859,1601 864,1594 875,1575 879,1569 884,1564 890,1559 900,1555 909,1552 922,1551 935,1552 935,1641 916,1642 896,1640 881,1637 857,1630 851,1629 846,1629 831,1633 825,1636 822,1638 814,1646 801,1666 796,1671 790,1672 784,1672 777,1670 771,1666 766,1660 764,1657 763,1651 762,1642 764,1614 764,1607 761,1601 754,1590 751,1584 750,1579 750,1573 751,1569 753,1564 757,1558 764,1549 774,1538 779,1534ZM686,1579 688,1579 690,1581 690,1583 688,1585 686,1585 684,1582 684,1581Z"/>
<path fill="#f7f31d" fill-rule="evenodd" d="M785,1536 790,1534 794,1534 801,1536 805,1538 807,1540 811,1545 812,1549 813,1555 812,1561 810,1568 808,1575 805,1580 794,1594 793,1597 793,1601 795,1605 799,1608 805,1610 816,1613 819,1614 820,1616 822,1620 821,1623 819,1627 801,1657 797,1661 794,1664 790,1666 786,1666 781,1665 775,1662 771,1659 768,1653 766,1646 766,1631 767,1623 769,1610 769,1605 767,1599 757,1584 755,1579 755,1575 755,1571 757,1567 760,1562 764,1556 775,1543 781,1538ZM909,1558 915,1558 922,1557 935,1559 935,1634 924,1635 913,1636 902,1636 892,1634 883,1631 875,1627 870,1623 866,1618 865,1612 867,1605 876,1586 882,1575 887,1569 894,1564 902,1560Z"/>
<path fill="#f9fb15" fill-rule="evenodd" d="M788,1540 792,1538 796,1538 799,1539 803,1541 805,1543 807,1547 808,1551 808,1556 805,1565 797,1576 783,1594 779,1596 777,1596 771,1593 768,1590 765,1586 762,1581 761,1577 761,1573 762,1569 764,1565 775,1551 782,1543ZM906,1566 913,1564 920,1564 928,1565 935,1567 935,1626 926,1628 916,1630 907,1630 900,1629 892,1628 887,1625 881,1621 878,1616 876,1610 876,1603 879,1595 883,1586 887,1579 892,1573 898,1569ZM778,1608 779,1607 781,1607 783,1607 788,1610 802,1620 805,1623 807,1627 807,1631 806,1636 801,1648 796,1655 792,1658 788,1659 783,1659 777,1656 773,1652 771,1646 769,1633 770,1624 771,1620 773,1614Z"/>
</g>
<path d="M690.1,1764.7 676.6,1745.1 667.0,1727.5 660.3,1718.2 651.2,1701.4 646.9,1695.9 637.5,1687.4 624.5,1679.9 605.9,1673.5 602.7,1671.7 596.7,1666.1 583.6,1651.0 580.1,1645.7 578.9,1641.9 578.7,1638.2 579.6,1634.5 581.5,1630.8 583.1,1628.9 585.3,1627.1 592.0,1623.3 597.3,1621.5 607.8,1620.2 617.1,1620.7 620.8,1621.4 630.1,1624.8 645.0,1634.0 648.7,1635.0 652.4,1634.3 654.3,1633.3 658.6,1628.9 659.8,1627.0 661.0,1623.3 661.4,1615.9 653.1,1580.6 650.0,1554.5 650.1,1543.4 650.5,1539.9 652.1,1534.1 654.3,1530.5 659.8,1526.6 678.4,1517.7 685.9,1512.3 692.9,1506.2 700.7,1502.2 704.5,1500.8 710.0,1499.8 732.4,1497.4 736.1,1496.5 739.8,1494.8 745.4,1491.1 757.4,1478.3 764.0,1472.3 769.6,1469.2 776.6,1467.1 788.2,1466.5 810.5,1467.4 845.8,1467.3 855.1,1468.1 881.1,1471.4 888.6,1471.6 909.0,1470.3 935.1,1467.0M935.1,1755.1 918.3,1747.6 905.3,1742.9 894.2,1740.5 886.7,1740.6 881.1,1742.1 875.6,1745.1 870.0,1749.4 852.5,1764.7M738.8,1764.7 730.5,1757.3 725.4,1751.7 717.5,1738.7 713.8,1734.4 708.2,1729.7 695.2,1720.9 684.0,1710.1 680.3,1705.4 671.7,1692.1 659.6,1677.3 657.2,1673.5 655.6,1669.8 655.1,1666.1 656.6,1660.5 658.4,1656.8 663.6,1649.5 668.0,1641.9 671.2,1634.5 672.4,1628.9 672.2,1623.3 670.8,1615.9 664.5,1597.3 661.5,1582.4 661.7,1567.5 662.9,1562.0 665.4,1556.8 669.1,1553.1 672.8,1550.9 691.4,1545.6 700.7,1542.0 703.9,1539.6 713.8,1529.4 719.3,1525.5 726.8,1521.6 737.9,1518.3 743.5,1515.5 751.0,1509.6 762.1,1494.5 765.8,1490.5 771.4,1486.3 775.1,1484.5 780.7,1482.7 793.7,1481.1 836.5,1479.2 851.4,1480.8 860.7,1482.7 873.7,1486.4 883.0,1487.8 912.8,1487.9 935.1,1486.9M935.1,1707.9 912.8,1700.5 897.9,1697.0 888.6,1695.9 870.0,1694.9 862.5,1695.3 858.8,1696.3 855.1,1698.1 849.5,1702.6 846.5,1707.0 838.6,1721.9 833.5,1729.3 825.4,1737.7 816.1,1744.0 810.5,1746.6 803.0,1749.1 795.6,1750.7 788.2,1751.4 780.7,1751.3 775.1,1750.7 769.6,1749.3 764.0,1747.0 756.5,1743.2 752.7,1740.5 747.1,1734.9 743.1,1729.3 739.1,1721.9 735.9,1714.5 728.8,1692.1 726.7,1688.4 723.1,1683.8 719.3,1680.9 713.8,1678.6 698.9,1676.6 693.3,1674.8 688.4,1671.7 685.1,1668.0 682.7,1662.4 682.1,1658.7 682.2,1655.0 683.6,1649.4 687.4,1640.1 687.9,1636.4 687.6,1632.6 685.6,1627.1 679.2,1617.8 672.8,1605.6 668.8,1593.6 666.5,1580.6 667.0,1573.1 668.2,1567.5 669.9,1563.8 673.4,1560.1 676.6,1558.2 680.3,1557.1 704.5,1554.5 711.9,1552.8 715.6,1551.3 719.3,1548.7 730.6,1537.8 751.0,1520.3 765.8,1503.2 771.4,1499.5 778.9,1496.6 786.3,1495.4 793.7,1495.0 810.5,1495.9 825.4,1495.5 832.8,1495.9 838.4,1497.0 843.4,1498.7 858.8,1506.8 862.5,1508.3 870.0,1509.8 890.4,1508.2 920.2,1504.9 935.1,1504.0M679.1,1563.8 684.0,1562.6 691.4,1563.5 697.2,1565.7 701.3,1569.4 710.7,1586.1 716.1,1601.0 716.7,1604.7 716.2,1606.6 712.9,1610.3 710.0,1612.2 706.3,1613.2 702.6,1612.8 698.9,1611.7 691.4,1608.0 682.1,1601.2 680.3,1599.3 673.9,1589.9 672.7,1586.1 671.8,1578.7 672.1,1573.1 673.2,1569.4 676.3,1565.7 679.1,1563.8M935.1,1679.4 909.0,1673.8 894.2,1671.8 862.5,1673.0 851.4,1674.7 842.1,1678.3 838.4,1680.7 834.6,1684.1 829.1,1691.5 823.1,1703.3 819.8,1708.3 814.2,1714.4 808.6,1718.3 804.9,1719.9 801.2,1720.7 793.7,1721.1 786.3,1720.2 775.1,1717.5 765.8,1713.5 760.3,1709.6 754.7,1703.9 751.0,1697.6 748.1,1690.3 731.7,1636.4 726.3,1625.2 723.8,1614.0 723.2,1606.6 723.7,1602.9 726.8,1594.3 728.6,1586.9 731.2,1567.5 732.7,1560.1 734.3,1554.5 736.9,1548.9 742.0,1541.5 762.1,1521.3 771.4,1513.1 777.0,1510.1 784.4,1508.7 799.3,1509.1 814.2,1511.2 823.5,1514.0 829.0,1517.3 832.8,1521.0 835.2,1524.8 839.7,1535.9 843.9,1542.2 847.7,1545.1 853.2,1546.5 858.8,1545.9 866.3,1543.4 894.2,1530.7 912.8,1523.3 922.1,1521.6 935.1,1520.7M681.6,1573.1 684.0,1571.9 685.9,1571.6 689.6,1572.0 693.3,1574.2 695.4,1576.8 696.7,1580.6 696.7,1584.3 694.8,1588.0 691.4,1590.9 689.6,1591.8 685.9,1592.0 682.1,1589.8 679.2,1586.1 678.4,1582.4 678.7,1578.7 680.0,1575.0 681.6,1573.1M935.1,1654.2 858.8,1647.4 842.1,1647.4 832.8,1648.6 825.4,1651.7 821.6,1654.7 819.8,1657.1 815.4,1664.2 808.6,1680.5 804.5,1686.6 801.2,1689.0 795.6,1690.9 791.9,1690.8 788.2,1689.5 778.9,1684.3 765.8,1675.6 760.3,1669.8 756.5,1663.9 754.7,1658.4 753.6,1651.2 753.9,1645.7 756.8,1627.1 756.3,1615.9 755.4,1612.2 753.2,1606.6 747.0,1595.4 743.7,1588.0 742.1,1582.4 741.7,1576.8 742.4,1569.4 744.4,1563.8 749.1,1555.0 755.1,1547.1 764.9,1535.9 770.8,1530.3 777.0,1526.3 784.4,1523.6 788.2,1523.1 793.7,1523.2 803.0,1525.0 811.3,1528.5 817.9,1533.9 822.0,1539.6 825.0,1547.1 826.8,1554.5 829.1,1568.9 830.9,1575.6 832.8,1580.0 835.7,1584.3 837.8,1586.1 840.2,1587.3 843.9,1588.1 847.7,1587.9 851.4,1586.1 853.2,1584.7 857.1,1580.6 865.8,1567.5 870.3,1562.0 877.5,1556.4 890.4,1549.0 901.6,1544.3 909.0,1542.5 923.9,1540.5 935.1,1540.4" fill="none" stroke="#000" stroke-width="1.7" stroke-linejoin="round"/>
</g>
<circle cx="749.1" cy="1578.7" r="172.2" fill="none" stroke="#444" stroke-width="1.3"/>
<path d="M721.5,1448.4h3M723.0,1446.9v3M772.7,1448.4h3M774.2,1446.9v3M696.5,1456.4h3M698.0,1454.9v3M798.0,1456.4h3M799.5,1454.9v3M641.8,1465.2h3M643.3,1463.7v3M852.9,1465.2h3M854.4,1463.7v3M715.8,1473.9h3M717.3,1472.4v3M778.4,1473.9h3M779.9,1472.4v3M747.1,1480.2h3M748.6,1478.7v3M653.1,1485.7h3M654.6,1484.2v3M841.1,1485.7h3M842.6,1484.2v3M673.2,1498.5h3M674.7,1497.0v3M821.5,1498.5h3M823.0,1497.0v3M696.5,1507.0h3M698.0,1505.5v3M798.0,1507.0h3M799.5,1505.5v3M721.5,1511.0h3M723.0,1509.5v3M772.2,1511.0h3M773.7,1509.5v3M744.6,1513.3h3M746.1,1511.8v3M624.3,1528.6h3M625.8,1527.1v3M869.9,1528.6h3M871.4,1527.1v3M653.1,1537.3h3M654.6,1535.8v3M841.1,1537.3h3M842.6,1535.8v3M684.4,1542.9h3M685.9,1541.4v3M715.8,1544.9h3M717.3,1543.4v3M614.3,1579.7h3M615.8,1578.2v3M648.1,1579.7h3M649.6,1578.2v3M680.2,1579.7h3M681.7,1578.2v3M713.8,1579.7h3M715.3,1578.2v3M715.8,1613.8h3M717.3,1612.3v3M747.1,1613.0h3M748.6,1611.5v3M684.4,1615.5h3M685.9,1614.0v3M653.9,1621.8h3M655.4,1620.3v3M624.3,1629.8h3M625.8,1628.3v3M747.1,1645.6h3M748.6,1644.1v3M721.5,1647.4h3M723.0,1645.9v3M696.5,1651.4h3M698.0,1649.9v3M673.2,1660.2h3M674.7,1658.7v3M653.1,1672.7h3M654.6,1671.2v3M841.1,1672.7h3M842.6,1671.2v3M747.1,1678.2h3M748.6,1676.7v3M715.8,1685.2h3M717.3,1683.7v3M778.4,1685.2h3M779.9,1683.7v3M641.8,1693.8h3M643.3,1692.3v3M852.9,1693.8h3M854.4,1692.3v3M696.5,1702.0h3M698.0,1700.5v3M798.0,1702.0h3M799.5,1700.5v3M721.5,1710.8h3M723.0,1709.3v3M747.1,1711.5h3M748.6,1710.0v3M772.2,1710.0h3M773.7,1708.5v3M747.1,1744.6h3M748.6,1743.1v3" stroke="#000" stroke-width="1.6" stroke-linecap="round" fill="none"/>
<path d="M775.6,1543.9h10M780.6,1538.9v10M806.4,1542.6h10M811.4,1537.6v10M745.1,1578.4h10M750.1,1573.4v10M779.1,1579.2h10M784.1,1574.2v10M810.7,1579.2h10M815.7,1574.2v10M842.9,1579.2h10M847.9,1574.2v10M877.0,1579.2h10M882.0,1574.2v10M775.6,1614.0h10M780.6,1609.0v10M806.4,1615.8h10M811.4,1610.8v10M837.9,1621.6h10M842.9,1616.6v10M866.4,1628.9h10M871.4,1623.9v10M769.8,1647.3h10M774.8,1642.3v10M793.8,1651.6h10M798.8,1646.6v10M819.0,1660.4h10M824.0,1655.4v10" stroke="#f01428" stroke-width="2.6" fill="none"/>
</g>
<g id="map5">
<clipPath id="cp4"><circle cx="1369.9" cy="1578.9" r="175.1"/></clipPath>
<path d="M1357.4,1404.4L1369.4,1386.2L1381.4,1404.4" fill="#fff" stroke="#333" stroke-width="1.2"/>
<g clip-path="url(#cp4)"><g filter="url(#bl)">
<circle cx="1369.9" cy="1578.9" r="177.7" fill="#3e26a8"/>
<path fill="#4536d5" fill-rule="evenodd" d="M1180,1389 1305,1389 1307,1418 1309,1431 1317,1464 1319,1471 1323,1476 1327,1482 1333,1488 1338,1491 1343,1494 1349,1495 1353,1495 1368,1491 1372,1491 1374,1492 1376,1494 1378,1497 1380,1507 1382,1511 1387,1514 1391,1516 1395,1516 1400,1514 1421,1502 1434,1497 1442,1495 1489,1485 1508,1480 1535,1468 1560,1454 1560,1769 1180,1769ZM1262,1577 1260,1578 1259,1579 1260,1581 1262,1582 1264,1581 1264,1579 1264,1578Z"/>
<path fill="#4744e9" fill-rule="evenodd" d="M1180,1389 1298,1389 1305,1431 1313,1467 1315,1473 1321,1482 1326,1488 1334,1495 1340,1498 1345,1500 1353,1500 1357,1499 1366,1495 1370,1494 1372,1495 1374,1496 1375,1499 1376,1509 1379,1516 1383,1520 1387,1522 1393,1522 1398,1520 1421,1506 1429,1503 1434,1501 1441,1499 1488,1490 1507,1485 1535,1474 1560,1462 1560,1769 1180,1769ZM1260,1574 1258,1576 1257,1577 1257,1581 1258,1583 1260,1584 1262,1585 1264,1584 1266,1583 1267,1581 1267,1579 1267,1577 1266,1575 1264,1574 1262,1574Z"/>
<path fill="#4853f5" fill-rule="evenodd" d="M1180,1389 1291,1389 1298,1420 1304,1459 1307,1469 1309,1475 1317,1486 1321,1490 1332,1501 1336,1503 1341,1506 1347,1508 1355,1508 1360,1505 1366,1501 1368,1500 1370,1501 1370,1512 1372,1522 1376,1528 1377,1530 1381,1532 1387,1532 1395,1529 1402,1524 1419,1512 1425,1509 1431,1507 1438,1505 1453,1502 1467,1499 1488,1496 1497,1493 1537,1480 1560,1470 1560,1769 1180,1769ZM1260,1571 1256,1573 1254,1575 1254,1577 1254,1581 1255,1585 1258,1586 1260,1587 1264,1587 1267,1585 1269,1583 1270,1581 1270,1577 1267,1573 1266,1572 1262,1571Z"/>
<path fill="#4562fc" fill-rule="evenodd" d="M1180,1389 1284,1389 1292,1420 1294,1432 1295,1448 1293,1461 1294,1465 1306,1482 1313,1490 1323,1501 1329,1509 1330,1512 1331,1516 1331,1526 1332,1529 1334,1531 1338,1534 1341,1536 1345,1536 1355,1537 1357,1538 1362,1543 1366,1546 1372,1549 1376,1550 1381,1550 1385,1549 1389,1547 1411,1524 1419,1517 1427,1513 1434,1511 1446,1512 1470,1505 1495,1502 1514,1494 1541,1485 1560,1478 1560,1769 1180,1769ZM1258,1567 1254,1569 1251,1573 1250,1577 1250,1582 1252,1586 1256,1590 1260,1591 1264,1591 1267,1589 1269,1587 1271,1585 1272,1579 1272,1575 1269,1571 1266,1568 1262,1566Z"/>
<path fill="#3c72ff" fill-rule="evenodd" d="M1180,1389 1276,1389 1283,1414 1286,1427 1287,1442 1286,1459 1287,1463 1288,1468 1292,1475 1297,1482 1304,1490 1315,1501 1320,1509 1321,1512 1322,1516 1320,1530 1320,1533 1321,1535 1325,1539 1335,1547 1347,1558 1353,1561 1357,1562 1372,1561 1387,1562 1391,1562 1395,1560 1398,1556 1407,1539 1413,1530 1417,1526 1421,1522 1429,1518 1434,1517 1450,1519 1459,1518 1493,1510 1499,1509 1516,1501 1541,1493 1560,1486 1560,1769 1180,1769ZM1258,1561 1254,1563 1252,1564 1248,1569 1246,1575 1246,1581 1248,1587 1252,1592 1256,1595 1262,1595 1266,1594 1267,1593 1271,1589 1273,1583 1274,1575 1271,1569 1267,1564 1264,1562Z"/>
<path fill="#2f82fa" fill-rule="evenodd" d="M1180,1389 1268,1389 1273,1407 1276,1420 1278,1431 1280,1461 1282,1469 1284,1475 1288,1482 1292,1488 1308,1505 1312,1511 1313,1514 1314,1518 1311,1530 1311,1533 1313,1537 1317,1540 1324,1545 1330,1550 1334,1554 1343,1568 1347,1571 1351,1573 1357,1573 1376,1570 1381,1571 1396,1574 1400,1574 1402,1573 1406,1569 1408,1566 1413,1547 1416,1539 1419,1533 1421,1530 1425,1527 1429,1525 1433,1524 1438,1524 1442,1524 1449,1528 1454,1533 1461,1546 1465,1550 1469,1553 1473,1552 1476,1550 1477,1549 1481,1537 1483,1531 1487,1526 1491,1522 1494,1520 1516,1509 1560,1493 1560,1769 1180,1769ZM1256,1556 1250,1558 1247,1562 1245,1565 1243,1569 1242,1573 1242,1581 1245,1588 1247,1592 1250,1595 1256,1599 1260,1599 1264,1599 1267,1598 1269,1596 1273,1591 1275,1585 1275,1573 1271,1564 1267,1559 1262,1556Z"/>
<path fill="#2c90f0" fill-rule="evenodd" d="M1180,1389 1259,1389 1265,1408 1268,1421 1269,1435 1271,1465 1272,1471 1274,1476 1278,1482 1282,1488 1298,1507 1302,1512 1303,1518 1303,1528 1303,1531 1306,1537 1310,1541 1322,1549 1327,1552 1331,1558 1338,1571 1341,1576 1345,1580 1349,1582 1353,1582 1359,1583 1374,1579 1379,1579 1393,1581 1398,1581 1402,1581 1408,1579 1413,1575 1418,1569 1421,1564 1427,1544 1429,1540 1431,1538 1434,1537 1437,1537 1440,1539 1453,1557 1457,1561 1461,1564 1465,1566 1469,1568 1472,1568 1476,1567 1482,1564 1488,1558 1491,1552 1497,1535 1501,1530 1506,1526 1514,1520 1522,1516 1560,1502 1560,1769 1180,1769ZM1252,1550 1248,1552 1245,1555 1242,1558 1240,1562 1239,1566 1238,1571 1238,1577 1239,1583 1241,1588 1243,1592 1248,1598 1252,1601 1256,1602 1262,1603 1266,1603 1269,1601 1271,1599 1275,1592 1276,1585 1277,1575 1277,1571 1272,1560 1267,1554 1264,1551 1260,1550 1256,1549Z"/>
<path fill="#259de7" fill-rule="evenodd" d="M1180,1389 1249,1389 1256,1410 1259,1420 1260,1429 1261,1446 1260,1469 1260,1475 1262,1479 1267,1486 1285,1505 1291,1512 1294,1518 1297,1533 1300,1539 1304,1543 1319,1550 1324,1554 1327,1558 1339,1581 1343,1586 1347,1588 1351,1590 1357,1591 1364,1591 1370,1590 1381,1588 1395,1588 1405,1586 1412,1584 1420,1581 1427,1577 1436,1570 1440,1568 1444,1569 1455,1576 1465,1580 1472,1581 1478,1580 1482,1579 1486,1576 1493,1568 1498,1560 1508,1540 1512,1535 1516,1531 1524,1526 1531,1522 1560,1510 1560,1769 1180,1769ZM1252,1544 1247,1546 1243,1549 1239,1552 1236,1556 1234,1562 1234,1568 1234,1575 1235,1583 1237,1588 1239,1593 1243,1597 1247,1601 1251,1604 1256,1606 1262,1607 1266,1607 1269,1605 1271,1604 1274,1600 1276,1596 1278,1586 1278,1573 1278,1569 1275,1558 1273,1554 1270,1550 1266,1547 1261,1545 1258,1544Z"/>
<path fill="#1da9e0" fill-rule="evenodd" d="M1180,1389 1238,1389 1247,1410 1251,1429 1253,1446 1252,1467 1253,1480 1256,1487 1262,1495 1277,1511 1283,1517 1286,1524 1290,1537 1294,1543 1298,1546 1311,1550 1319,1554 1322,1556 1324,1560 1332,1573 1334,1581 1340,1589 1345,1594 1355,1598 1362,1600 1368,1600 1389,1595 1419,1589 1436,1586 1442,1586 1450,1587 1470,1593 1476,1593 1482,1592 1488,1588 1495,1580 1503,1569 1518,1546 1525,1538 1531,1533 1539,1528 1560,1519 1560,1769 1242,1769 1237,1765 1233,1764 1229,1763 1222,1765 1212,1769 1180,1769ZM1245,1541 1239,1543 1235,1547 1233,1550 1230,1556 1229,1562 1229,1569 1230,1579 1232,1586 1235,1592 1237,1596 1243,1602 1248,1605 1254,1609 1260,1610 1266,1611 1269,1610 1273,1608 1275,1605 1277,1600 1279,1594 1280,1573 1279,1558 1278,1554 1276,1550 1273,1547 1267,1543 1264,1541 1258,1539 1254,1539 1248,1540Z"/>
<path fill="#0cb3d3" fill-rule="evenodd" d="M1180,1389 1227,1389 1233,1403 1239,1418 1242,1429 1245,1441 1246,1450 1246,1465 1248,1473 1249,1484 1250,1491 1253,1497 1258,1505 1274,1526 1276,1530 1277,1533 1277,1536 1275,1537 1256,1533 1250,1533 1243,1534 1237,1537 1232,1541 1229,1545 1227,1550 1225,1562 1224,1569 1226,1581 1230,1590 1234,1598 1239,1602 1248,1609 1256,1613 1264,1615 1269,1615 1274,1613 1276,1611 1278,1609 1280,1604 1280,1598 1281,1579 1282,1573 1282,1564 1285,1554 1286,1551 1288,1551 1300,1550 1305,1551 1311,1553 1319,1558 1322,1562 1329,1573 1332,1582 1340,1595 1343,1599 1349,1604 1353,1607 1359,1609 1362,1609 1366,1609 1370,1608 1379,1604 1396,1599 1408,1596 1419,1595 1434,1595 1450,1597 1467,1601 1472,1601 1480,1601 1486,1600 1491,1598 1495,1596 1499,1592 1505,1585 1522,1560 1533,1546 1538,1541 1544,1537 1560,1529 1560,1769 1274,1769 1272,1761 1267,1752 1263,1746 1258,1740 1254,1737 1248,1734 1243,1732 1235,1731 1229,1732 1224,1733 1212,1738 1198,1746 1180,1758Z"/>
<path fill="#03bbc2" fill-rule="evenodd" d="M1180,1389 1214,1389 1224,1410 1233,1431 1237,1444 1240,1461 1244,1473 1245,1476 1243,1486 1244,1492 1245,1497 1248,1511 1249,1516 1247,1520 1246,1522 1231,1532 1228,1536 1224,1541 1223,1547 1220,1560 1220,1568 1220,1573 1221,1579 1224,1586 1227,1592 1230,1598 1235,1603 1243,1609 1248,1613 1256,1617 1264,1619 1275,1618 1279,1617 1281,1615 1282,1613 1283,1609 1282,1581 1284,1566 1286,1561 1289,1558 1292,1555 1296,1554 1302,1553 1305,1554 1315,1558 1319,1561 1328,1575 1330,1583 1333,1588 1336,1597 1343,1611 1347,1615 1349,1617 1353,1619 1357,1619 1360,1619 1366,1617 1378,1609 1381,1608 1400,1602 1412,1600 1421,1600 1431,1601 1459,1607 1469,1608 1489,1607 1499,1605 1507,1600 1513,1594 1519,1586 1528,1569 1539,1556 1548,1547 1560,1540 1560,1769 1291,1769 1290,1763 1287,1755 1273,1732 1269,1727 1264,1722 1256,1717 1247,1713 1239,1712 1229,1712 1218,1716 1203,1723 1180,1736Z"/>
<path fill="#22c1b0" fill-rule="evenodd" d="M1180,1389 1198,1389 1209,1406 1217,1421 1224,1437 1232,1459 1239,1472 1240,1475 1239,1478 1236,1490 1235,1495 1236,1507 1235,1514 1234,1516 1231,1520 1223,1528 1220,1531 1218,1535 1217,1539 1217,1545 1217,1554 1214,1569 1215,1577 1218,1585 1221,1590 1226,1598 1231,1604 1241,1612 1248,1617 1256,1621 1262,1623 1269,1624 1272,1626 1274,1628 1278,1638 1281,1643 1285,1648 1288,1650 1292,1652 1298,1653 1303,1652 1310,1651 1314,1649 1317,1647 1321,1643 1322,1640 1323,1638 1322,1636 1319,1634 1302,1625 1294,1620 1290,1616 1287,1609 1286,1604 1284,1594 1284,1583 1284,1575 1286,1568 1288,1564 1294,1558 1297,1556 1302,1555 1307,1557 1315,1561 1321,1568 1326,1577 1328,1583 1330,1588 1335,1609 1337,1626 1338,1628 1340,1629 1343,1630 1347,1630 1355,1629 1362,1627 1368,1623 1379,1614 1383,1612 1400,1606 1410,1604 1419,1604 1429,1605 1438,1606 1457,1612 1467,1613 1493,1614 1499,1614 1503,1612 1507,1611 1512,1607 1521,1600 1529,1590 1537,1577 1543,1569 1551,1560 1560,1553 1560,1769 1304,1769 1303,1761 1301,1755 1299,1752 1289,1738 1279,1720 1273,1712 1267,1707 1254,1698 1248,1696 1241,1696 1233,1696 1228,1698 1216,1702 1180,1720Z"/>
<path fill="#34c79c" fill-rule="evenodd" d="M1180,1391 1180,1389 1192,1406 1203,1425 1214,1448 1220,1461 1223,1469 1223,1473 1223,1475 1219,1482 1218,1486 1218,1492 1221,1503 1221,1509 1220,1512 1212,1520 1209,1524 1207,1528 1206,1533 1206,1541 1210,1554 1207,1564 1207,1568 1208,1573 1210,1581 1215,1590 1221,1598 1229,1605 1240,1615 1260,1628 1262,1630 1269,1638 1279,1653 1283,1657 1288,1660 1294,1662 1303,1662 1313,1660 1321,1658 1328,1653 1338,1645 1341,1642 1362,1634 1370,1628 1379,1620 1387,1615 1398,1610 1404,1608 1415,1607 1429,1608 1438,1610 1463,1618 1486,1621 1495,1622 1505,1619 1514,1614 1524,1606 1541,1588 1552,1574 1560,1566 1560,1769 1314,1769 1313,1755 1311,1748 1309,1746 1300,1738 1294,1731 1281,1708 1273,1687 1271,1685 1267,1682 1264,1681 1260,1681 1228,1687 1180,1707ZM1298,1558 1302,1557 1305,1558 1311,1561 1315,1563 1320,1569 1324,1577 1328,1590 1329,1600 1329,1607 1329,1611 1328,1615 1325,1619 1322,1621 1319,1622 1313,1621 1307,1620 1302,1618 1298,1616 1294,1613 1291,1609 1288,1604 1286,1592 1285,1583 1286,1575 1288,1569 1290,1566 1294,1561Z"/>
<path fill="#4bcb84" fill-rule="evenodd" d="M1180,1421 1180,1421 1187,1433 1193,1446 1197,1456 1198,1465 1198,1475 1195,1499 1193,1507 1187,1524 1185,1535 1184,1541 1184,1547 1186,1552 1188,1558 1192,1566 1203,1585 1207,1590 1212,1596 1237,1617 1256,1630 1261,1634 1265,1640 1272,1649 1279,1662 1283,1670 1285,1672 1288,1672 1311,1668 1319,1666 1324,1663 1332,1658 1345,1648 1366,1636 1381,1623 1389,1618 1400,1612 1406,1610 1414,1610 1421,1610 1434,1612 1442,1614 1469,1624 1484,1628 1493,1628 1505,1625 1512,1622 1519,1617 1533,1604 1547,1592 1560,1579 1560,1769 1322,1769 1321,1753 1320,1748 1318,1744 1315,1739 1305,1731 1302,1727 1294,1716 1290,1708 1287,1700 1285,1693 1283,1678 1282,1676 1281,1675 1264,1675 1229,1679 1220,1681 1197,1690 1180,1695ZM1299,1560 1302,1559 1305,1560 1314,1564 1319,1569 1323,1579 1325,1588 1326,1594 1326,1600 1325,1605 1324,1609 1322,1612 1321,1614 1317,1615 1313,1616 1307,1615 1302,1614 1298,1611 1294,1608 1292,1605 1290,1602 1288,1596 1286,1585 1287,1575 1291,1568 1296,1562Z"/>
<path fill="#6dcd67" fill-rule="evenodd" d="M1299,1562 1302,1561 1305,1561 1309,1563 1313,1565 1318,1569 1321,1577 1324,1588 1323,1600 1322,1604 1320,1607 1318,1609 1315,1611 1311,1612 1307,1612 1303,1611 1300,1609 1294,1605 1292,1602 1289,1596 1288,1590 1287,1585 1289,1575 1292,1568 1296,1564ZM1180,1575 1180,1575 1197,1592 1205,1600 1211,1604 1224,1611 1239,1622 1252,1630 1257,1634 1263,1642 1270,1653 1273,1659 1274,1662 1274,1664 1273,1666 1272,1668 1267,1670 1264,1671 1241,1671 1228,1673 1195,1681 1180,1684ZM1559,1590 1560,1590 1560,1769 1329,1769 1326,1750 1325,1744 1323,1738 1317,1730 1307,1719 1302,1713 1298,1707 1295,1700 1293,1693 1293,1687 1295,1683 1298,1679 1303,1676 1321,1671 1328,1667 1347,1653 1368,1640 1382,1626 1389,1621 1396,1617 1404,1613 1410,1612 1417,1612 1427,1613 1434,1614 1448,1619 1476,1633 1484,1634 1491,1635 1497,1633 1505,1631 1510,1629 1516,1626 1522,1621 1535,1607Z"/>
<path fill="#94ca4a" fill-rule="evenodd" d="M1299,1564 1302,1563 1303,1562 1307,1563 1311,1565 1317,1570 1320,1577 1322,1586 1322,1592 1321,1598 1319,1604 1317,1606 1313,1608 1307,1609 1303,1608 1300,1607 1296,1604 1294,1602 1290,1594 1289,1586 1289,1577 1293,1569 1296,1566ZM1180,1596 1180,1594 1191,1602 1201,1607 1207,1610 1216,1613 1222,1615 1252,1634 1258,1640 1268,1657 1269,1660 1269,1662 1268,1664 1266,1666 1260,1666 1243,1666 1235,1666 1197,1672 1180,1674ZM1557,1600 1560,1598 1560,1769 1335,1769 1331,1746 1329,1738 1326,1730 1321,1721 1306,1704 1302,1697 1301,1693 1301,1689 1303,1685 1305,1684 1321,1678 1328,1673 1349,1657 1368,1644 1383,1629 1389,1624 1396,1619 1404,1615 1410,1614 1421,1615 1429,1615 1436,1617 1444,1620 1452,1624 1470,1636 1476,1640 1482,1641 1489,1642 1497,1640 1514,1633 1518,1631 1525,1625 1537,1611Z"/>
<path fill="#b8c431" fill-rule="evenodd" d="M1298,1566 1302,1564 1303,1564 1309,1565 1313,1568 1316,1571 1319,1577 1321,1586 1319,1596 1316,1602 1314,1604 1311,1605 1307,1606 1303,1606 1298,1603 1294,1599 1291,1592 1290,1585 1291,1577 1294,1570ZM1559,1605 1560,1769 1341,1769 1336,1742 1332,1723 1328,1714 1317,1698 1316,1695 1316,1693 1319,1689 1328,1681 1346,1664 1354,1659 1366,1650 1372,1645 1384,1632 1391,1626 1400,1620 1404,1618 1408,1617 1421,1617 1431,1618 1440,1621 1450,1626 1458,1632 1470,1644 1476,1648 1484,1650 1491,1650 1501,1647 1520,1638 1527,1631 1537,1619 1541,1615ZM1180,1611 1180,1610 1199,1615 1212,1617 1218,1619 1222,1621 1235,1628 1248,1634 1253,1638 1257,1643 1261,1655 1261,1659 1258,1660 1254,1661 1235,1661 1199,1664 1180,1662Z"/>
<path fill="#d7be28" fill-rule="evenodd" d="M1301,1566 1303,1565 1307,1566 1313,1569 1316,1573 1319,1581 1319,1588 1317,1596 1315,1599 1313,1601 1309,1603 1303,1603 1298,1601 1294,1596 1292,1592 1291,1588 1291,1581 1292,1575 1296,1569 1298,1568ZM1556,1615 1560,1613 1560,1769 1347,1769 1343,1748 1339,1716 1333,1697 1333,1693 1333,1689 1335,1685 1339,1679 1347,1670 1355,1663 1372,1650 1376,1647 1388,1632 1395,1626 1404,1621 1410,1619 1425,1619 1436,1622 1445,1626 1453,1632 1459,1640 1469,1654 1471,1657 1474,1658 1478,1659 1491,1659 1508,1657 1512,1655 1517,1653 1522,1649 1527,1643 1543,1623 1548,1619ZM1196,1624 1209,1623 1214,1624 1220,1626 1231,1632 1247,1637 1250,1639 1252,1642 1254,1647 1254,1651 1253,1653 1250,1655 1245,1655 1228,1655 1207,1655 1197,1653 1190,1651 1183,1647 1180,1644 1180,1630 1183,1628 1188,1626Z"/>
<path fill="#f1ba37" fill-rule="evenodd" d="M1300,1568 1305,1566 1309,1568 1315,1573 1317,1579 1318,1586 1316,1594 1313,1598 1311,1600 1307,1601 1302,1600 1298,1598 1294,1593 1292,1588 1292,1583 1293,1577 1296,1571 1298,1569ZM1408,1623 1419,1621 1429,1622 1438,1625 1446,1630 1452,1636 1456,1643 1459,1649 1463,1665 1465,1667 1467,1668 1472,1670 1515,1664 1522,1662 1527,1659 1531,1655 1544,1635 1548,1631 1553,1626 1560,1623 1560,1769 1353,1769 1350,1755 1348,1744 1347,1733 1346,1712 1342,1693 1342,1689 1344,1683 1347,1678 1353,1670 1359,1665 1371,1657 1376,1653 1379,1648 1388,1636 1392,1632 1400,1626ZM1242,1643 1243,1643 1245,1645 1243,1646 1240,1645 1241,1644Z"/>
<path fill="#fec239" fill-rule="evenodd" d="M1300,1569 1303,1568 1305,1568 1309,1569 1314,1573 1315,1577 1317,1585 1315,1590 1313,1594 1312,1596 1307,1598 1303,1599 1300,1597 1296,1593 1294,1588 1293,1583 1294,1578 1296,1573ZM1412,1624 1421,1624 1429,1625 1436,1627 1444,1632 1449,1638 1452,1645 1454,1653 1455,1666 1458,1672 1461,1676 1465,1679 1469,1680 1472,1681 1476,1681 1480,1680 1503,1671 1508,1670 1522,1670 1529,1667 1534,1664 1538,1660 1553,1642 1560,1636 1560,1769 1360,1769 1355,1753 1353,1742 1352,1731 1352,1712 1349,1691 1350,1683 1353,1678 1359,1671 1364,1666 1376,1659 1380,1655 1389,1640 1394,1634 1399,1630 1404,1627Z"/>
<path fill="#fbd22f" fill-rule="evenodd" d="M1300,1571 1303,1570 1307,1570 1312,1573 1314,1577 1315,1583 1314,1588 1311,1593 1307,1596 1303,1596 1300,1595 1297,1592 1295,1588 1295,1585 1295,1579 1298,1574ZM1420,1626 1427,1627 1434,1629 1440,1633 1444,1638 1447,1643 1449,1649 1450,1668 1451,1674 1452,1678 1455,1683 1465,1695 1467,1697 1470,1699 1472,1700 1476,1699 1484,1695 1491,1688 1499,1679 1505,1676 1508,1675 1520,1676 1525,1676 1531,1675 1537,1673 1546,1666 1560,1653 1560,1769 1367,1769 1361,1753 1359,1740 1358,1731 1358,1712 1356,1693 1356,1687 1357,1683 1360,1678 1364,1672 1370,1668 1381,1662 1385,1659 1387,1656 1393,1642 1395,1638 1399,1634 1404,1630 1408,1629 1414,1627Z"/>
<path fill="#f5e327" fill-rule="evenodd" d="M1301,1573 1303,1572 1307,1572 1311,1575 1313,1579 1313,1585 1312,1588 1309,1592 1305,1594 1302,1593 1300,1592 1298,1589 1297,1586 1296,1583 1297,1579 1299,1575ZM1413,1630 1417,1629 1423,1629 1431,1631 1434,1633 1438,1636 1441,1640 1442,1643 1443,1647 1444,1653 1443,1672 1444,1693 1443,1697 1441,1702 1433,1719 1432,1723 1432,1727 1433,1730 1434,1734 1440,1742 1446,1747 1450,1749 1453,1750 1459,1751 1467,1749 1472,1745 1478,1740 1482,1735 1486,1729 1504,1691 1507,1688 1508,1686 1512,1684 1527,1685 1537,1683 1543,1681 1548,1678 1560,1669 1560,1769 1376,1769 1372,1762 1368,1753 1366,1746 1364,1738 1363,1729 1362,1695 1363,1685 1366,1679 1369,1676 1376,1672 1388,1668 1393,1665 1394,1660 1395,1649 1398,1642 1401,1638 1405,1634 1408,1632Z"/>
<path fill="#f7f31d" fill-rule="evenodd" d="M1302,1575 1305,1574 1307,1574 1309,1576 1311,1580 1311,1583 1310,1586 1309,1588 1307,1590 1305,1591 1303,1591 1302,1590 1300,1588 1299,1585 1299,1579ZM1412,1634 1417,1633 1421,1632 1425,1633 1429,1634 1433,1637 1435,1640 1437,1643 1438,1647 1439,1653 1438,1660 1424,1710 1422,1721 1422,1727 1423,1733 1430,1757 1431,1769 1388,1769 1381,1762 1377,1755 1373,1748 1370,1738 1369,1731 1368,1723 1369,1700 1370,1693 1372,1687 1374,1684 1376,1682 1381,1679 1395,1675 1398,1672 1400,1670 1402,1664 1401,1651 1402,1645 1403,1642 1406,1638 1409,1636ZM1560,1685 1560,1769 1484,1769 1492,1759 1499,1748 1504,1736 1514,1714 1518,1706 1522,1703 1525,1700 1546,1692Z"/>
<path fill="#f9fb15" fill-rule="evenodd" d="M1303,1579 1303,1578 1305,1578 1307,1579 1308,1581 1308,1585 1305,1587 1303,1587 1302,1585 1302,1581ZM1414,1638 1419,1636 1423,1637 1426,1638 1430,1642 1432,1647 1432,1653 1431,1657 1429,1661 1425,1665 1421,1668 1419,1668 1417,1668 1415,1667 1414,1665 1410,1658 1408,1651 1408,1647 1409,1643 1411,1640ZM1395,1687 1404,1686 1408,1687 1410,1688 1411,1691 1413,1698 1414,1723 1415,1740 1415,1746 1414,1752 1412,1755 1408,1759 1404,1760 1400,1760 1395,1759 1389,1755 1385,1751 1381,1746 1378,1740 1376,1734 1375,1729 1375,1721 1376,1712 1377,1702 1379,1697 1382,1693 1385,1690 1389,1689ZM1558,1704 1560,1703 1560,1769 1512,1769 1527,1736 1534,1725 1538,1719 1542,1716Z"/>
</g>
<path d="M1294.2,1389.1 1302.8,1436.6 1309.0,1466.9 1310.0,1470.7 1312.0,1474.5 1318.3,1484.0 1321.4,1487.8 1331.9,1497.6 1335.7,1500.1 1339.5,1501.9 1347.1,1504.2 1352.8,1504.4 1356.6,1503.5 1358.5,1502.5 1366.1,1497.3 1369.9,1496.6 1371.3,1497.3 1372.4,1499.2 1373.4,1510.6 1375.6,1518.6 1378.8,1523.9 1381.3,1525.9 1383.2,1526.8 1385.1,1527.3 1388.9,1527.2 1396.5,1524.8 1402.2,1521.7 1419.2,1510.2 1424.9,1507.2 1430.6,1504.8 1440.1,1502.2 1453.4,1499.9 1472.4,1495.6 1487.5,1493.2 1498.9,1490.5 1535.0,1478.1 1546.4,1473.3 1559.7,1467.0M1259.8,1572.3 1255.9,1575.1 1254.9,1577.0 1254.8,1580.8 1256.0,1583.4 1257.9,1585.1 1259.8,1586.0 1261.7,1586.4 1263.6,1586.0 1265.5,1585.1 1267.8,1582.7 1268.6,1580.8 1268.5,1577.0 1267.4,1574.8 1265.5,1573.2 1263.6,1572.3 1261.7,1571.9 1259.8,1572.3M1267.8,1389.1 1273.1,1407.0 1276.1,1419.5 1277.7,1430.9 1280.1,1461.3 1281.9,1468.8 1284.0,1474.5 1288.3,1482.1 1292.3,1487.8 1297.8,1494.1 1308.4,1504.9 1312.1,1510.6 1313.5,1514.4 1313.8,1518.2 1311.3,1525.8 1310.5,1529.6 1311.1,1533.4 1313.0,1536.7 1316.8,1540.4 1324.4,1545.3 1330.7,1550.4 1335.2,1556.1 1342.6,1567.5 1345.2,1570.1 1349.0,1572.2 1352.8,1573.1 1356.6,1573.1 1369.9,1570.9 1375.6,1570.4 1381.3,1571.0 1396.5,1573.9 1400.3,1573.6 1402.2,1572.7 1406.0,1569.4 1408.3,1565.6 1413.2,1546.6 1416.0,1539.1 1418.8,1533.4 1421.1,1530.4 1424.9,1527.1 1428.7,1524.9 1432.5,1523.8 1438.2,1523.7 1442.0,1524.2 1445.7,1525.8 1448.6,1527.7 1454.1,1533.4 1461.0,1545.7 1464.6,1550.4 1466.7,1552.0 1468.6,1552.7 1470.5,1552.9 1473.4,1552.3 1476.0,1550.4 1477.2,1548.5 1480.6,1537.2 1483.0,1531.5 1486.9,1525.8 1491.1,1522.0 1494.0,1520.1 1516.0,1509.3 1559.7,1493.4M1256.0,1555.8 1252.3,1557.2 1250.4,1558.4 1246.9,1561.8 1244.7,1565.2 1243.0,1569.4 1242.3,1573.2 1242.4,1580.8 1243.4,1584.6 1244.9,1588.4 1247.3,1592.2 1250.4,1595.5 1253.9,1597.9 1256.0,1598.7 1259.8,1599.4 1263.6,1599.1 1267.4,1597.6 1269.3,1596.0 1273.1,1590.7 1274.7,1584.6 1275.4,1577.0 1275.3,1573.2 1271.2,1563.7 1267.4,1559.2 1261.7,1556.2 1256.0,1555.8M1231.5,1389.1 1240.3,1410.0 1243.4,1419.5 1245.9,1429.0 1247.6,1438.5 1248.5,1446.1 1248.7,1451.8 1248.1,1465.0 1249.6,1472.6 1249.9,1480.2 1251.9,1487.8 1254.1,1492.6 1259.8,1500.9 1275.0,1517.9 1279.5,1523.9 1282.4,1529.6 1285.7,1540.9 1287.8,1544.7 1290.4,1546.6 1294.0,1547.9 1303.5,1549.4 1309.2,1551.1 1316.8,1554.9 1320.6,1557.4 1322.5,1560.0 1329.9,1573.2 1332.4,1580.8 1339.5,1592.6 1345.2,1597.9 1350.9,1601.6 1354.7,1603.5 1362.3,1605.5 1368.0,1605.5 1377.5,1602.2 1398.4,1596.5 1415.4,1593.0 1424.9,1592.1 1434.4,1592.0 1443.9,1592.8 1455.3,1594.6 1464.8,1597.2 1470.5,1598.1 1478.1,1598.3 1483.8,1597.3 1490.2,1594.1 1496.6,1588.4 1503.7,1578.9 1523.6,1550.0 1531.2,1541.2 1536.0,1537.2 1541.8,1533.4 1559.7,1525.0M1244.7,1536.7 1239.0,1538.9 1235.2,1541.5 1231.4,1545.6 1228.9,1550.4 1226.6,1559.9 1226.2,1565.6 1226.9,1575.1 1229.1,1584.6 1231.3,1590.3 1235.2,1596.7 1239.0,1600.8 1244.7,1605.4 1250.4,1609.0 1257.9,1612.0 1263.6,1613.2 1269.3,1613.0 1273.1,1611.3 1275.3,1609.3 1277.4,1605.5 1279.1,1599.8 1280.3,1588.4 1280.3,1578.9 1281.0,1573.2 1280.5,1565.6 1281.5,1556.1 1281.1,1550.4 1280.4,1548.5 1278.8,1546.5 1269.3,1540.0 1265.5,1538.4 1256.0,1535.7 1250.4,1535.7 1244.7,1536.7M1265.2,1768.7 1263.1,1763.0 1259.8,1756.8 1256.0,1751.7 1252.3,1748.1 1248.5,1745.4 1242.8,1743.0 1239.0,1742.0 1233.3,1741.7 1227.6,1742.2 1221.9,1743.7 1210.5,1748.6 1196.3,1757.3 1181.1,1768.7M1180.1,1400.8 1191.5,1418.2 1201.0,1435.0 1208.7,1451.8 1211.4,1459.4 1212.7,1465.0 1212.8,1470.7 1210.0,1485.9 1210.8,1501.1 1210.6,1504.9 1209.4,1508.7 1202.9,1519.3 1199.9,1525.8 1197.8,1533.4 1196.9,1540.9 1197.2,1548.2 1199.4,1554.2 1200.2,1559.9 1203.7,1573.2 1205.7,1578.9 1210.6,1588.4 1216.6,1596.0 1226.7,1605.5 1238.1,1615.0 1259.9,1630.1 1268.1,1639.6 1278.8,1656.3 1284.5,1661.9 1288.3,1664.2 1294.0,1665.4 1305.4,1664.7 1313.0,1663.4 1321.3,1660.5 1330.1,1655.1 1339.5,1647.1 1343.3,1644.5 1364.2,1634.7 1381.3,1620.8 1388.9,1615.7 1400.3,1610.3 1406.0,1608.8 1415.4,1607.9 1428.7,1609.0 1440.1,1611.8 1457.2,1617.8 1464.8,1620.0 1483.8,1623.8 1493.2,1624.4 1498.9,1623.5 1504.6,1622.0 1508.4,1620.3 1514.1,1616.9 1523.6,1609.1 1543.2,1590.3 1559.7,1571.9M1296.4,1559.9 1299.7,1558.4 1303.5,1558.3 1307.3,1559.6 1313.0,1562.3 1318.7,1567.8 1323.7,1577.0 1326.6,1590.3 1327.5,1597.9 1327.7,1605.5 1327.1,1609.3 1325.8,1613.1 1322.8,1616.9 1320.6,1618.1 1316.8,1619.0 1311.1,1618.8 1307.3,1618.1 1301.6,1616.1 1297.8,1613.8 1294.0,1610.6 1291.5,1607.4 1289.4,1603.6 1287.4,1597.9 1286.2,1592.2 1285.6,1584.6 1286.1,1577.0 1287.0,1573.2 1289.4,1567.5 1292.1,1564.0 1296.4,1559.9M1317.2,1768.7 1316.6,1755.4 1315.6,1749.7 1314.3,1745.9 1313.2,1744.0 1311.1,1742.1 1302.7,1736.4 1299.3,1732.6 1295.2,1726.9 1289.5,1717.4 1285.0,1707.9 1282.0,1700.3 1277.2,1685.2 1274.3,1681.4 1271.4,1679.5 1267.4,1678.2 1263.6,1678.0 1227.9,1683.3 1180.1,1701.8M1301.1,1567.5 1303.5,1566.8 1307.3,1567.0 1311.3,1569.4 1315.0,1573.2 1317.3,1580.8 1317.5,1586.5 1316.7,1590.3 1315.2,1594.1 1313.0,1597.3 1311.1,1598.9 1307.3,1600.5 1305.4,1600.6 1301.6,1600.0 1297.8,1597.7 1294.0,1592.2 1292.7,1588.4 1292.4,1582.7 1293.3,1577.0 1296.4,1571.3 1298.1,1569.4 1301.1,1567.5M1354.5,1768.7 1350.9,1755.1 1349.1,1744.0 1348.0,1730.7 1347.9,1713.6 1343.4,1692.8 1343.4,1689.0 1344.2,1685.2 1345.7,1681.4 1347.9,1677.6 1352.5,1671.9 1358.7,1666.2 1371.8,1657.0 1375.6,1653.8 1379.4,1649.5 1390.6,1633.9 1397.5,1628.2 1402.2,1625.3 1406.0,1623.6 1409.7,1622.6 1417.3,1621.9 1423.0,1621.8 1428.4,1622.5 1434.4,1624.2 1439.4,1626.3 1447.4,1632.0 1450.8,1635.8 1453.3,1639.6 1456.8,1647.2 1458.4,1652.9 1460.6,1664.3 1462.6,1668.1 1466.7,1670.8 1472.4,1671.8 1478.1,1671.3 1502.7,1666.7 1517.9,1665.2 1521.7,1664.3 1523.6,1663.3 1527.7,1660.5 1533.1,1654.8 1545.2,1637.7 1549.8,1632.0 1554.1,1628.2 1559.7,1624.8M1235.2,1641.5 1234.0,1643.6 1231.9,1644.8 1229.5,1645.2 1227.2,1645.2 1224.8,1644.8 1222.6,1644.0 1220.6,1642.6 1219.3,1640.4 1219.6,1638.2 1221.5,1636.5 1223.7,1635.7 1226.1,1635.5 1228.5,1635.8 1230.8,1636.4 1232.9,1637.5 1234.6,1639.2 1235.2,1641.5Z" fill="none" stroke="#000" stroke-width="1.7" stroke-linejoin="round"/>
</g>
<circle cx="1369.9" cy="1578.9" r="175.7" fill="none" stroke="#444" stroke-width="1.3"/>
<path d="M1342.2,1447.8h3M1343.7,1446.3v3M1317.0,1455.9h3M1318.5,1454.4v3M1262.0,1464.7h3M1263.5,1463.2v3M1336.4,1473.5h3M1337.9,1472.0v3M1367.9,1479.8h3M1369.4,1478.3v3M1273.4,1485.4h3M1274.9,1483.9v3M1293.5,1498.2h3M1295.0,1496.7v3M1317.0,1506.8h3M1318.5,1505.3v3M1342.2,1510.8h3M1343.7,1509.3v3M1365.4,1513.1h3M1366.9,1511.6v3M1244.4,1528.5h3M1245.9,1527.0v3M1491.4,1528.5h3M1492.9,1527.0v3M1273.4,1537.3h3M1274.9,1535.8v3M1462.4,1537.3h3M1463.9,1535.8v3M1304.9,1542.9h3M1306.4,1541.4v3M1430.9,1542.9h3M1432.4,1541.4v3M1336.4,1544.9h3M1337.9,1543.4v3M1399.4,1544.9h3M1400.9,1543.4v3M1234.3,1579.9h3M1235.8,1578.4v3M1268.3,1579.9h3M1269.8,1578.4v3M1300.6,1579.9h3M1302.1,1578.4v3M1334.4,1579.9h3M1335.9,1578.4v3M1367.9,1579.9h3M1369.4,1578.4v3M1401.9,1579.9h3M1403.4,1578.4v3M1435.2,1579.9h3M1436.7,1578.4v3M1467.5,1579.9h3M1469.0,1578.4v3M1501.5,1579.9h3M1503.0,1578.4v3M1336.4,1614.2h3M1337.9,1612.7v3M1399.4,1614.2h3M1400.9,1612.7v3M1367.9,1613.4h3M1369.4,1611.9v3M1304.9,1616.0h3M1306.4,1614.5v3M1430.9,1616.0h3M1432.4,1614.5v3M1274.1,1622.3h3M1275.6,1620.8v3M1462.4,1622.3h3M1463.9,1620.8v3M1244.4,1630.3h3M1245.9,1628.8v3M1491.4,1630.3h3M1492.9,1628.8v3M1342.2,1648.0h3M1343.7,1646.5v3M1317.0,1652.0h3M1318.5,1650.5v3M1293.5,1660.8h3M1295.0,1659.3v3M1273.4,1673.4h3M1274.9,1671.9v3M1462.4,1673.4h3M1463.9,1671.9v3M1336.4,1686.0h3M1337.9,1684.5v3M1262.0,1694.6h3M1263.5,1693.1v3M1474.3,1694.6h3M1475.8,1693.1v3M1317.0,1702.9h3M1318.5,1701.4v3M1342.2,1711.7h3M1343.7,1710.2v3M1367.9,1745.8h3M1369.4,1744.3v3" stroke="#000" stroke-width="1.6" stroke-linecap="round" fill="none"/>
<path d="M1390.6,1445.5h10M1395.6,1440.5v10M1415.8,1452.4h10M1420.8,1447.4v10M1472.3,1461.9h10M1477.3,1456.9v10M1396.2,1472.0h10M1401.2,1467.0v10M1459.9,1484.1h10M1464.9,1479.1v10M1440.3,1497.2h10M1445.3,1492.2v10M1390.6,1509.8h10M1395.6,1504.8v10M1416.8,1509.3h10M1421.8,1504.3v10M1364.6,1648.0h10M1369.6,1643.0v10M1390.6,1649.0h10M1395.6,1644.0v10M1415.8,1653.5h10M1420.8,1648.5v10M1440.3,1662.3h10M1445.3,1657.3v10M1364.1,1680.7h10M1369.1,1675.7v10M1394.9,1687.0h10M1399.9,1682.0v10M1415.8,1705.2h10M1420.8,1700.2v10M1363.4,1714.5h10M1368.4,1709.5v10M1390.6,1712.8h10M1395.6,1707.8v10" stroke="#f01428" stroke-width="2.6" fill="none"/>
</g>
<rect x="111.5" y="1076.2" width="150.2" height="9.6" fill="#ffff80"/>
<text x="112.2" y="1080.8" font-size="31" textLength="144" lengthAdjust="spacingAndGlyphs">90-110 ms</text>
<text x="112.2" y="1121" font-size="31" textLength="134" lengthAdjust="spacingAndGlyphs">dissonant</text>
<text x="112.2" y="1157.6" font-size="31" textLength="29" lengthAdjust="spacingAndGlyphs">vs</text>
<text x="112.2" y="1194.8" font-size="31" textLength="93" lengthAdjust="spacingAndGlyphs">neutral</text>
<rect x="721" y="1078.0" width="148.8" height="9.6" fill="#ffff80"/>
<text x="722" y="1082.6" font-size="31" textLength="143" lengthAdjust="spacingAndGlyphs">90-110 ms</text>
<text x="723.5" y="1122" font-size="31" textLength="144" lengthAdjust="spacingAndGlyphs">consonant</text>
<text x="723.5" y="1158.8" font-size="31" textLength="29" lengthAdjust="spacingAndGlyphs">vs</text>
<text x="723.5" y="1196.3" font-size="31" textLength="93" lengthAdjust="spacingAndGlyphs">neutral</text>
<rect x="1314.7" y="1081.0" width="150.2" height="9.6" fill="#ffff80"/>
<text x="1315.4" y="1085.6" font-size="31" textLength="144" lengthAdjust="spacingAndGlyphs">90-110 ms</text>
<text x="1315.4" y="1125.8" font-size="31" textLength="144" lengthAdjust="spacingAndGlyphs">consonant</text>
<text x="1315.4" y="1162.8" font-size="31" textLength="29" lengthAdjust="spacingAndGlyphs">vs</text>
<text x="1315.4" y="1199.7" font-size="31" textLength="134" lengthAdjust="spacingAndGlyphs">dissonant</text>
<rect x="420.5" y="1448.8" width="154.5" height="9.6" fill="#80ff80"/>
<text x="417.8" y="1453.4" font-size="31" textLength="159" lengthAdjust="spacingAndGlyphs">190-210 ms</text>
<text x="417.8" y="1493.7" font-size="31" textLength="134" lengthAdjust="spacingAndGlyphs">dissonant</text>
<text x="417.8" y="1530.6" font-size="31" textLength="29" lengthAdjust="spacingAndGlyphs">vs</text>
<text x="417.8" y="1567.6" font-size="31" textLength="93" lengthAdjust="spacingAndGlyphs">neutral</text>
<rect x="1034.8" y="1447.8" width="157.5" height="9.6" fill="#80ffff"/>
<text x="1033.1" y="1452.4" font-size="31" textLength="160.5" lengthAdjust="spacingAndGlyphs">290-310 ms</text>
<text x="1038.5" y="1492.7" font-size="31" textLength="134" lengthAdjust="spacingAndGlyphs">dissonant</text>
<text x="1038.5" y="1529.6" font-size="31" textLength="29" lengthAdjust="spacingAndGlyphs">vs</text>
<text x="1038.5" y="1566.6" font-size="31" textLength="93" lengthAdjust="spacingAndGlyphs">neutral</text>
<defs><linearGradient id="cb" x1="0" x2="1" y1="0" y2="0"><stop offset="0.0000" stop-color="#3e26a8"/><stop offset="0.0625" stop-color="#4536d5"/><stop offset="0.1250" stop-color="#484cef"/><stop offset="0.1875" stop-color="#4562fc"/><stop offset="0.2500" stop-color="#347afd"/><stop offset="0.3125" stop-color="#2c90f0"/><stop offset="0.3750" stop-color="#21a3e3"/><stop offset="0.4375" stop-color="#0cb3d3"/><stop offset="0.5000" stop-color="#12beb9"/><stop offset="0.5625" stop-color="#34c79c"/><stop offset="0.6250" stop-color="#5ccc76"/><stop offset="0.6875" stop-color="#94ca4a"/><stop offset="0.7500" stop-color="#c8c129"/><stop offset="0.8125" stop-color="#f1ba37"/><stop offset="0.8750" stop-color="#feca33"/><stop offset="0.9375" stop-color="#f5e327"/><stop offset="1.0000" stop-color="#f9fb15"/></linearGradient></defs>
<rect x="794.5" y="1788.2" width="504.5" height="30" fill="url(#cb)" stroke="#222" stroke-width="1.2"/>
<text x="876.1" y="1839.5" font-size="22" text-anchor="middle">-0.4</text>
<text x="960.0" y="1839.5" font-size="22" text-anchor="middle">-0.2</text>
<text x="1046.6" y="1839.5" font-size="22" text-anchor="middle">0</text>
<text x="1131.7" y="1837.5" font-size="22" text-anchor="middle">0.2</text>
<text x="1215.6" y="1837.5" font-size="22" text-anchor="middle">0.4</text>
<path d="M878.8,1818v-5M962.7,1818v-5M1046.6,1818v-5M1130.5,1818v-5M1214.4,1818v-5" stroke="#222" stroke-width="1.2" fill="none"/>
<text x="1051" y="1868" font-size="22" text-anchor="middle">µV</text>
</svg></body></html>
